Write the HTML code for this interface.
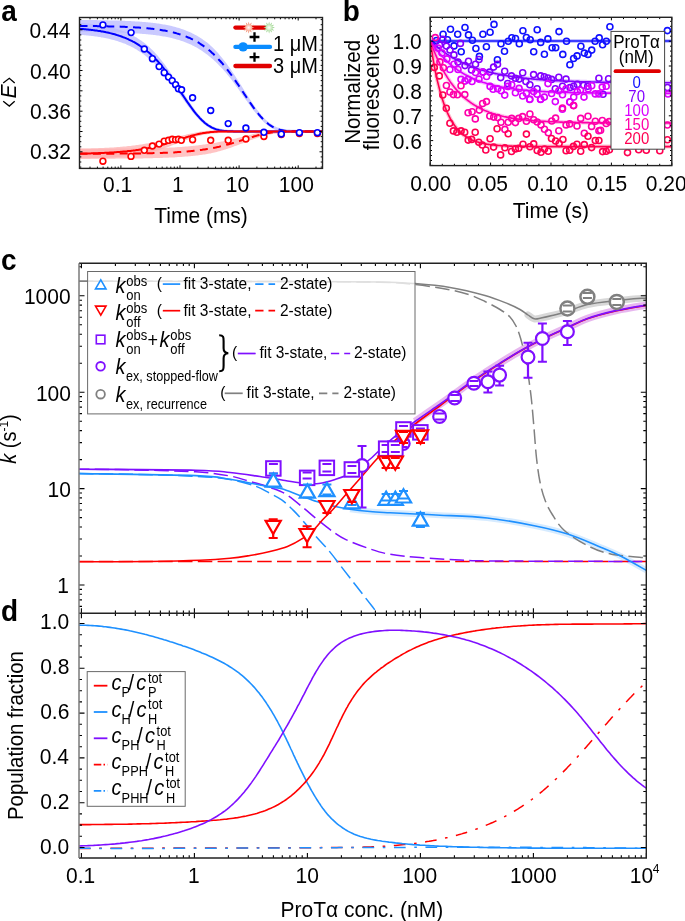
<!DOCTYPE html>
<html><head><meta charset="utf-8"><style>
html,body{margin:0;padding:0;background:#fff;}
svg{display:block;will-change:transform;}
</style></head><body>
<svg width="685" height="921" viewBox="0 0 685 921">
<defs><clipPath id="ca"><rect x="79.5" y="17.5" width="243.0" height="150.9"/></clipPath></defs>
<g clip-path="url(#ca)">
<path d="M79.5,20.0 L80.7,20.0 L81.9,20.0 L83.1,20.0 L84.4,20.0 L85.6,20.0 L86.8,20.0 L88.0,20.0 L89.2,20.1 L90.4,20.1 L91.7,20.1 L92.9,20.1 L94.1,20.1 L95.3,20.1 L96.5,20.1 L97.7,20.2 L98.9,20.2 L100.2,20.2 L101.4,20.2 L102.6,20.2 L103.8,20.3 L105.0,20.3 L106.2,20.3 L107.4,20.3 L108.7,20.4 L109.9,20.4 L111.1,20.4 L112.3,20.4 L113.5,20.5 L114.7,20.5 L116.0,20.5 L117.2,20.6 L118.4,20.6 L119.6,20.6 L120.8,20.7 L122.0,20.7 L123.2,20.8 L124.5,20.8 L125.7,20.9 L126.9,20.9 L128.1,21.0 L129.3,21.0 L130.5,21.1 L131.7,21.2 L133.0,21.2 L134.2,21.3 L135.4,21.4 L136.6,21.4 L137.8,21.5 L139.0,21.6 L140.2,21.7 L141.5,21.8 L142.7,21.9 L143.9,22.0 L145.1,22.1 L146.3,22.2 L147.5,22.3 L148.8,22.4 L150.0,22.5 L151.2,22.7 L152.4,22.8 L153.6,23.0 L154.8,23.1 L156.0,23.3 L157.3,23.4 L158.5,23.6 L159.7,23.8 L160.9,24.0 L162.1,24.2 L163.3,24.4 L164.5,24.6 L165.8,24.8 L167.0,25.1 L168.2,25.3 L169.4,25.6 L170.6,25.8 L171.8,26.1 L173.1,26.4 L174.3,26.7 L175.5,27.0 L176.7,27.4 L177.9,27.7 L179.1,28.1 L180.3,28.5 L181.6,28.9 L182.8,29.3 L184.0,29.8 L185.2,30.2 L186.4,30.7 L187.6,31.2 L188.9,31.7 L190.1,32.2 L191.3,32.8 L192.5,33.4 L193.7,34.0 L194.9,34.7 L196.1,35.3 L197.4,36.0 L198.6,36.7 L199.8,37.5 L201.0,38.3 L202.2,39.1 L203.4,39.9 L204.6,40.8 L205.9,41.7 L207.1,42.6 L208.3,43.6 L209.5,44.6 L210.7,45.7 L211.9,46.8 L213.2,48.0 L214.4,49.2 L215.6,50.5 L216.8,51.8 L218.0,53.1 L219.2,54.5 L220.4,55.9 L221.7,57.4 L222.9,58.9 L224.1,60.4 L225.3,62.0 L226.5,63.6 L227.7,65.2 L228.9,66.9 L230.2,68.6 L231.4,70.4 L232.6,72.2 L233.8,74.0 L235.0,75.8 L236.2,77.7 L237.4,79.6 L238.7,81.5 L239.9,83.4 L241.1,85.3 L242.3,87.2 L243.5,89.2 L244.7,91.1 L246.0,93.1 L247.2,95.0 L248.4,96.9 L249.6,98.8 L250.8,100.6 L252.0,102.5 L253.2,104.3 L254.5,106.0 L255.7,107.8 L256.9,109.4 L258.1,111.0 L259.3,112.6 L260.5,114.1 L261.8,115.5 L263.0,116.9 L264.2,118.2 L265.4,119.4 L266.6,120.5 L267.8,121.6 L269.0,122.6 L270.3,123.5 L271.5,124.3 L272.7,125.1 L273.9,125.7 L275.1,126.4 L276.3,126.9 L277.5,127.4 L278.8,127.8 L280.0,128.2 L281.2,128.5 L282.4,128.8 L283.6,129.0 L284.8,129.2 L286.1,129.3 L287.3,129.5 L288.5,129.6 L289.7,129.6 L290.9,129.7 L292.1,129.8 L293.3,129.8 L294.6,129.8 L295.8,129.8 L297.0,129.9 L298.2,129.9 L299.4,129.9 L300.6,129.9 L301.8,129.9 L303.1,129.9 L304.3,129.9 L305.5,129.9 L306.7,129.9 L307.9,129.9 L309.1,129.9 L310.4,129.9 L311.6,129.9 L312.8,129.9 L314.0,129.9 L315.2,129.9 L316.4,129.9 L317.6,129.9 L318.9,129.9 L320.1,129.9 L321.3,129.9 L322.5,129.9 L322.5,132.9 L321.3,132.9 L320.1,132.9 L318.9,132.9 L317.6,132.9 L316.4,132.9 L315.2,132.9 L314.0,132.9 L312.8,132.9 L311.6,132.9 L310.4,132.9 L309.1,132.9 L307.9,132.9 L306.7,132.9 L305.5,132.9 L304.3,132.9 L303.1,132.9 L301.8,132.9 L300.6,132.9 L299.4,132.9 L298.2,132.9 L297.0,132.9 L295.8,132.9 L294.6,132.8 L293.3,132.8 L292.1,132.8 L290.9,132.7 L289.7,132.7 L288.5,132.6 L287.3,132.5 L286.1,132.4 L284.8,132.3 L283.6,132.1 L282.4,131.9 L281.2,131.6 L280.0,131.4 L278.8,131.0 L277.5,130.6 L276.3,130.2 L275.1,129.7 L273.9,129.2 L272.7,128.6 L271.5,127.9 L270.3,127.1 L269.0,126.3 L267.8,125.5 L266.6,124.5 L265.4,123.5 L264.2,122.4 L263.0,121.3 L261.8,120.0 L260.5,118.8 L259.3,117.4 L258.1,116.0 L256.9,114.6 L255.7,113.1 L254.5,111.6 L253.2,110.0 L252.0,108.4 L250.8,106.7 L249.6,105.0 L248.4,103.4 L247.2,101.6 L246.0,99.9 L244.7,98.2 L243.5,96.5 L242.3,94.7 L241.1,93.0 L239.9,91.3 L238.7,89.5 L237.4,87.8 L236.2,86.2 L235.0,84.5 L233.8,82.8 L232.6,81.2 L231.4,79.6 L230.2,78.1 L228.9,76.5 L227.7,75.0 L226.5,73.5 L225.3,72.1 L224.1,70.7 L222.9,69.3 L221.7,68.0 L220.4,66.7 L219.2,65.4 L218.0,64.2 L216.8,63.0 L215.6,61.8 L214.4,60.7 L213.2,59.6 L211.9,58.6 L210.7,57.5 L209.5,56.6 L208.3,55.6 L207.1,54.6 L205.9,53.7 L204.6,52.8 L203.4,51.9 L202.2,51.1 L201.0,50.3 L199.8,49.5 L198.6,48.7 L197.4,48.0 L196.1,47.3 L194.9,46.7 L193.7,46.0 L192.5,45.4 L191.3,44.8 L190.1,44.2 L188.9,43.7 L187.6,43.2 L186.4,42.7 L185.2,42.2 L184.0,41.8 L182.8,41.3 L181.6,40.9 L180.3,40.5 L179.1,40.1 L177.9,39.7 L176.7,39.4 L175.5,39.0 L174.3,38.7 L173.1,38.4 L171.8,38.1 L170.6,37.8 L169.4,37.6 L168.2,37.3 L167.0,37.1 L165.8,36.8 L164.5,36.6 L163.3,36.4 L162.1,36.2 L160.9,36.0 L159.7,35.8 L158.5,35.6 L157.3,35.4 L156.0,35.3 L154.8,35.1 L153.6,35.0 L152.4,34.8 L151.2,34.7 L150.0,34.5 L148.8,34.4 L147.5,34.3 L146.3,34.2 L145.1,34.1 L143.9,34.0 L142.7,33.9 L141.5,33.8 L140.2,33.7 L139.0,33.6 L137.8,33.5 L136.6,33.4 L135.4,33.4 L134.2,33.3 L133.0,33.2 L131.7,33.2 L130.5,33.1 L129.3,33.0 L128.1,33.0 L126.9,32.9 L125.7,32.9 L124.5,32.8 L123.2,32.8 L122.0,32.7 L120.8,32.7 L119.6,32.6 L118.4,32.6 L117.2,32.6 L116.0,32.5 L114.7,32.5 L113.5,32.5 L112.3,32.4 L111.1,32.4 L109.9,32.4 L108.7,32.4 L107.4,32.3 L106.2,32.3 L105.0,32.3 L103.8,32.3 L102.6,32.2 L101.4,32.2 L100.2,32.2 L98.9,32.2 L97.7,32.2 L96.5,32.1 L95.3,32.1 L94.1,32.1 L92.9,32.1 L91.7,32.1 L90.4,32.1 L89.2,32.1 L88.0,32.0 L86.8,32.0 L85.6,32.0 L84.4,32.0 L83.1,32.0 L81.9,32.0 L80.7,32.0 L79.5,32.0Z" fill="#b8b8ff" fill-opacity="0.75"/>
<path d="M79.5,22.8 L80.7,22.9 L81.9,23.0 L83.1,23.1 L84.4,23.2 L85.6,23.3 L86.8,23.4 L88.0,23.5 L89.2,23.7 L90.4,23.8 L91.7,23.9 L92.9,24.1 L94.1,24.2 L95.3,24.4 L96.5,24.6 L97.7,24.8 L98.9,24.9 L100.2,25.1 L101.4,25.4 L102.6,25.6 L103.8,25.8 L105.0,26.0 L106.2,26.3 L107.4,26.5 L108.7,26.8 L109.9,27.1 L111.1,27.4 L112.3,27.7 L113.5,28.0 L114.7,28.3 L116.0,28.7 L117.2,29.1 L118.4,29.5 L119.6,29.9 L120.8,30.3 L122.0,30.7 L123.2,31.2 L124.5,31.6 L125.7,32.1 L126.9,32.7 L128.1,33.2 L129.3,33.8 L130.5,34.3 L131.7,34.9 L133.0,35.6 L134.2,36.2 L135.4,36.9 L136.6,37.6 L137.8,38.4 L139.0,39.2 L140.2,40.0 L141.5,40.8 L142.7,41.7 L143.9,42.6 L145.1,43.5 L146.3,44.5 L147.5,45.5 L148.8,46.6 L150.0,47.7 L151.2,48.9 L152.4,50.1 L153.6,51.3 L154.8,52.6 L156.0,54.0 L157.3,55.3 L158.5,56.7 L159.7,58.2 L160.9,59.7 L162.1,61.2 L163.3,62.7 L164.5,64.3 L165.8,66.0 L167.0,67.7 L168.2,69.4 L169.4,71.1 L170.6,72.9 L171.8,74.7 L173.1,76.5 L174.3,78.3 L175.5,80.2 L176.7,82.1 L177.9,84.0 L179.1,85.9 L180.3,87.8 L181.6,89.8 L182.8,91.7 L184.0,93.6 L185.2,95.5 L186.4,97.4 L187.6,99.3 L188.9,101.1 L190.1,102.9 L191.3,104.7 L192.5,106.4 L193.7,108.1 L194.9,109.8 L196.1,111.4 L197.4,112.9 L198.6,114.4 L199.8,115.8 L201.0,117.1 L202.2,118.4 L203.4,119.6 L204.6,120.7 L205.9,121.8 L207.1,122.7 L208.3,123.6 L209.5,124.4 L210.7,125.2 L211.9,125.8 L213.2,126.4 L214.4,127.0 L215.6,127.5 L216.8,127.9 L218.0,128.2 L219.2,128.5 L220.4,128.8 L221.7,129.0 L222.9,129.2 L224.1,129.4 L225.3,129.5 L226.5,129.6 L227.7,129.7 L228.9,129.7 L230.2,129.8 L231.4,129.8 L232.6,129.8 L233.8,129.9 L235.0,129.9 L236.2,129.9 L237.4,129.9 L238.7,129.9 L239.9,129.9 L241.1,129.9 L242.3,129.9 L243.5,129.9 L244.7,129.9 L246.0,129.9 L247.2,129.9 L248.4,129.9 L249.6,129.9 L250.8,129.9 L252.0,129.9 L253.2,129.9 L254.5,129.9 L255.7,129.9 L256.9,129.9 L258.1,129.9 L259.3,129.9 L260.5,129.9 L261.8,129.9 L263.0,129.9 L264.2,129.9 L265.4,129.9 L266.6,129.9 L267.8,129.9 L269.0,129.9 L270.3,129.9 L271.5,129.9 L272.7,129.9 L273.9,129.9 L275.1,129.9 L276.3,129.9 L277.5,129.9 L278.8,129.9 L280.0,129.9 L281.2,129.9 L282.4,129.9 L283.6,129.9 L284.8,129.9 L286.1,129.9 L287.3,129.9 L288.5,129.9 L289.7,129.9 L290.9,129.9 L292.1,129.9 L293.3,129.9 L294.6,129.9 L295.8,129.9 L297.0,129.9 L298.2,129.9 L299.4,129.9 L300.6,129.9 L301.8,129.9 L303.1,129.9 L304.3,129.9 L305.5,129.9 L306.7,129.9 L307.9,129.9 L309.1,129.9 L310.4,129.9 L311.6,129.9 L312.8,129.9 L314.0,129.9 L315.2,129.9 L316.4,129.9 L317.6,129.9 L318.9,129.9 L320.1,129.9 L321.3,129.9 L322.5,129.9 L322.5,132.9 L321.3,132.9 L320.1,132.9 L318.9,132.9 L317.6,132.9 L316.4,132.9 L315.2,132.9 L314.0,132.9 L312.8,132.9 L311.6,132.9 L310.4,132.9 L309.1,132.9 L307.9,132.9 L306.7,132.9 L305.5,132.9 L304.3,132.9 L303.1,132.9 L301.8,132.9 L300.6,132.9 L299.4,132.9 L298.2,132.9 L297.0,132.9 L295.8,132.9 L294.6,132.9 L293.3,132.9 L292.1,132.9 L290.9,132.9 L289.7,132.9 L288.5,132.9 L287.3,132.9 L286.1,132.9 L284.8,132.9 L283.6,132.9 L282.4,132.9 L281.2,132.9 L280.0,132.9 L278.8,132.9 L277.5,132.9 L276.3,132.9 L275.1,132.9 L273.9,132.9 L272.7,132.9 L271.5,132.9 L270.3,132.9 L269.0,132.9 L267.8,132.9 L266.6,132.9 L265.4,132.9 L264.2,132.9 L263.0,132.9 L261.8,132.9 L260.5,132.9 L259.3,132.9 L258.1,132.9 L256.9,132.9 L255.7,132.9 L254.5,132.9 L253.2,132.9 L252.0,132.9 L250.8,132.9 L249.6,132.9 L248.4,132.9 L247.2,132.9 L246.0,132.9 L244.7,132.9 L243.5,132.9 L242.3,132.9 L241.1,132.9 L239.9,132.9 L238.7,132.9 L237.4,132.9 L236.2,132.9 L235.0,132.9 L233.8,132.9 L232.6,132.8 L231.4,132.8 L230.2,132.8 L228.9,132.7 L227.7,132.7 L226.5,132.6 L225.3,132.5 L224.1,132.4 L222.9,132.3 L221.7,132.1 L220.4,131.9 L219.2,131.7 L218.0,131.4 L216.8,131.1 L215.6,130.7 L214.4,130.3 L213.2,129.8 L211.9,129.3 L210.7,128.7 L209.5,128.0 L208.3,127.3 L207.1,126.5 L205.9,125.6 L204.6,124.7 L203.4,123.7 L202.2,122.6 L201.0,121.5 L199.8,120.3 L198.6,119.0 L197.4,117.7 L196.1,116.3 L194.9,114.9 L193.7,113.5 L192.5,111.9 L191.3,110.4 L190.1,108.8 L188.9,107.2 L187.6,105.5 L186.4,103.8 L185.2,102.1 L184.0,100.4 L182.8,98.7 L181.6,97.0 L180.3,95.3 L179.1,93.6 L177.9,91.9 L176.7,90.2 L175.5,88.5 L174.3,86.8 L173.1,85.1 L171.8,83.5 L170.6,81.9 L169.4,80.3 L168.2,78.8 L167.0,77.2 L165.8,75.8 L164.5,74.3 L163.3,72.9 L162.1,71.5 L160.9,70.1 L159.7,68.8 L158.5,67.5 L157.3,66.2 L156.0,65.0 L154.8,63.8 L153.6,62.7 L152.4,61.5 L151.2,60.5 L150.0,59.4 L148.8,58.4 L147.5,57.4 L146.3,56.5 L145.1,55.5 L143.9,54.6 L142.7,53.7 L141.5,52.8 L140.2,52.0 L139.0,51.2 L137.8,50.4 L136.6,49.6 L135.4,48.9 L134.2,48.2 L133.0,47.6 L131.7,46.9 L130.5,46.3 L129.3,45.8 L128.1,45.2 L126.9,44.7 L125.7,44.1 L124.5,43.6 L123.2,43.2 L122.0,42.7 L120.8,42.3 L119.6,41.9 L118.4,41.5 L117.2,41.1 L116.0,40.7 L114.7,40.3 L113.5,40.0 L112.3,39.7 L111.1,39.4 L109.9,39.1 L108.7,38.8 L107.4,38.5 L106.2,38.3 L105.0,38.0 L103.8,37.8 L102.6,37.6 L101.4,37.4 L100.2,37.1 L98.9,36.9 L97.7,36.8 L96.5,36.6 L95.3,36.4 L94.1,36.2 L92.9,36.1 L91.7,35.9 L90.4,35.8 L89.2,35.7 L88.0,35.5 L86.8,35.4 L85.6,35.3 L84.4,35.2 L83.1,35.1 L81.9,35.0 L80.7,34.9 L79.5,34.8Z" fill="#b8b8ff" fill-opacity="0.75"/>
<path d="M79.5,148.8 L80.7,148.8 L81.9,148.8 L83.1,148.8 L84.4,148.8 L85.6,148.8 L86.8,148.8 L88.0,148.7 L89.2,148.7 L90.4,148.7 L91.7,148.7 L92.9,148.7 L94.1,148.7 L95.3,148.7 L96.5,148.7 L97.7,148.7 L98.9,148.7 L100.2,148.7 L101.4,148.7 L102.6,148.7 L103.8,148.7 L105.0,148.7 L106.2,148.7 L107.4,148.7 L108.7,148.7 L109.9,148.7 L111.1,148.7 L112.3,148.7 L113.5,148.7 L114.7,148.7 L116.0,148.6 L117.2,148.6 L118.4,148.6 L119.6,148.6 L120.8,148.6 L122.0,148.6 L123.2,148.6 L124.5,148.6 L125.7,148.6 L126.9,148.6 L128.1,148.6 L129.3,148.5 L130.5,148.5 L131.7,148.5 L133.0,148.5 L134.2,148.5 L135.4,148.5 L136.6,148.5 L137.8,148.4 L139.0,148.4 L140.2,148.4 L141.5,148.4 L142.7,148.4 L143.9,148.3 L145.1,148.3 L146.3,148.3 L147.5,148.3 L148.8,148.3 L150.0,148.2 L151.2,148.2 L152.4,148.2 L153.6,148.1 L154.8,148.1 L156.0,148.1 L157.3,148.0 L158.5,148.0 L159.7,148.0 L160.9,147.9 L162.1,147.9 L163.3,147.8 L164.5,147.8 L165.8,147.8 L167.0,147.7 L168.2,147.7 L169.4,147.6 L170.6,147.5 L171.8,147.5 L173.1,147.4 L174.3,147.4 L175.5,147.3 L176.7,147.2 L177.9,147.1 L179.1,147.1 L180.3,147.0 L181.6,146.9 L182.8,146.8 L184.0,146.7 L185.2,146.6 L186.4,146.5 L187.6,146.4 L188.9,146.3 L190.1,146.2 L191.3,146.1 L192.5,146.0 L193.7,145.8 L194.9,145.7 L196.1,145.6 L197.4,145.4 L198.6,145.3 L199.8,145.1 L201.0,144.9 L202.2,144.8 L203.4,144.6 L204.6,144.4 L205.9,144.2 L207.1,144.0 L208.3,143.8 L209.5,143.6 L210.7,143.4 L211.9,143.3 L213.2,143.1 L214.4,142.9 L215.6,142.7 L216.8,142.5 L218.0,142.3 L219.2,142.1 L220.4,141.8 L221.7,141.6 L222.9,141.4 L224.1,141.1 L225.3,140.9 L226.5,140.6 L227.7,140.4 L228.9,140.1 L230.2,139.8 L231.4,139.5 L232.6,139.2 L233.8,139.0 L235.0,138.7 L236.2,138.4 L237.4,138.1 L238.7,137.8 L239.9,137.5 L241.1,137.2 L242.3,136.8 L243.5,136.5 L244.7,136.2 L246.0,135.9 L247.2,135.6 L248.4,135.3 L249.6,135.0 L250.8,134.7 L252.0,134.4 L253.2,134.1 L254.5,133.8 L255.7,133.5 L256.9,133.3 L258.1,133.0 L259.3,132.8 L260.5,132.5 L261.8,132.3 L263.0,132.1 L264.2,131.9 L265.4,131.7 L266.6,131.5 L267.8,131.3 L269.0,131.1 L270.3,131.0 L271.5,130.8 L272.7,130.7 L273.9,130.6 L275.1,130.5 L276.3,130.4 L277.5,130.3 L278.8,130.3 L280.0,130.2 L281.2,130.1 L282.4,130.1 L283.6,130.1 L284.8,130.0 L286.1,130.0 L287.3,130.0 L288.5,130.0 L289.7,129.9 L290.9,129.9 L292.1,129.9 L293.3,129.9 L294.6,129.9 L295.8,129.9 L297.0,129.9 L298.2,129.9 L299.4,129.9 L300.6,129.9 L301.8,129.9 L303.1,129.9 L304.3,129.9 L305.5,129.9 L306.7,129.9 L307.9,129.9 L309.1,129.9 L310.4,129.9 L311.6,129.9 L312.8,129.9 L314.0,129.9 L315.2,129.9 L316.4,129.9 L317.6,129.9 L318.9,129.9 L320.1,129.9 L321.3,129.9 L322.5,129.9 L322.5,132.9 L321.3,132.9 L320.1,132.9 L318.9,132.9 L317.6,132.9 L316.4,132.9 L315.2,132.9 L314.0,132.9 L312.8,132.9 L311.6,132.9 L310.4,132.9 L309.1,132.9 L307.9,132.9 L306.7,132.9 L305.5,132.9 L304.3,132.9 L303.1,132.9 L301.8,132.9 L300.6,132.9 L299.4,132.9 L298.2,132.9 L297.0,132.9 L295.8,132.9 L294.6,132.9 L293.3,132.9 L292.1,132.9 L290.9,133.0 L289.7,133.0 L288.5,133.0 L287.3,133.0 L286.1,133.1 L284.8,133.1 L283.6,133.1 L282.4,133.2 L281.2,133.3 L280.0,133.3 L278.8,133.4 L277.5,133.5 L276.3,133.7 L275.1,133.8 L273.9,134.0 L272.7,134.1 L271.5,134.3 L270.3,134.5 L269.0,134.8 L267.8,135.0 L266.6,135.3 L265.4,135.5 L264.2,135.8 L263.0,136.2 L261.8,136.5 L260.5,136.8 L259.3,137.2 L258.1,137.6 L256.9,138.0 L255.7,138.4 L254.5,138.8 L253.2,139.2 L252.0,139.7 L250.8,140.1 L249.6,140.6 L248.4,141.0 L247.2,141.5 L246.0,142.0 L244.7,142.4 L243.5,142.9 L242.3,143.4 L241.1,143.8 L239.9,144.3 L238.7,144.8 L237.4,145.2 L236.2,145.7 L235.0,146.1 L233.8,146.6 L232.6,147.0 L231.4,147.4 L230.2,147.9 L228.9,148.3 L227.7,148.7 L226.5,149.1 L225.3,149.5 L224.1,149.8 L222.9,150.2 L221.7,150.6 L220.4,150.9 L219.2,151.3 L218.0,151.6 L216.8,151.9 L215.6,152.2 L214.4,152.5 L213.2,152.8 L211.9,153.1 L210.7,153.4 L209.5,153.6 L208.3,153.8 L207.1,154.0 L205.9,154.2 L204.6,154.4 L203.4,154.6 L202.2,154.8 L201.0,154.9 L199.8,155.1 L198.6,155.3 L197.4,155.4 L196.1,155.6 L194.9,155.7 L193.7,155.8 L192.5,156.0 L191.3,156.1 L190.1,156.2 L188.9,156.3 L187.6,156.4 L186.4,156.5 L185.2,156.6 L184.0,156.7 L182.8,156.8 L181.6,156.9 L180.3,157.0 L179.1,157.1 L177.9,157.1 L176.7,157.2 L175.5,157.3 L174.3,157.4 L173.1,157.4 L171.8,157.5 L170.6,157.5 L169.4,157.6 L168.2,157.7 L167.0,157.7 L165.8,157.8 L164.5,157.8 L163.3,157.8 L162.1,157.9 L160.9,157.9 L159.7,158.0 L158.5,158.0 L157.3,158.0 L156.0,158.1 L154.8,158.1 L153.6,158.1 L152.4,158.2 L151.2,158.2 L150.0,158.2 L148.8,158.3 L147.5,158.3 L146.3,158.3 L145.1,158.3 L143.9,158.3 L142.7,158.4 L141.5,158.4 L140.2,158.4 L139.0,158.4 L137.8,158.4 L136.6,158.5 L135.4,158.5 L134.2,158.5 L133.0,158.5 L131.7,158.5 L130.5,158.5 L129.3,158.5 L128.1,158.6 L126.9,158.6 L125.7,158.6 L124.5,158.6 L123.2,158.6 L122.0,158.6 L120.8,158.6 L119.6,158.6 L118.4,158.6 L117.2,158.6 L116.0,158.6 L114.7,158.7 L113.5,158.7 L112.3,158.7 L111.1,158.7 L109.9,158.7 L108.7,158.7 L107.4,158.7 L106.2,158.7 L105.0,158.7 L103.8,158.7 L102.6,158.7 L101.4,158.7 L100.2,158.7 L98.9,158.7 L97.7,158.7 L96.5,158.7 L95.3,158.7 L94.1,158.7 L92.9,158.7 L91.7,158.7 L90.4,158.7 L89.2,158.7 L88.0,158.7 L86.8,158.8 L85.6,158.8 L84.4,158.8 L83.1,158.8 L81.9,158.8 L80.7,158.8 L79.5,158.8Z" fill="#ffb0b0" fill-opacity="0.75"/>
<path d="M79.5,148.6 L80.7,148.6 L81.9,148.6 L83.1,148.6 L84.4,148.5 L85.6,148.5 L86.8,148.5 L88.0,148.4 L89.2,148.4 L90.4,148.4 L91.7,148.3 L92.9,148.3 L94.1,148.3 L95.3,148.2 L96.5,148.2 L97.7,148.2 L98.9,148.1 L100.2,148.1 L101.4,148.0 L102.6,148.0 L103.8,147.9 L105.0,147.8 L106.2,147.8 L107.4,147.7 L108.7,147.7 L109.9,147.6 L111.1,147.5 L112.3,147.5 L113.5,147.4 L114.7,147.3 L116.0,147.2 L117.2,147.1 L118.4,147.0 L119.6,146.9 L120.8,146.8 L122.0,146.7 L123.2,146.6 L124.5,146.5 L125.7,146.4 L126.9,146.3 L128.1,146.1 L129.3,146.0 L130.5,145.9 L131.7,145.7 L133.0,145.6 L134.2,145.4 L135.4,145.3 L136.6,145.1 L137.8,144.9 L139.0,144.7 L140.2,144.5 L141.5,144.4 L142.7,144.2 L143.9,143.9 L145.1,143.8 L146.3,143.6 L147.5,143.4 L148.8,143.2 L150.0,143.0 L151.2,142.8 L152.4,142.6 L153.6,142.4 L154.8,142.1 L156.0,141.9 L157.3,141.7 L158.5,141.4 L159.7,141.2 L160.9,140.9 L162.1,140.6 L163.3,140.4 L164.5,140.1 L165.8,139.8 L167.0,139.5 L168.2,139.2 L169.4,138.9 L170.6,138.6 L171.8,138.3 L173.1,138.0 L174.3,137.7 L175.5,137.4 L176.7,137.1 L177.9,136.8 L179.1,136.5 L180.3,136.1 L181.6,135.8 L182.8,135.5 L184.0,135.2 L185.2,134.9 L186.4,134.6 L187.6,134.3 L188.9,134.0 L190.1,133.7 L191.3,133.4 L192.5,133.2 L193.7,132.9 L194.9,132.7 L196.1,132.4 L197.4,132.2 L198.6,132.0 L199.8,131.8 L201.0,131.6 L202.2,131.4 L203.4,131.2 L204.6,131.1 L205.9,130.9 L207.1,130.8 L208.3,130.7 L209.5,130.6 L210.7,130.5 L211.9,130.4 L213.2,130.3 L214.4,130.2 L215.6,130.2 L216.8,130.1 L218.0,130.1 L219.2,130.0 L220.4,130.0 L221.7,130.0 L222.9,130.0 L224.1,130.0 L225.3,129.9 L226.5,129.9 L227.7,129.9 L228.9,129.9 L230.2,129.9 L231.4,129.9 L232.6,129.9 L233.8,129.9 L235.0,129.9 L236.2,129.9 L237.4,129.9 L238.7,129.9 L239.9,129.9 L241.1,129.9 L242.3,129.9 L243.5,129.9 L244.7,129.9 L246.0,129.9 L247.2,129.9 L248.4,129.9 L249.6,129.9 L250.8,129.9 L252.0,129.9 L253.2,129.9 L254.5,129.9 L255.7,129.9 L256.9,129.9 L258.1,129.9 L259.3,129.9 L260.5,129.9 L261.8,129.9 L263.0,129.9 L264.2,129.9 L265.4,129.9 L266.6,129.9 L267.8,129.9 L269.0,129.9 L270.3,129.9 L271.5,129.9 L272.7,129.9 L273.9,129.9 L275.1,129.9 L276.3,129.9 L277.5,129.9 L278.8,129.9 L280.0,129.9 L281.2,129.9 L282.4,129.9 L283.6,129.9 L284.8,129.9 L286.1,129.9 L287.3,129.9 L288.5,129.9 L289.7,129.9 L290.9,129.9 L292.1,129.9 L293.3,129.9 L294.6,129.9 L295.8,129.9 L297.0,129.9 L298.2,129.9 L299.4,129.9 L300.6,129.9 L301.8,129.9 L303.1,129.9 L304.3,129.9 L305.5,129.9 L306.7,129.9 L307.9,129.9 L309.1,129.9 L310.4,129.9 L311.6,129.9 L312.8,129.9 L314.0,129.9 L315.2,129.9 L316.4,129.9 L317.6,129.9 L318.9,129.9 L320.1,129.9 L321.3,129.9 L322.5,129.9 L322.5,132.9 L321.3,132.9 L320.1,132.9 L318.9,132.9 L317.6,132.9 L316.4,132.9 L315.2,132.9 L314.0,132.9 L312.8,132.9 L311.6,132.9 L310.4,132.9 L309.1,132.9 L307.9,132.9 L306.7,132.9 L305.5,132.9 L304.3,132.9 L303.1,132.9 L301.8,132.9 L300.6,132.9 L299.4,132.9 L298.2,132.9 L297.0,132.9 L295.8,132.9 L294.6,132.9 L293.3,132.9 L292.1,132.9 L290.9,132.9 L289.7,132.9 L288.5,132.9 L287.3,132.9 L286.1,132.9 L284.8,132.9 L283.6,132.9 L282.4,132.9 L281.2,132.9 L280.0,132.9 L278.8,132.9 L277.5,132.9 L276.3,132.9 L275.1,132.9 L273.9,132.9 L272.7,132.9 L271.5,132.9 L270.3,132.9 L269.0,132.9 L267.8,132.9 L266.6,132.9 L265.4,132.9 L264.2,132.9 L263.0,132.9 L261.8,132.9 L260.5,132.9 L259.3,132.9 L258.1,132.9 L256.9,132.9 L255.7,132.9 L254.5,132.9 L253.2,132.9 L252.0,132.9 L250.8,132.9 L249.6,132.9 L248.4,132.9 L247.2,132.9 L246.0,132.9 L244.7,132.9 L243.5,132.9 L242.3,132.9 L241.1,132.9 L239.9,132.9 L238.7,132.9 L237.4,132.9 L236.2,132.9 L235.0,132.9 L233.8,132.9 L232.6,132.9 L231.4,132.9 L230.2,132.9 L228.9,132.9 L227.7,132.9 L226.5,132.9 L225.3,133.0 L224.1,133.0 L222.9,133.0 L221.7,133.0 L220.4,133.1 L219.2,133.1 L218.0,133.2 L216.8,133.2 L215.6,133.3 L214.4,133.4 L213.2,133.5 L211.9,133.6 L210.7,133.7 L209.5,133.9 L208.3,134.0 L207.1,134.2 L205.9,134.4 L204.6,134.6 L203.4,134.9 L202.2,135.1 L201.0,135.4 L199.8,135.7 L198.6,136.0 L197.4,136.3 L196.1,136.7 L194.9,137.0 L193.7,137.4 L192.5,137.8 L191.3,138.2 L190.1,138.6 L188.9,139.1 L187.6,139.5 L186.4,140.0 L185.2,140.4 L184.0,140.9 L182.8,141.3 L181.6,141.8 L180.3,142.3 L179.1,142.8 L177.9,143.2 L176.7,143.7 L175.5,144.2 L174.3,144.6 L173.1,145.1 L171.8,145.6 L170.6,146.0 L169.4,146.5 L168.2,146.9 L167.0,147.4 L165.8,147.8 L164.5,148.2 L163.3,148.6 L162.1,149.0 L160.9,149.4 L159.7,149.8 L158.5,150.2 L157.3,150.6 L156.0,150.9 L154.8,151.3 L153.6,151.6 L152.4,151.9 L151.2,152.2 L150.0,152.6 L148.8,152.9 L147.5,153.1 L146.3,153.4 L145.1,153.7 L143.9,153.9 L142.7,154.2 L141.5,154.4 L140.2,154.5 L139.0,154.7 L137.8,154.9 L136.6,155.1 L135.4,155.3 L134.2,155.4 L133.0,155.6 L131.7,155.7 L130.5,155.9 L129.3,156.0 L128.1,156.1 L126.9,156.3 L125.7,156.4 L124.5,156.5 L123.2,156.6 L122.0,156.7 L120.8,156.8 L119.6,156.9 L118.4,157.0 L117.2,157.1 L116.0,157.2 L114.7,157.3 L113.5,157.4 L112.3,157.5 L111.1,157.5 L109.9,157.6 L108.7,157.7 L107.4,157.7 L106.2,157.8 L105.0,157.8 L103.8,157.9 L102.6,158.0 L101.4,158.0 L100.2,158.1 L98.9,158.1 L97.7,158.2 L96.5,158.2 L95.3,158.2 L94.1,158.3 L92.9,158.3 L91.7,158.3 L90.4,158.4 L89.2,158.4 L88.0,158.4 L86.8,158.5 L85.6,158.5 L84.4,158.5 L83.1,158.6 L81.9,158.6 L80.7,158.6 L79.5,158.6Z" fill="#ffb0b0" fill-opacity="0.75"/>
<path d="M79.5,26.0 L80.7,26.0 L81.9,26.0 L83.1,26.0 L84.4,26.0 L85.6,26.0 L86.8,26.0 L88.0,26.0 L89.2,26.1 L90.4,26.1 L91.7,26.1 L92.9,26.1 L94.1,26.1 L95.3,26.1 L96.5,26.1 L97.7,26.2 L98.9,26.2 L100.2,26.2 L101.4,26.2 L102.6,26.2 L103.8,26.3 L105.0,26.3 L106.2,26.3 L107.4,26.3 L108.7,26.4 L109.9,26.4 L111.1,26.4 L112.3,26.4 L113.5,26.5 L114.7,26.5 L116.0,26.5 L117.2,26.6 L118.4,26.6 L119.6,26.6 L120.8,26.7 L122.0,26.7 L123.2,26.8 L124.5,26.8 L125.7,26.9 L126.9,26.9 L128.1,27.0 L129.3,27.0 L130.5,27.1 L131.7,27.2 L133.0,27.2 L134.2,27.3 L135.4,27.4 L136.6,27.4 L137.8,27.5 L139.0,27.6 L140.2,27.7 L141.5,27.8 L142.7,27.9 L143.9,28.0 L145.1,28.1 L146.3,28.2 L147.5,28.3 L148.8,28.4 L150.0,28.5 L151.2,28.7 L152.4,28.8 L153.6,29.0 L154.8,29.1 L156.0,29.3 L157.3,29.4 L158.5,29.6 L159.7,29.8 L160.9,30.0 L162.1,30.2 L163.3,30.4 L164.5,30.6 L165.8,30.8 L167.0,31.1 L168.2,31.3 L169.4,31.6 L170.6,31.8 L171.8,32.1 L173.1,32.4 L174.3,32.7 L175.5,33.0 L176.7,33.4 L177.9,33.7 L179.1,34.1 L180.3,34.5 L181.6,34.9 L182.8,35.3 L184.0,35.8 L185.2,36.2 L186.4,36.7 L187.6,37.2 L188.9,37.7 L190.1,38.2 L191.3,38.8 L192.5,39.4 L193.7,40.0 L194.9,40.7 L196.1,41.3 L197.4,42.0 L198.6,42.7 L199.8,43.5 L201.0,44.3 L202.2,45.1 L203.4,45.9 L204.6,46.8 L205.9,47.7 L207.1,48.6 L208.3,49.6 L209.5,50.6 L210.7,51.6 L211.9,52.7 L213.2,53.8 L214.4,55.0 L215.6,56.2 L216.8,57.4 L218.0,58.6 L219.2,60.0 L220.4,61.3 L221.7,62.7 L222.9,64.1 L224.1,65.5 L225.3,67.0 L226.5,68.6 L227.7,70.1 L228.9,71.7 L230.2,73.3 L231.4,75.0 L232.6,76.7 L233.8,78.4 L235.0,80.1 L236.2,81.9 L237.4,83.7 L238.7,85.5 L239.9,87.3 L241.1,89.1 L242.3,91.0 L243.5,92.8 L244.7,94.7 L246.0,96.5 L247.2,98.3 L248.4,100.1 L249.6,101.9 L250.8,103.7 L252.0,105.4 L253.2,107.1 L254.5,108.8 L255.7,110.4 L256.9,112.0 L258.1,113.5 L259.3,115.0 L260.5,116.4 L261.8,117.8 L263.0,119.1 L264.2,120.3 L265.4,121.4 L266.6,122.5 L267.8,123.5 L269.0,124.5 L270.3,125.3 L271.5,126.1 L272.7,126.8 L273.9,127.5 L275.1,128.0 L276.3,128.6 L277.5,129.0 L278.8,129.4 L280.0,129.8 L281.2,130.1 L282.4,130.3 L283.6,130.5 L284.8,130.7 L286.1,130.9 L287.3,131.0 L288.5,131.1 L289.7,131.2 L290.9,131.2 L292.1,131.3 L293.3,131.3 L294.6,131.3 L295.8,131.4 L297.0,131.4 L298.2,131.4 L299.4,131.4 L300.6,131.4 L301.8,131.4 L303.1,131.4 L304.3,131.4 L305.5,131.4 L306.7,131.4 L307.9,131.4 L309.1,131.4 L310.4,131.4 L311.6,131.4 L312.8,131.4 L314.0,131.4 L315.2,131.4 L316.4,131.4 L317.6,131.4 L318.9,131.4 L320.1,131.4 L321.3,131.4 L322.5,131.4" fill="none" stroke="#0000ff" stroke-width="2" stroke-dasharray="8,5.4"/>
<path d="M79.5,28.8 L80.7,28.9 L81.9,29.0 L83.1,29.1 L84.4,29.2 L85.6,29.3 L86.8,29.4 L88.0,29.5 L89.2,29.7 L90.4,29.8 L91.7,29.9 L92.9,30.1 L94.1,30.2 L95.3,30.4 L96.5,30.6 L97.7,30.8 L98.9,30.9 L100.2,31.1 L101.4,31.4 L102.6,31.6 L103.8,31.8 L105.0,32.0 L106.2,32.3 L107.4,32.5 L108.7,32.8 L109.9,33.1 L111.1,33.4 L112.3,33.7 L113.5,34.0 L114.7,34.3 L116.0,34.7 L117.2,35.1 L118.4,35.5 L119.6,35.9 L120.8,36.3 L122.0,36.7 L123.2,37.2 L124.5,37.6 L125.7,38.1 L126.9,38.7 L128.1,39.2 L129.3,39.8 L130.5,40.3 L131.7,40.9 L133.0,41.6 L134.2,42.2 L135.4,42.9 L136.6,43.6 L137.8,44.4 L139.0,45.2 L140.2,46.0 L141.5,46.8 L142.7,47.7 L143.9,48.6 L145.1,49.5 L146.3,50.5 L147.5,51.5 L148.8,52.5 L150.0,53.6 L151.2,54.7 L152.4,55.8 L153.6,57.0 L154.8,58.2 L156.0,59.5 L157.3,60.8 L158.5,62.1 L159.7,63.5 L160.9,64.9 L162.1,66.3 L163.3,67.8 L164.5,69.3 L165.8,70.9 L167.0,72.5 L168.2,74.1 L169.4,75.7 L170.6,77.4 L171.8,79.1 L173.1,80.8 L174.3,82.6 L175.5,84.3 L176.7,86.1 L177.9,87.9 L179.1,89.7 L180.3,91.6 L181.6,93.4 L182.8,95.2 L184.0,97.0 L185.2,98.8 L186.4,100.6 L187.6,102.4 L188.9,104.1 L190.1,105.9 L191.3,107.5 L192.5,109.2 L193.7,110.8 L194.9,112.4 L196.1,113.9 L197.4,115.3 L198.6,116.7 L199.8,118.1 L201.0,119.3 L202.2,120.5 L203.4,121.6 L204.6,122.7 L205.9,123.7 L207.1,124.6 L208.3,125.5 L209.5,126.2 L210.7,126.9 L211.9,127.6 L213.2,128.1 L214.4,128.6 L215.6,129.1 L216.8,129.5 L218.0,129.8 L219.2,130.1 L220.4,130.4 L221.7,130.6 L222.9,130.7 L224.1,130.9 L225.3,131.0 L226.5,131.1 L227.7,131.2 L228.9,131.2 L230.2,131.3 L231.4,131.3 L232.6,131.3 L233.8,131.4 L235.0,131.4 L236.2,131.4 L237.4,131.4 L238.7,131.4 L239.9,131.4 L241.1,131.4 L242.3,131.4 L243.5,131.4 L244.7,131.4 L246.0,131.4 L247.2,131.4 L248.4,131.4 L249.6,131.4 L250.8,131.4 L252.0,131.4 L253.2,131.4 L254.5,131.4 L255.7,131.4 L256.9,131.4 L258.1,131.4 L259.3,131.4 L260.5,131.4 L261.8,131.4 L263.0,131.4 L264.2,131.4 L265.4,131.4 L266.6,131.4 L267.8,131.4 L269.0,131.4 L270.3,131.4 L271.5,131.4 L272.7,131.4 L273.9,131.4 L275.1,131.4 L276.3,131.4 L277.5,131.4 L278.8,131.4 L280.0,131.4 L281.2,131.4 L282.4,131.4 L283.6,131.4 L284.8,131.4 L286.1,131.4 L287.3,131.4 L288.5,131.4 L289.7,131.4 L290.9,131.4 L292.1,131.4 L293.3,131.4 L294.6,131.4 L295.8,131.4 L297.0,131.4 L298.2,131.4 L299.4,131.4 L300.6,131.4 L301.8,131.4 L303.1,131.4 L304.3,131.4 L305.5,131.4 L306.7,131.4 L307.9,131.4 L309.1,131.4 L310.4,131.4 L311.6,131.4 L312.8,131.4 L314.0,131.4 L315.2,131.4 L316.4,131.4 L317.6,131.4 L318.9,131.4 L320.1,131.4 L321.3,131.4 L322.5,131.4" fill="none" stroke="#0000ff" stroke-width="2"/>
<path d="M79.5,153.8 L80.7,153.8 L81.9,153.8 L83.1,153.8 L84.4,153.8 L85.6,153.8 L86.8,153.8 L88.0,153.7 L89.2,153.7 L90.4,153.7 L91.7,153.7 L92.9,153.7 L94.1,153.7 L95.3,153.7 L96.5,153.7 L97.7,153.7 L98.9,153.7 L100.2,153.7 L101.4,153.7 L102.6,153.7 L103.8,153.7 L105.0,153.7 L106.2,153.7 L107.4,153.7 L108.7,153.7 L109.9,153.7 L111.1,153.7 L112.3,153.7 L113.5,153.7 L114.7,153.7 L116.0,153.6 L117.2,153.6 L118.4,153.6 L119.6,153.6 L120.8,153.6 L122.0,153.6 L123.2,153.6 L124.5,153.6 L125.7,153.6 L126.9,153.6 L128.1,153.6 L129.3,153.5 L130.5,153.5 L131.7,153.5 L133.0,153.5 L134.2,153.5 L135.4,153.5 L136.6,153.5 L137.8,153.4 L139.0,153.4 L140.2,153.4 L141.5,153.4 L142.7,153.4 L143.9,153.3 L145.1,153.3 L146.3,153.3 L147.5,153.3 L148.8,153.3 L150.0,153.2 L151.2,153.2 L152.4,153.2 L153.6,153.1 L154.8,153.1 L156.0,153.1 L157.3,153.0 L158.5,153.0 L159.7,153.0 L160.9,152.9 L162.1,152.9 L163.3,152.8 L164.5,152.8 L165.8,152.8 L167.0,152.7 L168.2,152.7 L169.4,152.6 L170.6,152.5 L171.8,152.5 L173.1,152.4 L174.3,152.4 L175.5,152.3 L176.7,152.2 L177.9,152.1 L179.1,152.1 L180.3,152.0 L181.6,151.9 L182.8,151.8 L184.0,151.7 L185.2,151.6 L186.4,151.5 L187.6,151.4 L188.9,151.3 L190.1,151.2 L191.3,151.1 L192.5,151.0 L193.7,150.8 L194.9,150.7 L196.1,150.6 L197.4,150.4 L198.6,150.3 L199.8,150.1 L201.0,149.9 L202.2,149.8 L203.4,149.6 L204.6,149.4 L205.9,149.2 L207.1,149.0 L208.3,148.8 L209.5,148.6 L210.7,148.4 L211.9,148.2 L213.2,147.9 L214.4,147.7 L215.6,147.5 L216.8,147.2 L218.0,146.9 L219.2,146.7 L220.4,146.4 L221.7,146.1 L222.9,145.8 L224.1,145.5 L225.3,145.2 L226.5,144.8 L227.7,144.5 L228.9,144.2 L230.2,143.8 L231.4,143.5 L232.6,143.1 L233.8,142.8 L235.0,142.4 L236.2,142.0 L237.4,141.7 L238.7,141.3 L239.9,140.9 L241.1,140.5 L242.3,140.1 L243.5,139.7 L244.7,139.3 L246.0,138.9 L247.2,138.6 L248.4,138.2 L249.6,137.8 L250.8,137.4 L252.0,137.0 L253.2,136.7 L254.5,136.3 L255.7,136.0 L256.9,135.6 L258.1,135.3 L259.3,135.0 L260.5,134.7 L261.8,134.4 L263.0,134.1 L264.2,133.8 L265.4,133.6 L266.6,133.4 L267.8,133.1 L269.0,132.9 L270.3,132.8 L271.5,132.6 L272.7,132.4 L273.9,132.3 L275.1,132.2 L276.3,132.0 L277.5,131.9 L278.8,131.9 L280.0,131.8 L281.2,131.7 L282.4,131.6 L283.6,131.6 L284.8,131.6 L286.1,131.5 L287.3,131.5 L288.5,131.5 L289.7,131.5 L290.9,131.4 L292.1,131.4 L293.3,131.4 L294.6,131.4 L295.8,131.4 L297.0,131.4 L298.2,131.4 L299.4,131.4 L300.6,131.4 L301.8,131.4 L303.1,131.4 L304.3,131.4 L305.5,131.4 L306.7,131.4 L307.9,131.4 L309.1,131.4 L310.4,131.4 L311.6,131.4 L312.8,131.4 L314.0,131.4 L315.2,131.4 L316.4,131.4 L317.6,131.4 L318.9,131.4 L320.1,131.4 L321.3,131.4 L322.5,131.4" fill="none" stroke="#ff0000" stroke-width="2" stroke-dasharray="8,5.4"/>
<path d="M79.5,153.6 L80.7,153.6 L81.9,153.6 L83.1,153.6 L84.4,153.5 L85.6,153.5 L86.8,153.5 L88.0,153.4 L89.2,153.4 L90.4,153.4 L91.7,153.3 L92.9,153.3 L94.1,153.3 L95.3,153.2 L96.5,153.2 L97.7,153.2 L98.9,153.1 L100.2,153.1 L101.4,153.0 L102.6,153.0 L103.8,152.9 L105.0,152.8 L106.2,152.8 L107.4,152.7 L108.7,152.7 L109.9,152.6 L111.1,152.5 L112.3,152.5 L113.5,152.4 L114.7,152.3 L116.0,152.2 L117.2,152.1 L118.4,152.0 L119.6,151.9 L120.8,151.8 L122.0,151.7 L123.2,151.6 L124.5,151.5 L125.7,151.4 L126.9,151.3 L128.1,151.1 L129.3,151.0 L130.5,150.9 L131.7,150.7 L133.0,150.6 L134.2,150.4 L135.4,150.3 L136.6,150.1 L137.8,149.9 L139.0,149.7 L140.2,149.5 L141.5,149.4 L142.7,149.2 L143.9,148.9 L145.1,148.7 L146.3,148.5 L147.5,148.3 L148.8,148.0 L150.0,147.8 L151.2,147.5 L152.4,147.3 L153.6,147.0 L154.8,146.7 L156.0,146.4 L157.3,146.1 L158.5,145.8 L159.7,145.5 L160.9,145.2 L162.1,144.8 L163.3,144.5 L164.5,144.2 L165.8,143.8 L167.0,143.4 L168.2,143.1 L169.4,142.7 L170.6,142.3 L171.8,142.0 L173.1,141.6 L174.3,141.2 L175.5,140.8 L176.7,140.4 L177.9,140.0 L179.1,139.6 L180.3,139.2 L181.6,138.8 L182.8,138.4 L184.0,138.0 L185.2,137.7 L186.4,137.3 L187.6,136.9 L188.9,136.5 L190.1,136.2 L191.3,135.8 L192.5,135.5 L193.7,135.2 L194.9,134.9 L196.1,134.6 L197.4,134.3 L198.6,134.0 L199.8,133.7 L201.0,133.5 L202.2,133.3 L203.4,133.0 L204.6,132.9 L205.9,132.7 L207.1,132.5 L208.3,132.4 L209.5,132.2 L210.7,132.1 L211.9,132.0 L213.2,131.9 L214.4,131.8 L215.6,131.7 L216.8,131.7 L218.0,131.6 L219.2,131.6 L220.4,131.5 L221.7,131.5 L222.9,131.5 L224.1,131.5 L225.3,131.4 L226.5,131.4 L227.7,131.4 L228.9,131.4 L230.2,131.4 L231.4,131.4 L232.6,131.4 L233.8,131.4 L235.0,131.4 L236.2,131.4 L237.4,131.4 L238.7,131.4 L239.9,131.4 L241.1,131.4 L242.3,131.4 L243.5,131.4 L244.7,131.4 L246.0,131.4 L247.2,131.4 L248.4,131.4 L249.6,131.4 L250.8,131.4 L252.0,131.4 L253.2,131.4 L254.5,131.4 L255.7,131.4 L256.9,131.4 L258.1,131.4 L259.3,131.4 L260.5,131.4 L261.8,131.4 L263.0,131.4 L264.2,131.4 L265.4,131.4 L266.6,131.4 L267.8,131.4 L269.0,131.4 L270.3,131.4 L271.5,131.4 L272.7,131.4 L273.9,131.4 L275.1,131.4 L276.3,131.4 L277.5,131.4 L278.8,131.4 L280.0,131.4 L281.2,131.4 L282.4,131.4 L283.6,131.4 L284.8,131.4 L286.1,131.4 L287.3,131.4 L288.5,131.4 L289.7,131.4 L290.9,131.4 L292.1,131.4 L293.3,131.4 L294.6,131.4 L295.8,131.4 L297.0,131.4 L298.2,131.4 L299.4,131.4 L300.6,131.4 L301.8,131.4 L303.1,131.4 L304.3,131.4 L305.5,131.4 L306.7,131.4 L307.9,131.4 L309.1,131.4 L310.4,131.4 L311.6,131.4 L312.8,131.4 L314.0,131.4 L315.2,131.4 L316.4,131.4 L317.6,131.4 L318.9,131.4 L320.1,131.4 L321.3,131.4 L322.5,131.4" fill="none" stroke="#ff0000" stroke-width="2"/>
</g>
<circle cx="102.9" cy="161.2" r="2.9" fill="#fff" stroke="#ff0000" stroke-width="1.6"/>
<circle cx="131" cy="156.4" r="2.9" fill="#fff" stroke="#ff0000" stroke-width="1.6"/>
<circle cx="144.3" cy="150.3" r="2.9" fill="#fff" stroke="#ff0000" stroke-width="1.6"/>
<circle cx="152.4" cy="146" r="2.9" fill="#fff" stroke="#ff0000" stroke-width="1.6"/>
<circle cx="159.1" cy="144.1" r="2.9" fill="#fff" stroke="#ff0000" stroke-width="1.6"/>
<circle cx="164.2" cy="141.2" r="2.9" fill="#fff" stroke="#ff0000" stroke-width="1.6"/>
<circle cx="168.5" cy="140.3" r="2.9" fill="#fff" stroke="#ff0000" stroke-width="1.6"/>
<circle cx="172.2" cy="139.3" r="2.9" fill="#fff" stroke="#ff0000" stroke-width="1.6"/>
<circle cx="175.6" cy="139.7" r="2.9" fill="#fff" stroke="#ff0000" stroke-width="1.6"/>
<circle cx="178.4" cy="139.3" r="2.9" fill="#fff" stroke="#ff0000" stroke-width="1.6"/>
<circle cx="181.3" cy="140.3" r="2.9" fill="#fff" stroke="#ff0000" stroke-width="1.6"/>
<circle cx="192.6" cy="139.7" r="2.9" fill="#fff" stroke="#ff0000" stroke-width="1.6"/>
<circle cx="210.7" cy="140.3" r="2.9" fill="#fff" stroke="#ff0000" stroke-width="1.6"/>
<circle cx="228.2" cy="140.3" r="2.9" fill="#fff" stroke="#ff0000" stroke-width="1.6"/>
<circle cx="245.9" cy="139" r="2.9" fill="#fff" stroke="#ff0000" stroke-width="1.6"/>
<circle cx="263.9" cy="136.5" r="2.9" fill="#fff" stroke="#ff0000" stroke-width="1.6"/>
<circle cx="281.3" cy="134.5" r="2.9" fill="#fff" stroke="#ff0000" stroke-width="1.6"/>
<circle cx="299.4" cy="133.5" r="2.9" fill="#fff" stroke="#ff0000" stroke-width="1.6"/>
<circle cx="317.4" cy="133.5" r="2.9" fill="#fff" stroke="#ff0000" stroke-width="1.6"/>
<circle cx="102.9" cy="24.9" r="2.9" fill="#fff" stroke="#0000ff" stroke-width="1.6"/>
<circle cx="131.1" cy="32.6" r="2.9" fill="#fff" stroke="#0000ff" stroke-width="1.6"/>
<circle cx="144.3" cy="49" r="2.9" fill="#fff" stroke="#0000ff" stroke-width="1.6"/>
<circle cx="152.4" cy="58.7" r="2.9" fill="#fff" stroke="#0000ff" stroke-width="1.6"/>
<circle cx="159.1" cy="66.6" r="2.9" fill="#fff" stroke="#0000ff" stroke-width="1.6"/>
<circle cx="164.2" cy="72.7" r="2.9" fill="#fff" stroke="#0000ff" stroke-width="1.6"/>
<circle cx="168.5" cy="77.1" r="2.9" fill="#fff" stroke="#0000ff" stroke-width="1.6"/>
<circle cx="172.2" cy="80.7" r="2.9" fill="#fff" stroke="#0000ff" stroke-width="1.6"/>
<circle cx="175.6" cy="84.7" r="2.9" fill="#fff" stroke="#0000ff" stroke-width="1.6"/>
<circle cx="178.4" cy="88.8" r="2.9" fill="#fff" stroke="#0000ff" stroke-width="1.6"/>
<circle cx="181.6" cy="89.8" r="2.9" fill="#fff" stroke="#0000ff" stroke-width="1.6"/>
<circle cx="192.6" cy="97.8" r="2.9" fill="#fff" stroke="#0000ff" stroke-width="1.6"/>
<circle cx="210.7" cy="110.5" r="2.9" fill="#fff" stroke="#0000ff" stroke-width="1.6"/>
<circle cx="228.2" cy="123.6" r="2.9" fill="#fff" stroke="#0000ff" stroke-width="1.6"/>
<circle cx="245.9" cy="128" r="2.9" fill="#fff" stroke="#0000ff" stroke-width="1.6"/>
<circle cx="263.9" cy="132.3" r="2.9" fill="#fff" stroke="#0000ff" stroke-width="1.6"/>
<circle cx="281.3" cy="134" r="2.9" fill="#fff" stroke="#0000ff" stroke-width="1.6"/>
<circle cx="299.4" cy="132.7" r="2.9" fill="#fff" stroke="#0000ff" stroke-width="1.6"/>
<circle cx="317.4" cy="132.7" r="2.9" fill="#fff" stroke="#0000ff" stroke-width="1.6"/>
<path d="M79.6,168.4v-1.8M79.6,17.5v1.8M90.0,168.4v-1.8M90.0,17.5v1.8M97.4,168.4v-1.8M97.4,17.5v1.8M103.1,168.4v-1.8M103.1,17.5v1.8M107.8,168.4v-1.8M107.8,17.5v1.8M111.7,168.4v-1.8M111.7,17.5v1.8M115.2,168.4v-1.8M115.2,17.5v1.8M118.2,168.4v-1.8M118.2,17.5v1.8M120.9,168.4v-3M120.9,17.5v3M138.7,168.4v-1.8M138.7,17.5v1.8M149.1,168.4v-1.8M149.1,17.5v1.8M156.5,168.4v-1.8M156.5,17.5v1.8M162.2,168.4v-1.8M162.2,17.5v1.8M166.9,168.4v-1.8M166.9,17.5v1.8M170.8,168.4v-1.8M170.8,17.5v1.8M174.3,168.4v-1.8M174.3,17.5v1.8M177.3,168.4v-1.8M177.3,17.5v1.8M180.0,168.4v-3M180.0,17.5v3M197.8,168.4v-1.8M197.8,17.5v1.8M208.2,168.4v-1.8M208.2,17.5v1.8M215.6,168.4v-1.8M215.6,17.5v1.8M221.3,168.4v-1.8M221.3,17.5v1.8M226.0,168.4v-1.8M226.0,17.5v1.8M229.9,168.4v-1.8M229.9,17.5v1.8M233.4,168.4v-1.8M233.4,17.5v1.8M236.4,168.4v-1.8M236.4,17.5v1.8M239.1,168.4v-3M239.1,17.5v3M256.9,168.4v-1.8M256.9,17.5v1.8M267.3,168.4v-1.8M267.3,17.5v1.8M274.7,168.4v-1.8M274.7,17.5v1.8M280.4,168.4v-1.8M280.4,17.5v1.8M285.1,168.4v-1.8M285.1,17.5v1.8M289.0,168.4v-1.8M289.0,17.5v1.8M292.5,168.4v-1.8M292.5,17.5v1.8M295.5,168.4v-1.8M295.5,17.5v1.8M298.2,168.4v-3M298.2,17.5v3M316.0,168.4v-1.8M316.0,17.5v1.8M79.5,167.1h1.8M322.5,167.1h-1.8M79.5,162.0h1.8M322.5,162.0h-1.8M79.5,156.9h1.8M322.5,156.9h-1.8M79.5,151.8h3M322.5,151.8h-3M79.5,146.8h1.8M322.5,146.8h-1.8M79.5,141.7h1.8M322.5,141.7h-1.8M79.5,136.6h1.8M322.5,136.6h-1.8M79.5,131.5h3M322.5,131.5h-3M79.5,126.4h1.8M322.5,126.4h-1.8M79.5,121.3h1.8M322.5,121.3h-1.8M79.5,116.2h1.8M322.5,116.2h-1.8M79.5,111.2h3M322.5,111.2h-3M79.5,106.1h1.8M322.5,106.1h-1.8M79.5,101.0h1.8M322.5,101.0h-1.8M79.5,95.9h1.8M322.5,95.9h-1.8M79.5,90.8h3M322.5,90.8h-3M79.5,85.7h1.8M322.5,85.7h-1.8M79.5,80.6h1.8M322.5,80.6h-1.8M79.5,75.6h1.8M322.5,75.6h-1.8M79.5,70.5h3M322.5,70.5h-3M79.5,65.4h1.8M322.5,65.4h-1.8M79.5,60.3h1.8M322.5,60.3h-1.8M79.5,55.2h1.8M322.5,55.2h-1.8M79.5,50.1h3M322.5,50.1h-3M79.5,45.1h1.8M322.5,45.1h-1.8M79.5,40.0h1.8M322.5,40.0h-1.8M79.5,34.9h1.8M322.5,34.9h-1.8M79.5,29.8h3M322.5,29.8h-3M79.5,24.7h1.8M322.5,24.7h-1.8M79.5,19.6h1.8M322.5,19.6h-1.8" stroke="#000" stroke-width="1" fill="none"/>
<rect x="79.5" y="17.5" width="243.0" height="150.9" fill="none" stroke="#222" stroke-width="1.4"/>
<defs><radialGradient id="gs1"><stop offset="0" stop-color="#fff"/><stop offset="0.35" stop-color="#fbd0c0"/><stop offset="1" stop-color="#f07050"/></radialGradient><radialGradient id="gs2"><stop offset="0" stop-color="#fff"/><stop offset="0.35" stop-color="#d8f0d0"/><stop offset="1" stop-color="#80c870"/></radialGradient></defs>
<path d="M235.4,27.6H266" stroke="#e00000" stroke-width="4.3" stroke-linecap="round"/>
<path d="M248.7,21.8 L249.5,24.5 L251.6,22.6 L251.0,25.3 L253.7,24.7 L251.8,26.8 L254.5,27.6 L251.8,28.4 L253.7,30.5 L251.0,29.9 L251.6,32.6 L249.5,30.7 L248.7,33.4 L247.9,30.7 L245.8,32.6 L246.4,29.9 L243.7,30.5 L245.6,28.4 L242.9,27.6 L245.6,26.8 L243.7,24.7 L246.4,25.3 L245.8,22.6 L247.9,24.5Z" fill="url(#gs1)"/>
<path d="M269.1,21.8 L269.9,24.5 L272.0,22.6 L271.4,25.3 L274.1,24.7 L272.2,26.8 L274.9,27.6 L272.2,28.4 L274.1,30.5 L271.4,29.9 L272.0,32.6 L269.9,30.7 L269.1,33.4 L268.3,30.7 L266.2,32.6 L266.8,29.9 L264.1,30.5 L266.0,28.4 L263.3,27.6 L266.0,26.8 L264.1,24.7 L266.8,25.3 L266.2,22.6 L268.3,24.5Z" fill="url(#gs2)"/>
<path d="M235.4,46.9H270" stroke="#0a8cff" stroke-width="4.3" stroke-linecap="round"/><circle cx="243.1" cy="46.9" r="4.7" fill="#0a8cff"/>
<path d="M235.4,66H270" stroke="#e00000" stroke-width="4.3" stroke-linecap="round"/>
<path d="M249.6,37H259.4M254.5,32.3V41.7M249.6,57.1H259.4M254.5,52.4V61.8" stroke="#000" stroke-width="2.3"/>
<g font-family='"Liberation Sans", sans-serif' font-size="20" fill="#000">
<text transform="matrix(1,0,0,1.08,273.00,50.70)">1 μM</text>
<text transform="matrix(1,0,0,1.08,273.00,72.70)">3 μM</text>
<text font-size="21" transform="matrix(1,0,0,1.08,29.62,38.40)">0.44</text>
<text font-size="21" transform="matrix(1,0,0,1.08,29.88,78.70)">0.40</text>
<text font-size="21" transform="matrix(1,0,0,1.08,30.00,119.00)">0.36</text>
<text font-size="21" transform="matrix(1,0,0,1.08,30.12,159.30)">0.32</text>
<text font-size="21" transform="matrix(1,0,0,1.08,103.11,192.20)">0.1</text>
<text font-size="21" transform="matrix(1,0,0,1.08,171.93,192.20)">1</text>
<text font-size="21" transform="matrix(1,0,0,1.08,225.79,192.20)">10</text>
<text font-size="21" transform="matrix(1,0,0,1.08,278.86,192.20)">100</text>
<text font-size="21" transform="matrix(1,0,0,1.08,154.20,222.90)">Time (ms)</text>
<text font-size="28" font-weight="bold" transform="matrix(1,0,0,1.08,1.25,21.10)">a</text>
<text transform="translate(16,91.6) rotate(-90) scale(1,1.08)" text-anchor="middle" font-style="italic" font-size="21">E</text>
</g>
<path d="M3.2,82.9L9.3,78.3L14.7,82.9M3.2,101.3L9.3,106.1L14.7,101.3" fill="none" stroke="#000" stroke-width="1.3"/>
<defs><clipPath id="cb"><rect x="430.2" y="17.3" width="241.59999999999997" height="148.29999999999998"/></clipPath></defs>
<g clip-path="url(#cb)">
<path d="M430.2,41.0 L431.2,41.0 L432.2,41.0 L433.2,41.0 L434.2,41.0 L435.2,41.0 L436.2,41.0 L437.2,41.0 L438.3,41.0 L439.3,41.0 L440.3,41.0 L441.3,41.0 L442.3,41.0 L443.3,41.0 L444.3,41.0 L445.3,41.0 L446.3,41.0 L447.3,41.0 L448.3,41.0 L449.3,41.0 L450.3,41.0 L451.3,41.0 L452.3,41.0 L453.4,41.0 L454.4,41.0 L455.4,41.0 L456.4,41.0 L457.4,41.0 L458.4,41.0 L459.4,41.0 L460.4,41.0 L461.4,41.0 L462.4,41.0 L463.4,41.0 L464.4,41.0 L465.4,41.0 L466.4,41.0 L467.4,41.0 L468.5,41.0 L469.5,41.0 L470.5,41.0 L471.5,41.0 L472.5,41.0 L473.5,41.0 L474.5,41.0 L475.5,41.0 L476.5,41.0 L477.5,41.0 L478.5,41.0 L479.5,41.0 L480.5,41.0 L481.5,41.0 L482.5,41.0 L483.6,41.0 L484.6,41.0 L485.6,41.0 L486.6,41.0 L487.6,41.0 L488.6,41.0 L489.6,41.0 L490.6,41.0 L491.6,41.0 L492.6,41.0 L493.6,41.0 L494.6,41.0 L495.6,41.0 L496.6,41.0 L497.6,41.0 L498.7,41.0 L499.7,41.0 L500.7,41.0 L501.7,41.0 L502.7,41.0 L503.7,41.0 L504.7,41.0 L505.7,41.0 L506.7,41.0 L507.7,41.0 L508.7,41.0 L509.7,41.0 L510.7,41.0 L511.7,41.0 L512.7,41.0 L513.8,41.0 L514.8,41.0 L515.8,41.0 L516.8,41.0 L517.8,41.0 L518.8,41.0 L519.8,41.0 L520.8,41.0 L521.8,41.0 L522.8,41.0 L523.8,41.0 L524.8,41.0 L525.8,41.0 L526.8,41.0 L527.8,41.0 L528.9,41.0 L529.9,41.0 L530.9,41.0 L531.9,41.0 L532.9,41.0 L533.9,41.0 L534.9,41.0 L535.9,41.0 L536.9,41.0 L537.9,41.0 L538.9,41.0 L539.9,41.0 L540.9,41.0 L541.9,41.0 L542.9,41.0 L544.0,41.0 L545.0,41.0 L546.0,41.0 L547.0,41.0 L548.0,41.0 L549.0,41.0 L550.0,41.0 L551.0,41.0 L552.0,41.0 L553.0,41.0 L554.0,41.0 L555.0,41.0 L556.0,41.0 L557.0,41.0 L558.0,41.0 L559.1,41.0 L560.1,41.0 L561.1,41.0 L562.1,41.0 L563.1,41.0 L564.1,41.0 L565.1,41.0 L566.1,41.0 L567.1,41.0 L568.1,41.0 L569.1,41.0 L570.1,41.0 L571.1,41.0 L572.1,41.0 L573.1,41.0 L574.2,41.0 L575.2,41.0 L576.2,41.0 L577.2,41.0 L578.2,41.0 L579.2,41.0 L580.2,41.0 L581.2,41.0 L582.2,41.0 L583.2,41.0 L584.2,41.0 L585.2,41.0 L586.2,41.0 L587.2,41.0 L588.2,41.0 L589.3,41.0 L590.3,41.0 L591.3,41.0 L592.3,41.0 L593.3,41.0 L594.3,41.0 L595.3,41.0 L596.3,41.0 L597.3,41.0 L598.3,41.0 L599.3,41.0 L600.3,41.0 L601.3,41.0 L602.3,41.0 L603.3,41.0 L604.4,41.0 L605.4,41.0 L606.4,41.0 L607.4,41.0 L608.4,41.0 L609.4,41.0 L610.4,41.0 L611.4,41.0 L612.4,41.0 L613.4,41.0 L614.4,41.0 L615.4,41.0 L616.4,41.0 L617.4,41.0 L618.4,41.0 L619.5,41.0 L620.5,41.0 L621.5,41.0 L622.5,41.0 L623.5,41.0 L624.5,41.0 L625.5,41.0 L626.5,41.0 L627.5,41.0 L628.5,41.0 L629.5,41.0 L630.5,41.0 L631.5,41.0 L632.5,41.0 L633.5,41.0 L634.6,41.0 L635.6,41.0 L636.6,41.0 L637.6,41.0 L638.6,41.0 L639.6,41.0 L640.6,41.0 L641.6,41.0 L642.6,41.0 L643.6,41.0 L644.6,41.0 L645.6,41.0 L646.6,41.0 L647.6,41.0 L648.6,41.0 L649.7,41.0 L650.7,41.0 L651.7,41.0 L652.7,41.0 L653.7,41.0 L654.7,41.0 L655.7,41.0 L656.7,41.0 L657.7,41.0 L658.7,41.0 L659.7,41.0 L660.7,41.0 L661.7,41.0 L662.7,41.0 L663.7,41.0 L664.8,41.0 L665.8,41.0 L666.8,41.0 L667.8,41.0 L668.8,41.0 L669.8,41.0 L670.8,41.0 L671.8,41.0" fill="none" stroke="#1010ff" stroke-width="4" stroke-opacity="0.25"/>
<path d="M430.2,40.6 L431.2,41.6 L432.2,42.5 L433.2,43.4 L434.2,44.3 L435.2,45.2 L436.2,46.1 L437.2,46.9 L438.3,47.8 L439.3,48.6 L440.3,49.4 L441.3,50.1 L442.3,50.9 L443.3,51.6 L444.3,52.3 L445.3,53.0 L446.3,53.7 L447.3,54.4 L448.3,55.0 L449.3,55.7 L450.3,56.3 L451.3,56.9 L452.3,57.5 L453.4,58.1 L454.4,58.7 L455.4,59.2 L456.4,59.8 L457.4,60.3 L458.4,60.8 L459.4,61.3 L460.4,61.8 L461.4,62.3 L462.4,62.8 L463.4,63.2 L464.4,63.7 L465.4,64.1 L466.4,64.6 L467.4,65.0 L468.5,65.4 L469.5,65.8 L470.5,66.2 L471.5,66.6 L472.5,67.0 L473.5,67.3 L474.5,67.7 L475.5,68.0 L476.5,68.4 L477.5,68.7 L478.5,69.0 L479.5,69.4 L480.5,69.7 L481.5,70.0 L482.5,70.3 L483.6,70.6 L484.6,70.9 L485.6,71.1 L486.6,71.4 L487.6,71.7 L488.6,71.9 L489.6,72.2 L490.6,72.4 L491.6,72.7 L492.6,72.9 L493.6,73.1 L494.6,73.4 L495.6,73.6 L496.6,73.8 L497.6,74.0 L498.7,74.2 L499.7,74.4 L500.7,74.6 L501.7,74.8 L502.7,75.0 L503.7,75.2 L504.7,75.4 L505.7,75.5 L506.7,75.7 L507.7,75.9 L508.7,76.0 L509.7,76.2 L510.7,76.3 L511.7,76.5 L512.7,76.6 L513.8,76.8 L514.8,76.9 L515.8,77.1 L516.8,77.2 L517.8,77.3 L518.8,77.5 L519.8,77.6 L520.8,77.7 L521.8,77.8 L522.8,78.0 L523.8,78.1 L524.8,78.2 L525.8,78.3 L526.8,78.4 L527.8,78.5 L528.9,78.6 L529.9,78.7 L530.9,78.8 L531.9,78.9 L532.9,79.0 L533.9,79.1 L534.9,79.2 L535.9,79.3 L536.9,79.4 L537.9,79.4 L538.9,79.5 L539.9,79.6 L540.9,79.7 L541.9,79.8 L542.9,79.8 L544.0,79.9 L545.0,80.0 L546.0,80.0 L547.0,80.1 L548.0,80.2 L549.0,80.2 L550.0,80.3 L551.0,80.4 L552.0,80.4 L553.0,80.5 L554.0,80.5 L555.0,80.6 L556.0,80.7 L557.0,80.7 L558.0,80.8 L559.1,80.8 L560.1,80.9 L561.1,80.9 L562.1,81.0 L563.1,81.0 L564.1,81.0 L565.1,81.1 L566.1,81.1 L567.1,81.2 L568.1,81.2 L569.1,81.3 L570.1,81.3 L571.1,81.3 L572.1,81.4 L573.1,81.4 L574.2,81.5 L575.2,81.5 L576.2,81.5 L577.2,81.6 L578.2,81.6 L579.2,81.6 L580.2,81.7 L581.2,81.7 L582.2,81.7 L583.2,81.7 L584.2,81.8 L585.2,81.8 L586.2,81.8 L587.2,81.9 L588.2,81.9 L589.3,81.9 L590.3,81.9 L591.3,82.0 L592.3,82.0 L593.3,82.0 L594.3,82.0 L595.3,82.0 L596.3,82.1 L597.3,82.1 L598.3,82.1 L599.3,82.1 L600.3,82.2 L601.3,82.2 L602.3,82.2 L603.3,82.2 L604.4,82.2 L605.4,82.2 L606.4,82.3 L607.4,82.3 L608.4,82.3 L609.4,82.3 L610.4,82.3 L611.4,82.3 L612.4,82.4 L613.4,82.4 L614.4,82.4 L615.4,82.4 L616.4,82.4 L617.4,82.4 L618.4,82.4 L619.5,82.5 L620.5,82.5 L621.5,82.5 L622.5,82.5 L623.5,82.5 L624.5,82.5 L625.5,82.5 L626.5,82.5 L627.5,82.5 L628.5,82.6 L629.5,82.6 L630.5,82.6 L631.5,82.6 L632.5,82.6 L633.5,82.6 L634.6,82.6 L635.6,82.6 L636.6,82.6 L637.6,82.6 L638.6,82.6 L639.6,82.7 L640.6,82.7 L641.6,82.7 L642.6,82.7 L643.6,82.7 L644.6,82.7 L645.6,82.7 L646.6,82.7 L647.6,82.7 L648.6,82.7 L649.7,82.7 L650.7,82.7 L651.7,82.7 L652.7,82.7 L653.7,82.8 L654.7,82.8 L655.7,82.8 L656.7,82.8 L657.7,82.8 L658.7,82.8 L659.7,82.8 L660.7,82.8 L661.7,82.8 L662.7,82.8 L663.7,82.8 L664.8,82.8 L665.8,82.8 L666.8,82.8 L667.8,82.8 L668.8,82.8 L669.8,82.8 L670.8,82.8 L671.8,82.8" fill="none" stroke="#8200ff" stroke-width="4" stroke-opacity="0.25"/>
<path d="M430.2,40.6 L431.2,42.1 L432.2,43.7 L433.2,45.1 L434.2,46.5 L435.2,47.9 L436.2,49.2 L437.2,50.5 L438.3,51.8 L439.3,53.0 L440.3,54.2 L441.3,55.3 L442.3,56.5 L443.3,57.5 L444.3,58.6 L445.3,59.6 L446.3,60.6 L447.3,61.6 L448.3,62.5 L449.3,63.4 L450.3,64.3 L451.3,65.1 L452.3,66.0 L453.4,66.8 L454.4,67.6 L455.4,68.3 L456.4,69.0 L457.4,69.8 L458.4,70.5 L459.4,71.1 L460.4,71.8 L461.4,72.4 L462.4,73.0 L463.4,73.6 L464.4,74.2 L465.4,74.8 L466.4,75.3 L467.4,75.8 L468.5,76.4 L469.5,76.9 L470.5,77.3 L471.5,77.8 L472.5,78.3 L473.5,78.7 L474.5,79.1 L475.5,79.6 L476.5,80.0 L477.5,80.4 L478.5,80.7 L479.5,81.1 L480.5,81.5 L481.5,81.8 L482.5,82.2 L483.6,82.5 L484.6,82.8 L485.6,83.1 L486.6,83.4 L487.6,83.7 L488.6,84.0 L489.6,84.3 L490.6,84.5 L491.6,84.8 L492.6,85.1 L493.6,85.3 L494.6,85.5 L495.6,85.8 L496.6,86.0 L497.6,86.2 L498.7,86.4 L499.7,86.6 L500.7,86.8 L501.7,87.0 L502.7,87.2 L503.7,87.4 L504.7,87.6 L505.7,87.7 L506.7,87.9 L507.7,88.1 L508.7,88.2 L509.7,88.4 L510.7,88.5 L511.7,88.7 L512.7,88.8 L513.8,88.9 L514.8,89.1 L515.8,89.2 L516.8,89.3 L517.8,89.4 L518.8,89.6 L519.8,89.7 L520.8,89.8 L521.8,89.9 L522.8,90.0 L523.8,90.1 L524.8,90.2 L525.8,90.3 L526.8,90.4 L527.8,90.5 L528.9,90.5 L529.9,90.6 L530.9,90.7 L531.9,90.8 L532.9,90.9 L533.9,90.9 L534.9,91.0 L535.9,91.1 L536.9,91.1 L537.9,91.2 L538.9,91.3 L539.9,91.3 L540.9,91.4 L541.9,91.5 L542.9,91.5 L544.0,91.6 L545.0,91.6 L546.0,91.7 L547.0,91.7 L548.0,91.8 L549.0,91.8 L550.0,91.9 L551.0,91.9 L552.0,92.0 L553.0,92.0 L554.0,92.0 L555.0,92.1 L556.0,92.1 L557.0,92.2 L558.0,92.2 L559.1,92.2 L560.1,92.3 L561.1,92.3 L562.1,92.3 L563.1,92.4 L564.1,92.4 L565.1,92.4 L566.1,92.5 L567.1,92.5 L568.1,92.5 L569.1,92.5 L570.1,92.6 L571.1,92.6 L572.1,92.6 L573.1,92.6 L574.2,92.7 L575.2,92.7 L576.2,92.7 L577.2,92.7 L578.2,92.7 L579.2,92.8 L580.2,92.8 L581.2,92.8 L582.2,92.8 L583.2,92.8 L584.2,92.8 L585.2,92.9 L586.2,92.9 L587.2,92.9 L588.2,92.9 L589.3,92.9 L590.3,92.9 L591.3,92.9 L592.3,93.0 L593.3,93.0 L594.3,93.0 L595.3,93.0 L596.3,93.0 L597.3,93.0 L598.3,93.0 L599.3,93.0 L600.3,93.1 L601.3,93.1 L602.3,93.1 L603.3,93.1 L604.4,93.1 L605.4,93.1 L606.4,93.1 L607.4,93.1 L608.4,93.1 L609.4,93.1 L610.4,93.1 L611.4,93.2 L612.4,93.2 L613.4,93.2 L614.4,93.2 L615.4,93.2 L616.4,93.2 L617.4,93.2 L618.4,93.2 L619.5,93.2 L620.5,93.2 L621.5,93.2 L622.5,93.2 L623.5,93.2 L624.5,93.2 L625.5,93.2 L626.5,93.2 L627.5,93.2 L628.5,93.2 L629.5,93.3 L630.5,93.3 L631.5,93.3 L632.5,93.3 L633.5,93.3 L634.6,93.3 L635.6,93.3 L636.6,93.3 L637.6,93.3 L638.6,93.3 L639.6,93.3 L640.6,93.3 L641.6,93.3 L642.6,93.3 L643.6,93.3 L644.6,93.3 L645.6,93.3 L646.6,93.3 L647.6,93.3 L648.6,93.3 L649.7,93.3 L650.7,93.3 L651.7,93.3 L652.7,93.3 L653.7,93.3 L654.7,93.3 L655.7,93.3 L656.7,93.3 L657.7,93.3 L658.7,93.3 L659.7,93.3 L660.7,93.3 L661.7,93.3 L662.7,93.3 L663.7,93.3 L664.8,93.3 L665.8,93.4 L666.8,93.4 L667.8,93.4 L668.8,93.4 L669.8,93.4 L670.8,93.4 L671.8,93.4" fill="none" stroke="#dc00ff" stroke-width="4" stroke-opacity="0.25"/>
<path d="M430.2,40.6 L431.2,43.4 L432.2,46.1 L433.2,48.8 L434.2,51.3 L435.2,53.7 L436.2,56.1 L437.2,58.4 L438.3,60.6 L439.3,62.7 L440.3,64.8 L441.3,66.8 L442.3,68.7 L443.3,70.5 L444.3,72.3 L445.3,74.1 L446.3,75.7 L447.3,77.3 L448.3,78.9 L449.3,80.4 L450.3,81.9 L451.3,83.3 L452.3,84.6 L453.4,85.9 L454.4,87.2 L455.4,88.4 L456.4,89.6 L457.4,90.7 L458.4,91.8 L459.4,92.9 L460.4,93.9 L461.4,94.9 L462.4,95.9 L463.4,96.8 L464.4,97.7 L465.4,98.6 L466.4,99.4 L467.4,100.2 L468.5,101.0 L469.5,101.7 L470.5,102.5 L471.5,103.2 L472.5,103.8 L473.5,104.5 L474.5,105.1 L475.5,105.7 L476.5,106.3 L477.5,106.9 L478.5,107.4 L479.5,108.0 L480.5,108.5 L481.5,109.0 L482.5,109.5 L483.6,109.9 L484.6,110.4 L485.6,110.8 L486.6,111.2 L487.6,111.6 L488.6,112.0 L489.6,112.4 L490.6,112.7 L491.6,113.1 L492.6,113.4 L493.6,113.8 L494.6,114.1 L495.6,114.4 L496.6,114.7 L497.6,115.0 L498.7,115.2 L499.7,115.5 L500.7,115.7 L501.7,116.0 L502.7,116.2 L503.7,116.5 L504.7,116.7 L505.7,116.9 L506.7,117.1 L507.7,117.3 L508.7,117.5 L509.7,117.7 L510.7,117.9 L511.7,118.1 L512.7,118.2 L513.8,118.4 L514.8,118.5 L515.8,118.7 L516.8,118.8 L517.8,119.0 L518.8,119.1 L519.8,119.3 L520.8,119.4 L521.8,119.5 L522.8,119.6 L523.8,119.7 L524.8,119.8 L525.8,120.0 L526.8,120.1 L527.8,120.2 L528.9,120.3 L529.9,120.4 L530.9,120.4 L531.9,120.5 L532.9,120.6 L533.9,120.7 L534.9,120.8 L535.9,120.8 L536.9,120.9 L537.9,121.0 L538.9,121.1 L539.9,121.1 L540.9,121.2 L541.9,121.3 L542.9,121.3 L544.0,121.4 L545.0,121.4 L546.0,121.5 L547.0,121.5 L548.0,121.6 L549.0,121.6 L550.0,121.7 L551.0,121.7 L552.0,121.8 L553.0,121.8 L554.0,121.8 L555.0,121.9 L556.0,121.9 L557.0,122.0 L558.0,122.0 L559.1,122.0 L560.1,122.1 L561.1,122.1 L562.1,122.1 L563.1,122.2 L564.1,122.2 L565.1,122.2 L566.1,122.2 L567.1,122.3 L568.1,122.3 L569.1,122.3 L570.1,122.3 L571.1,122.4 L572.1,122.4 L573.1,122.4 L574.2,122.4 L575.2,122.4 L576.2,122.5 L577.2,122.5 L578.2,122.5 L579.2,122.5 L580.2,122.5 L581.2,122.5 L582.2,122.6 L583.2,122.6 L584.2,122.6 L585.2,122.6 L586.2,122.6 L587.2,122.6 L588.2,122.6 L589.3,122.7 L590.3,122.7 L591.3,122.7 L592.3,122.7 L593.3,122.7 L594.3,122.7 L595.3,122.7 L596.3,122.7 L597.3,122.7 L598.3,122.8 L599.3,122.8 L600.3,122.8 L601.3,122.8 L602.3,122.8 L603.3,122.8 L604.4,122.8 L605.4,122.8 L606.4,122.8 L607.4,122.8 L608.4,122.8 L609.4,122.8 L610.4,122.8 L611.4,122.8 L612.4,122.8 L613.4,122.9 L614.4,122.9 L615.4,122.9 L616.4,122.9 L617.4,122.9 L618.4,122.9 L619.5,122.9 L620.5,122.9 L621.5,122.9 L622.5,122.9 L623.5,122.9 L624.5,122.9 L625.5,122.9 L626.5,122.9 L627.5,122.9 L628.5,122.9 L629.5,122.9 L630.5,122.9 L631.5,122.9 L632.5,122.9 L633.5,122.9 L634.6,122.9 L635.6,122.9 L636.6,122.9 L637.6,122.9 L638.6,122.9 L639.6,122.9 L640.6,122.9 L641.6,122.9 L642.6,122.9 L643.6,122.9 L644.6,122.9 L645.6,123.0 L646.6,123.0 L647.6,123.0 L648.6,123.0 L649.7,123.0 L650.7,123.0 L651.7,123.0 L652.7,123.0 L653.7,123.0 L654.7,123.0 L655.7,123.0 L656.7,123.0 L657.7,123.0 L658.7,123.0 L659.7,123.0 L660.7,123.0 L661.7,123.0 L662.7,123.0 L663.7,123.0 L664.8,123.0 L665.8,123.0 L666.8,123.0 L667.8,123.0 L668.8,123.0 L669.8,123.0 L670.8,123.0 L671.8,123.0" fill="none" stroke="#ff00aa" stroke-width="4" stroke-opacity="0.25"/>
<path d="M430.2,40.6 L431.2,47.4 L432.2,53.8 L433.2,59.8 L434.2,65.4 L435.2,70.6 L436.2,75.5 L437.2,80.1 L438.3,84.4 L439.3,88.4 L440.3,92.2 L441.3,95.7 L442.3,99.0 L443.3,102.0 L444.3,104.9 L445.3,107.6 L446.3,110.1 L447.3,112.5 L448.3,114.7 L449.3,116.7 L450.3,118.7 L451.3,120.5 L452.3,122.1 L453.4,123.7 L454.4,125.2 L455.4,126.6 L456.4,127.9 L457.4,129.1 L458.4,130.2 L459.4,131.3 L460.4,132.3 L461.4,133.2 L462.4,134.0 L463.4,134.9 L464.4,135.6 L465.4,136.3 L466.4,137.0 L467.4,137.6 L468.5,138.2 L469.5,138.7 L470.5,139.2 L471.5,139.7 L472.5,140.2 L473.5,140.6 L474.5,141.0 L475.5,141.3 L476.5,141.7 L477.5,142.0 L478.5,142.3 L479.5,142.6 L480.5,142.8 L481.5,143.1 L482.5,143.3 L483.6,143.5 L484.6,143.7 L485.6,143.9 L486.6,144.1 L487.6,144.2 L488.6,144.4 L489.6,144.5 L490.6,144.7 L491.6,144.8 L492.6,144.9 L493.6,145.0 L494.6,145.1 L495.6,145.2 L496.6,145.3 L497.6,145.4 L498.7,145.5 L499.7,145.5 L500.7,145.6 L501.7,145.7 L502.7,145.7 L503.7,145.8 L504.7,145.8 L505.7,145.9 L506.7,145.9 L507.7,146.0 L508.7,146.0 L509.7,146.1 L510.7,146.1 L511.7,146.1 L512.7,146.2 L513.8,146.2 L514.8,146.2 L515.8,146.2 L516.8,146.3 L517.8,146.3 L518.8,146.3 L519.8,146.3 L520.8,146.3 L521.8,146.4 L522.8,146.4 L523.8,146.4 L524.8,146.4 L525.8,146.4 L526.8,146.4 L527.8,146.4 L528.9,146.4 L529.9,146.5 L530.9,146.5 L531.9,146.5 L532.9,146.5 L533.9,146.5 L534.9,146.5 L535.9,146.5 L536.9,146.5 L537.9,146.5 L538.9,146.5 L539.9,146.5 L540.9,146.5 L541.9,146.5 L542.9,146.5 L544.0,146.5 L545.0,146.5 L546.0,146.6 L547.0,146.6 L548.0,146.6 L549.0,146.6 L550.0,146.6 L551.0,146.6 L552.0,146.6 L553.0,146.6 L554.0,146.6 L555.0,146.6 L556.0,146.6 L557.0,146.6 L558.0,146.6 L559.1,146.6 L560.1,146.6 L561.1,146.6 L562.1,146.6 L563.1,146.6 L564.1,146.6 L565.1,146.6 L566.1,146.6 L567.1,146.6 L568.1,146.6 L569.1,146.6 L570.1,146.6 L571.1,146.6 L572.1,146.6 L573.1,146.6 L574.2,146.6 L575.2,146.6 L576.2,146.6 L577.2,146.6 L578.2,146.6 L579.2,146.6 L580.2,146.6 L581.2,146.6 L582.2,146.6 L583.2,146.6 L584.2,146.6 L585.2,146.6 L586.2,146.6 L587.2,146.6 L588.2,146.6 L589.3,146.6 L590.3,146.6 L591.3,146.6 L592.3,146.6 L593.3,146.6 L594.3,146.6 L595.3,146.6 L596.3,146.6 L597.3,146.6 L598.3,146.6 L599.3,146.6 L600.3,146.6 L601.3,146.6 L602.3,146.6 L603.3,146.6 L604.4,146.6 L605.4,146.6 L606.4,146.6 L607.4,146.6 L608.4,146.6 L609.4,146.6 L610.4,146.6 L611.4,146.6 L612.4,146.6 L613.4,146.6 L614.4,146.6 L615.4,146.6 L616.4,146.6 L617.4,146.6 L618.4,146.6 L619.5,146.6 L620.5,146.6 L621.5,146.6 L622.5,146.6 L623.5,146.6 L624.5,146.6 L625.5,146.6 L626.5,146.6 L627.5,146.6 L628.5,146.6 L629.5,146.6 L630.5,146.6 L631.5,146.6 L632.5,146.6 L633.5,146.6 L634.6,146.6 L635.6,146.6 L636.6,146.6 L637.6,146.6 L638.6,146.6 L639.6,146.6 L640.6,146.6 L641.6,146.6 L642.6,146.6 L643.6,146.6 L644.6,146.6 L645.6,146.6 L646.6,146.6 L647.6,146.6 L648.6,146.6 L649.7,146.6 L650.7,146.6 L651.7,146.6 L652.7,146.6 L653.7,146.6 L654.7,146.6 L655.7,146.6 L656.7,146.6 L657.7,146.6 L658.7,146.6 L659.7,146.6 L660.7,146.6 L661.7,146.6 L662.7,146.6 L663.7,146.6 L664.8,146.6 L665.8,146.6 L666.8,146.6 L667.8,146.6 L668.8,146.6 L669.8,146.6 L670.8,146.6 L671.8,146.6" fill="none" stroke="#ff0050" stroke-width="4" stroke-opacity="0.25"/>
<path d="M430.2,41.0 L431.2,41.0 L432.2,41.0 L433.2,41.0 L434.2,41.0 L435.2,41.0 L436.2,41.0 L437.2,41.0 L438.3,41.0 L439.3,41.0 L440.3,41.0 L441.3,41.0 L442.3,41.0 L443.3,41.0 L444.3,41.0 L445.3,41.0 L446.3,41.0 L447.3,41.0 L448.3,41.0 L449.3,41.0 L450.3,41.0 L451.3,41.0 L452.3,41.0 L453.4,41.0 L454.4,41.0 L455.4,41.0 L456.4,41.0 L457.4,41.0 L458.4,41.0 L459.4,41.0 L460.4,41.0 L461.4,41.0 L462.4,41.0 L463.4,41.0 L464.4,41.0 L465.4,41.0 L466.4,41.0 L467.4,41.0 L468.5,41.0 L469.5,41.0 L470.5,41.0 L471.5,41.0 L472.5,41.0 L473.5,41.0 L474.5,41.0 L475.5,41.0 L476.5,41.0 L477.5,41.0 L478.5,41.0 L479.5,41.0 L480.5,41.0 L481.5,41.0 L482.5,41.0 L483.6,41.0 L484.6,41.0 L485.6,41.0 L486.6,41.0 L487.6,41.0 L488.6,41.0 L489.6,41.0 L490.6,41.0 L491.6,41.0 L492.6,41.0 L493.6,41.0 L494.6,41.0 L495.6,41.0 L496.6,41.0 L497.6,41.0 L498.7,41.0 L499.7,41.0 L500.7,41.0 L501.7,41.0 L502.7,41.0 L503.7,41.0 L504.7,41.0 L505.7,41.0 L506.7,41.0 L507.7,41.0 L508.7,41.0 L509.7,41.0 L510.7,41.0 L511.7,41.0 L512.7,41.0 L513.8,41.0 L514.8,41.0 L515.8,41.0 L516.8,41.0 L517.8,41.0 L518.8,41.0 L519.8,41.0 L520.8,41.0 L521.8,41.0 L522.8,41.0 L523.8,41.0 L524.8,41.0 L525.8,41.0 L526.8,41.0 L527.8,41.0 L528.9,41.0 L529.9,41.0 L530.9,41.0 L531.9,41.0 L532.9,41.0 L533.9,41.0 L534.9,41.0 L535.9,41.0 L536.9,41.0 L537.9,41.0 L538.9,41.0 L539.9,41.0 L540.9,41.0 L541.9,41.0 L542.9,41.0 L544.0,41.0 L545.0,41.0 L546.0,41.0 L547.0,41.0 L548.0,41.0 L549.0,41.0 L550.0,41.0 L551.0,41.0 L552.0,41.0 L553.0,41.0 L554.0,41.0 L555.0,41.0 L556.0,41.0 L557.0,41.0 L558.0,41.0 L559.1,41.0 L560.1,41.0 L561.1,41.0 L562.1,41.0 L563.1,41.0 L564.1,41.0 L565.1,41.0 L566.1,41.0 L567.1,41.0 L568.1,41.0 L569.1,41.0 L570.1,41.0 L571.1,41.0 L572.1,41.0 L573.1,41.0 L574.2,41.0 L575.2,41.0 L576.2,41.0 L577.2,41.0 L578.2,41.0 L579.2,41.0 L580.2,41.0 L581.2,41.0 L582.2,41.0 L583.2,41.0 L584.2,41.0 L585.2,41.0 L586.2,41.0 L587.2,41.0 L588.2,41.0 L589.3,41.0 L590.3,41.0 L591.3,41.0 L592.3,41.0 L593.3,41.0 L594.3,41.0 L595.3,41.0 L596.3,41.0 L597.3,41.0 L598.3,41.0 L599.3,41.0 L600.3,41.0 L601.3,41.0 L602.3,41.0 L603.3,41.0 L604.4,41.0 L605.4,41.0 L606.4,41.0 L607.4,41.0 L608.4,41.0 L609.4,41.0 L610.4,41.0 L611.4,41.0 L612.4,41.0 L613.4,41.0 L614.4,41.0 L615.4,41.0 L616.4,41.0 L617.4,41.0 L618.4,41.0 L619.5,41.0 L620.5,41.0 L621.5,41.0 L622.5,41.0 L623.5,41.0 L624.5,41.0 L625.5,41.0 L626.5,41.0 L627.5,41.0 L628.5,41.0 L629.5,41.0 L630.5,41.0 L631.5,41.0 L632.5,41.0 L633.5,41.0 L634.6,41.0 L635.6,41.0 L636.6,41.0 L637.6,41.0 L638.6,41.0 L639.6,41.0 L640.6,41.0 L641.6,41.0 L642.6,41.0 L643.6,41.0 L644.6,41.0 L645.6,41.0 L646.6,41.0 L647.6,41.0 L648.6,41.0 L649.7,41.0 L650.7,41.0 L651.7,41.0 L652.7,41.0 L653.7,41.0 L654.7,41.0 L655.7,41.0 L656.7,41.0 L657.7,41.0 L658.7,41.0 L659.7,41.0 L660.7,41.0 L661.7,41.0 L662.7,41.0 L663.7,41.0 L664.8,41.0 L665.8,41.0 L666.8,41.0 L667.8,41.0 L668.8,41.0 L669.8,41.0 L670.8,41.0 L671.8,41.0" fill="none" stroke="#1010ff" stroke-width="1.6"/>
<path d="M430.2,40.6 L431.2,41.6 L432.2,42.5 L433.2,43.4 L434.2,44.3 L435.2,45.2 L436.2,46.1 L437.2,46.9 L438.3,47.8 L439.3,48.6 L440.3,49.4 L441.3,50.1 L442.3,50.9 L443.3,51.6 L444.3,52.3 L445.3,53.0 L446.3,53.7 L447.3,54.4 L448.3,55.0 L449.3,55.7 L450.3,56.3 L451.3,56.9 L452.3,57.5 L453.4,58.1 L454.4,58.7 L455.4,59.2 L456.4,59.8 L457.4,60.3 L458.4,60.8 L459.4,61.3 L460.4,61.8 L461.4,62.3 L462.4,62.8 L463.4,63.2 L464.4,63.7 L465.4,64.1 L466.4,64.6 L467.4,65.0 L468.5,65.4 L469.5,65.8 L470.5,66.2 L471.5,66.6 L472.5,67.0 L473.5,67.3 L474.5,67.7 L475.5,68.0 L476.5,68.4 L477.5,68.7 L478.5,69.0 L479.5,69.4 L480.5,69.7 L481.5,70.0 L482.5,70.3 L483.6,70.6 L484.6,70.9 L485.6,71.1 L486.6,71.4 L487.6,71.7 L488.6,71.9 L489.6,72.2 L490.6,72.4 L491.6,72.7 L492.6,72.9 L493.6,73.1 L494.6,73.4 L495.6,73.6 L496.6,73.8 L497.6,74.0 L498.7,74.2 L499.7,74.4 L500.7,74.6 L501.7,74.8 L502.7,75.0 L503.7,75.2 L504.7,75.4 L505.7,75.5 L506.7,75.7 L507.7,75.9 L508.7,76.0 L509.7,76.2 L510.7,76.3 L511.7,76.5 L512.7,76.6 L513.8,76.8 L514.8,76.9 L515.8,77.1 L516.8,77.2 L517.8,77.3 L518.8,77.5 L519.8,77.6 L520.8,77.7 L521.8,77.8 L522.8,78.0 L523.8,78.1 L524.8,78.2 L525.8,78.3 L526.8,78.4 L527.8,78.5 L528.9,78.6 L529.9,78.7 L530.9,78.8 L531.9,78.9 L532.9,79.0 L533.9,79.1 L534.9,79.2 L535.9,79.3 L536.9,79.4 L537.9,79.4 L538.9,79.5 L539.9,79.6 L540.9,79.7 L541.9,79.8 L542.9,79.8 L544.0,79.9 L545.0,80.0 L546.0,80.0 L547.0,80.1 L548.0,80.2 L549.0,80.2 L550.0,80.3 L551.0,80.4 L552.0,80.4 L553.0,80.5 L554.0,80.5 L555.0,80.6 L556.0,80.7 L557.0,80.7 L558.0,80.8 L559.1,80.8 L560.1,80.9 L561.1,80.9 L562.1,81.0 L563.1,81.0 L564.1,81.0 L565.1,81.1 L566.1,81.1 L567.1,81.2 L568.1,81.2 L569.1,81.3 L570.1,81.3 L571.1,81.3 L572.1,81.4 L573.1,81.4 L574.2,81.5 L575.2,81.5 L576.2,81.5 L577.2,81.6 L578.2,81.6 L579.2,81.6 L580.2,81.7 L581.2,81.7 L582.2,81.7 L583.2,81.7 L584.2,81.8 L585.2,81.8 L586.2,81.8 L587.2,81.9 L588.2,81.9 L589.3,81.9 L590.3,81.9 L591.3,82.0 L592.3,82.0 L593.3,82.0 L594.3,82.0 L595.3,82.0 L596.3,82.1 L597.3,82.1 L598.3,82.1 L599.3,82.1 L600.3,82.2 L601.3,82.2 L602.3,82.2 L603.3,82.2 L604.4,82.2 L605.4,82.2 L606.4,82.3 L607.4,82.3 L608.4,82.3 L609.4,82.3 L610.4,82.3 L611.4,82.3 L612.4,82.4 L613.4,82.4 L614.4,82.4 L615.4,82.4 L616.4,82.4 L617.4,82.4 L618.4,82.4 L619.5,82.5 L620.5,82.5 L621.5,82.5 L622.5,82.5 L623.5,82.5 L624.5,82.5 L625.5,82.5 L626.5,82.5 L627.5,82.5 L628.5,82.6 L629.5,82.6 L630.5,82.6 L631.5,82.6 L632.5,82.6 L633.5,82.6 L634.6,82.6 L635.6,82.6 L636.6,82.6 L637.6,82.6 L638.6,82.6 L639.6,82.7 L640.6,82.7 L641.6,82.7 L642.6,82.7 L643.6,82.7 L644.6,82.7 L645.6,82.7 L646.6,82.7 L647.6,82.7 L648.6,82.7 L649.7,82.7 L650.7,82.7 L651.7,82.7 L652.7,82.7 L653.7,82.8 L654.7,82.8 L655.7,82.8 L656.7,82.8 L657.7,82.8 L658.7,82.8 L659.7,82.8 L660.7,82.8 L661.7,82.8 L662.7,82.8 L663.7,82.8 L664.8,82.8 L665.8,82.8 L666.8,82.8 L667.8,82.8 L668.8,82.8 L669.8,82.8 L670.8,82.8 L671.8,82.8" fill="none" stroke="#8200ff" stroke-width="1.6"/>
<path d="M430.2,40.6 L431.2,42.1 L432.2,43.7 L433.2,45.1 L434.2,46.5 L435.2,47.9 L436.2,49.2 L437.2,50.5 L438.3,51.8 L439.3,53.0 L440.3,54.2 L441.3,55.3 L442.3,56.5 L443.3,57.5 L444.3,58.6 L445.3,59.6 L446.3,60.6 L447.3,61.6 L448.3,62.5 L449.3,63.4 L450.3,64.3 L451.3,65.1 L452.3,66.0 L453.4,66.8 L454.4,67.6 L455.4,68.3 L456.4,69.0 L457.4,69.8 L458.4,70.5 L459.4,71.1 L460.4,71.8 L461.4,72.4 L462.4,73.0 L463.4,73.6 L464.4,74.2 L465.4,74.8 L466.4,75.3 L467.4,75.8 L468.5,76.4 L469.5,76.9 L470.5,77.3 L471.5,77.8 L472.5,78.3 L473.5,78.7 L474.5,79.1 L475.5,79.6 L476.5,80.0 L477.5,80.4 L478.5,80.7 L479.5,81.1 L480.5,81.5 L481.5,81.8 L482.5,82.2 L483.6,82.5 L484.6,82.8 L485.6,83.1 L486.6,83.4 L487.6,83.7 L488.6,84.0 L489.6,84.3 L490.6,84.5 L491.6,84.8 L492.6,85.1 L493.6,85.3 L494.6,85.5 L495.6,85.8 L496.6,86.0 L497.6,86.2 L498.7,86.4 L499.7,86.6 L500.7,86.8 L501.7,87.0 L502.7,87.2 L503.7,87.4 L504.7,87.6 L505.7,87.7 L506.7,87.9 L507.7,88.1 L508.7,88.2 L509.7,88.4 L510.7,88.5 L511.7,88.7 L512.7,88.8 L513.8,88.9 L514.8,89.1 L515.8,89.2 L516.8,89.3 L517.8,89.4 L518.8,89.6 L519.8,89.7 L520.8,89.8 L521.8,89.9 L522.8,90.0 L523.8,90.1 L524.8,90.2 L525.8,90.3 L526.8,90.4 L527.8,90.5 L528.9,90.5 L529.9,90.6 L530.9,90.7 L531.9,90.8 L532.9,90.9 L533.9,90.9 L534.9,91.0 L535.9,91.1 L536.9,91.1 L537.9,91.2 L538.9,91.3 L539.9,91.3 L540.9,91.4 L541.9,91.5 L542.9,91.5 L544.0,91.6 L545.0,91.6 L546.0,91.7 L547.0,91.7 L548.0,91.8 L549.0,91.8 L550.0,91.9 L551.0,91.9 L552.0,92.0 L553.0,92.0 L554.0,92.0 L555.0,92.1 L556.0,92.1 L557.0,92.2 L558.0,92.2 L559.1,92.2 L560.1,92.3 L561.1,92.3 L562.1,92.3 L563.1,92.4 L564.1,92.4 L565.1,92.4 L566.1,92.5 L567.1,92.5 L568.1,92.5 L569.1,92.5 L570.1,92.6 L571.1,92.6 L572.1,92.6 L573.1,92.6 L574.2,92.7 L575.2,92.7 L576.2,92.7 L577.2,92.7 L578.2,92.7 L579.2,92.8 L580.2,92.8 L581.2,92.8 L582.2,92.8 L583.2,92.8 L584.2,92.8 L585.2,92.9 L586.2,92.9 L587.2,92.9 L588.2,92.9 L589.3,92.9 L590.3,92.9 L591.3,92.9 L592.3,93.0 L593.3,93.0 L594.3,93.0 L595.3,93.0 L596.3,93.0 L597.3,93.0 L598.3,93.0 L599.3,93.0 L600.3,93.1 L601.3,93.1 L602.3,93.1 L603.3,93.1 L604.4,93.1 L605.4,93.1 L606.4,93.1 L607.4,93.1 L608.4,93.1 L609.4,93.1 L610.4,93.1 L611.4,93.2 L612.4,93.2 L613.4,93.2 L614.4,93.2 L615.4,93.2 L616.4,93.2 L617.4,93.2 L618.4,93.2 L619.5,93.2 L620.5,93.2 L621.5,93.2 L622.5,93.2 L623.5,93.2 L624.5,93.2 L625.5,93.2 L626.5,93.2 L627.5,93.2 L628.5,93.2 L629.5,93.3 L630.5,93.3 L631.5,93.3 L632.5,93.3 L633.5,93.3 L634.6,93.3 L635.6,93.3 L636.6,93.3 L637.6,93.3 L638.6,93.3 L639.6,93.3 L640.6,93.3 L641.6,93.3 L642.6,93.3 L643.6,93.3 L644.6,93.3 L645.6,93.3 L646.6,93.3 L647.6,93.3 L648.6,93.3 L649.7,93.3 L650.7,93.3 L651.7,93.3 L652.7,93.3 L653.7,93.3 L654.7,93.3 L655.7,93.3 L656.7,93.3 L657.7,93.3 L658.7,93.3 L659.7,93.3 L660.7,93.3 L661.7,93.3 L662.7,93.3 L663.7,93.3 L664.8,93.3 L665.8,93.4 L666.8,93.4 L667.8,93.4 L668.8,93.4 L669.8,93.4 L670.8,93.4 L671.8,93.4" fill="none" stroke="#dc00ff" stroke-width="1.6"/>
<path d="M430.2,40.6 L431.2,43.4 L432.2,46.1 L433.2,48.8 L434.2,51.3 L435.2,53.7 L436.2,56.1 L437.2,58.4 L438.3,60.6 L439.3,62.7 L440.3,64.8 L441.3,66.8 L442.3,68.7 L443.3,70.5 L444.3,72.3 L445.3,74.1 L446.3,75.7 L447.3,77.3 L448.3,78.9 L449.3,80.4 L450.3,81.9 L451.3,83.3 L452.3,84.6 L453.4,85.9 L454.4,87.2 L455.4,88.4 L456.4,89.6 L457.4,90.7 L458.4,91.8 L459.4,92.9 L460.4,93.9 L461.4,94.9 L462.4,95.9 L463.4,96.8 L464.4,97.7 L465.4,98.6 L466.4,99.4 L467.4,100.2 L468.5,101.0 L469.5,101.7 L470.5,102.5 L471.5,103.2 L472.5,103.8 L473.5,104.5 L474.5,105.1 L475.5,105.7 L476.5,106.3 L477.5,106.9 L478.5,107.4 L479.5,108.0 L480.5,108.5 L481.5,109.0 L482.5,109.5 L483.6,109.9 L484.6,110.4 L485.6,110.8 L486.6,111.2 L487.6,111.6 L488.6,112.0 L489.6,112.4 L490.6,112.7 L491.6,113.1 L492.6,113.4 L493.6,113.8 L494.6,114.1 L495.6,114.4 L496.6,114.7 L497.6,115.0 L498.7,115.2 L499.7,115.5 L500.7,115.7 L501.7,116.0 L502.7,116.2 L503.7,116.5 L504.7,116.7 L505.7,116.9 L506.7,117.1 L507.7,117.3 L508.7,117.5 L509.7,117.7 L510.7,117.9 L511.7,118.1 L512.7,118.2 L513.8,118.4 L514.8,118.5 L515.8,118.7 L516.8,118.8 L517.8,119.0 L518.8,119.1 L519.8,119.3 L520.8,119.4 L521.8,119.5 L522.8,119.6 L523.8,119.7 L524.8,119.8 L525.8,120.0 L526.8,120.1 L527.8,120.2 L528.9,120.3 L529.9,120.4 L530.9,120.4 L531.9,120.5 L532.9,120.6 L533.9,120.7 L534.9,120.8 L535.9,120.8 L536.9,120.9 L537.9,121.0 L538.9,121.1 L539.9,121.1 L540.9,121.2 L541.9,121.3 L542.9,121.3 L544.0,121.4 L545.0,121.4 L546.0,121.5 L547.0,121.5 L548.0,121.6 L549.0,121.6 L550.0,121.7 L551.0,121.7 L552.0,121.8 L553.0,121.8 L554.0,121.8 L555.0,121.9 L556.0,121.9 L557.0,122.0 L558.0,122.0 L559.1,122.0 L560.1,122.1 L561.1,122.1 L562.1,122.1 L563.1,122.2 L564.1,122.2 L565.1,122.2 L566.1,122.2 L567.1,122.3 L568.1,122.3 L569.1,122.3 L570.1,122.3 L571.1,122.4 L572.1,122.4 L573.1,122.4 L574.2,122.4 L575.2,122.4 L576.2,122.5 L577.2,122.5 L578.2,122.5 L579.2,122.5 L580.2,122.5 L581.2,122.5 L582.2,122.6 L583.2,122.6 L584.2,122.6 L585.2,122.6 L586.2,122.6 L587.2,122.6 L588.2,122.6 L589.3,122.7 L590.3,122.7 L591.3,122.7 L592.3,122.7 L593.3,122.7 L594.3,122.7 L595.3,122.7 L596.3,122.7 L597.3,122.7 L598.3,122.8 L599.3,122.8 L600.3,122.8 L601.3,122.8 L602.3,122.8 L603.3,122.8 L604.4,122.8 L605.4,122.8 L606.4,122.8 L607.4,122.8 L608.4,122.8 L609.4,122.8 L610.4,122.8 L611.4,122.8 L612.4,122.8 L613.4,122.9 L614.4,122.9 L615.4,122.9 L616.4,122.9 L617.4,122.9 L618.4,122.9 L619.5,122.9 L620.5,122.9 L621.5,122.9 L622.5,122.9 L623.5,122.9 L624.5,122.9 L625.5,122.9 L626.5,122.9 L627.5,122.9 L628.5,122.9 L629.5,122.9 L630.5,122.9 L631.5,122.9 L632.5,122.9 L633.5,122.9 L634.6,122.9 L635.6,122.9 L636.6,122.9 L637.6,122.9 L638.6,122.9 L639.6,122.9 L640.6,122.9 L641.6,122.9 L642.6,122.9 L643.6,122.9 L644.6,122.9 L645.6,123.0 L646.6,123.0 L647.6,123.0 L648.6,123.0 L649.7,123.0 L650.7,123.0 L651.7,123.0 L652.7,123.0 L653.7,123.0 L654.7,123.0 L655.7,123.0 L656.7,123.0 L657.7,123.0 L658.7,123.0 L659.7,123.0 L660.7,123.0 L661.7,123.0 L662.7,123.0 L663.7,123.0 L664.8,123.0 L665.8,123.0 L666.8,123.0 L667.8,123.0 L668.8,123.0 L669.8,123.0 L670.8,123.0 L671.8,123.0" fill="none" stroke="#ff00aa" stroke-width="1.6"/>
<path d="M430.2,40.6 L431.2,47.4 L432.2,53.8 L433.2,59.8 L434.2,65.4 L435.2,70.6 L436.2,75.5 L437.2,80.1 L438.3,84.4 L439.3,88.4 L440.3,92.2 L441.3,95.7 L442.3,99.0 L443.3,102.0 L444.3,104.9 L445.3,107.6 L446.3,110.1 L447.3,112.5 L448.3,114.7 L449.3,116.7 L450.3,118.7 L451.3,120.5 L452.3,122.1 L453.4,123.7 L454.4,125.2 L455.4,126.6 L456.4,127.9 L457.4,129.1 L458.4,130.2 L459.4,131.3 L460.4,132.3 L461.4,133.2 L462.4,134.0 L463.4,134.9 L464.4,135.6 L465.4,136.3 L466.4,137.0 L467.4,137.6 L468.5,138.2 L469.5,138.7 L470.5,139.2 L471.5,139.7 L472.5,140.2 L473.5,140.6 L474.5,141.0 L475.5,141.3 L476.5,141.7 L477.5,142.0 L478.5,142.3 L479.5,142.6 L480.5,142.8 L481.5,143.1 L482.5,143.3 L483.6,143.5 L484.6,143.7 L485.6,143.9 L486.6,144.1 L487.6,144.2 L488.6,144.4 L489.6,144.5 L490.6,144.7 L491.6,144.8 L492.6,144.9 L493.6,145.0 L494.6,145.1 L495.6,145.2 L496.6,145.3 L497.6,145.4 L498.7,145.5 L499.7,145.5 L500.7,145.6 L501.7,145.7 L502.7,145.7 L503.7,145.8 L504.7,145.8 L505.7,145.9 L506.7,145.9 L507.7,146.0 L508.7,146.0 L509.7,146.1 L510.7,146.1 L511.7,146.1 L512.7,146.2 L513.8,146.2 L514.8,146.2 L515.8,146.2 L516.8,146.3 L517.8,146.3 L518.8,146.3 L519.8,146.3 L520.8,146.3 L521.8,146.4 L522.8,146.4 L523.8,146.4 L524.8,146.4 L525.8,146.4 L526.8,146.4 L527.8,146.4 L528.9,146.4 L529.9,146.5 L530.9,146.5 L531.9,146.5 L532.9,146.5 L533.9,146.5 L534.9,146.5 L535.9,146.5 L536.9,146.5 L537.9,146.5 L538.9,146.5 L539.9,146.5 L540.9,146.5 L541.9,146.5 L542.9,146.5 L544.0,146.5 L545.0,146.5 L546.0,146.6 L547.0,146.6 L548.0,146.6 L549.0,146.6 L550.0,146.6 L551.0,146.6 L552.0,146.6 L553.0,146.6 L554.0,146.6 L555.0,146.6 L556.0,146.6 L557.0,146.6 L558.0,146.6 L559.1,146.6 L560.1,146.6 L561.1,146.6 L562.1,146.6 L563.1,146.6 L564.1,146.6 L565.1,146.6 L566.1,146.6 L567.1,146.6 L568.1,146.6 L569.1,146.6 L570.1,146.6 L571.1,146.6 L572.1,146.6 L573.1,146.6 L574.2,146.6 L575.2,146.6 L576.2,146.6 L577.2,146.6 L578.2,146.6 L579.2,146.6 L580.2,146.6 L581.2,146.6 L582.2,146.6 L583.2,146.6 L584.2,146.6 L585.2,146.6 L586.2,146.6 L587.2,146.6 L588.2,146.6 L589.3,146.6 L590.3,146.6 L591.3,146.6 L592.3,146.6 L593.3,146.6 L594.3,146.6 L595.3,146.6 L596.3,146.6 L597.3,146.6 L598.3,146.6 L599.3,146.6 L600.3,146.6 L601.3,146.6 L602.3,146.6 L603.3,146.6 L604.4,146.6 L605.4,146.6 L606.4,146.6 L607.4,146.6 L608.4,146.6 L609.4,146.6 L610.4,146.6 L611.4,146.6 L612.4,146.6 L613.4,146.6 L614.4,146.6 L615.4,146.6 L616.4,146.6 L617.4,146.6 L618.4,146.6 L619.5,146.6 L620.5,146.6 L621.5,146.6 L622.5,146.6 L623.5,146.6 L624.5,146.6 L625.5,146.6 L626.5,146.6 L627.5,146.6 L628.5,146.6 L629.5,146.6 L630.5,146.6 L631.5,146.6 L632.5,146.6 L633.5,146.6 L634.6,146.6 L635.6,146.6 L636.6,146.6 L637.6,146.6 L638.6,146.6 L639.6,146.6 L640.6,146.6 L641.6,146.6 L642.6,146.6 L643.6,146.6 L644.6,146.6 L645.6,146.6 L646.6,146.6 L647.6,146.6 L648.6,146.6 L649.7,146.6 L650.7,146.6 L651.7,146.6 L652.7,146.6 L653.7,146.6 L654.7,146.6 L655.7,146.6 L656.7,146.6 L657.7,146.6 L658.7,146.6 L659.7,146.6 L660.7,146.6 L661.7,146.6 L662.7,146.6 L663.7,146.6 L664.8,146.6 L665.8,146.6 L666.8,146.6 L667.8,146.6 L668.8,146.6 L669.8,146.6 L670.8,146.6 L671.8,146.6" fill="none" stroke="#ff0050" stroke-width="1.6"/>
<circle cx="443.1" cy="34.2" r="3.0" fill="none" stroke="#1010ff" stroke-width="1.6"/>
<circle cx="450.5" cy="29.3" r="3.0" fill="none" stroke="#1010ff" stroke-width="1.6"/>
<circle cx="447.5" cy="39.8" r="3.0" fill="none" stroke="#1010ff" stroke-width="1.6"/>
<circle cx="454.0" cy="45.9" r="3.0" fill="none" stroke="#1010ff" stroke-width="1.6"/>
<circle cx="457.7" cy="34.2" r="3.0" fill="none" stroke="#1010ff" stroke-width="1.6"/>
<circle cx="461.2" cy="51.7" r="3.0" fill="none" stroke="#1010ff" stroke-width="1.6"/>
<circle cx="465.0" cy="27.5" r="3.0" fill="none" stroke="#1010ff" stroke-width="1.6"/>
<circle cx="468.5" cy="34.9" r="3.0" fill="none" stroke="#1010ff" stroke-width="1.6"/>
<circle cx="472.4" cy="40.3" r="3.0" fill="none" stroke="#1010ff" stroke-width="1.6"/>
<circle cx="475.9" cy="48.5" r="3.0" fill="none" stroke="#1010ff" stroke-width="1.6"/>
<circle cx="479.4" cy="56.4" r="3.0" fill="none" stroke="#1010ff" stroke-width="1.6"/>
<circle cx="482.9" cy="34.2" r="3.0" fill="none" stroke="#1010ff" stroke-width="1.6"/>
<circle cx="486.4" cy="46.8" r="3.0" fill="none" stroke="#1010ff" stroke-width="1.6"/>
<circle cx="490.1" cy="32.2" r="3.0" fill="none" stroke="#1010ff" stroke-width="1.6"/>
<circle cx="494.0" cy="24.4" r="3.0" fill="none" stroke="#1010ff" stroke-width="1.6"/>
<circle cx="497.4" cy="59.7" r="3.0" fill="none" stroke="#1010ff" stroke-width="1.6"/>
<circle cx="501.0" cy="43.8" r="3.0" fill="none" stroke="#1010ff" stroke-width="1.6"/>
<circle cx="504.5" cy="51.2" r="3.0" fill="none" stroke="#1010ff" stroke-width="1.6"/>
<circle cx="508.3" cy="41.2" r="3.0" fill="none" stroke="#1010ff" stroke-width="1.6"/>
<circle cx="511.8" cy="37.7" r="3.0" fill="none" stroke="#1010ff" stroke-width="1.6"/>
<circle cx="515.5" cy="38.5" r="3.0" fill="none" stroke="#1010ff" stroke-width="1.6"/>
<circle cx="519.3" cy="43.8" r="3.0" fill="none" stroke="#1010ff" stroke-width="1.6"/>
<circle cx="522.9" cy="30.7" r="3.0" fill="none" stroke="#1010ff" stroke-width="1.6"/>
<circle cx="526.4" cy="37.5" r="3.0" fill="none" stroke="#1010ff" stroke-width="1.6"/>
<circle cx="530.2" cy="39.8" r="3.0" fill="none" stroke="#1010ff" stroke-width="1.6"/>
<circle cx="533.7" cy="51.7" r="3.0" fill="none" stroke="#1010ff" stroke-width="1.6"/>
<circle cx="537.2" cy="29.8" r="3.0" fill="none" stroke="#1010ff" stroke-width="1.6"/>
<circle cx="540.7" cy="42.4" r="3.0" fill="none" stroke="#1010ff" stroke-width="1.6"/>
<circle cx="544.4" cy="54.3" r="3.0" fill="none" stroke="#1010ff" stroke-width="1.6"/>
<circle cx="547.9" cy="38.9" r="3.0" fill="none" stroke="#1010ff" stroke-width="1.6"/>
<circle cx="552.1" cy="47.8" r="3.0" fill="none" stroke="#1010ff" stroke-width="1.6"/>
<circle cx="555.7" cy="47.8" r="3.0" fill="none" stroke="#1010ff" stroke-width="1.6"/>
<circle cx="559.0" cy="31.6" r="3.0" fill="none" stroke="#1010ff" stroke-width="1.6"/>
<circle cx="562.8" cy="54.4" r="3.0" fill="none" stroke="#1010ff" stroke-width="1.6"/>
<circle cx="566.5" cy="41.3" r="3.0" fill="none" stroke="#1010ff" stroke-width="1.6"/>
<circle cx="569.9" cy="64.7" r="3.0" fill="none" stroke="#1010ff" stroke-width="1.6"/>
<circle cx="573.6" cy="58.5" r="3.0" fill="none" stroke="#1010ff" stroke-width="1.6"/>
<circle cx="577.1" cy="55.9" r="3.0" fill="none" stroke="#1010ff" stroke-width="1.6"/>
<circle cx="580.9" cy="46.3" r="3.0" fill="none" stroke="#1010ff" stroke-width="1.6"/>
<circle cx="584.3" cy="53.1" r="3.0" fill="none" stroke="#1010ff" stroke-width="1.6"/>
<circle cx="588.0" cy="54.4" r="3.0" fill="none" stroke="#1010ff" stroke-width="1.6"/>
<circle cx="591.7" cy="50.1" r="3.0" fill="none" stroke="#1010ff" stroke-width="1.6"/>
<circle cx="595.1" cy="41.3" r="3.0" fill="none" stroke="#1010ff" stroke-width="1.6"/>
<circle cx="599.2" cy="37.9" r="3.0" fill="none" stroke="#1010ff" stroke-width="1.6"/>
<circle cx="602.6" cy="44.7" r="3.0" fill="none" stroke="#1010ff" stroke-width="1.6"/>
<circle cx="606.3" cy="41.3" r="3.0" fill="none" stroke="#1010ff" stroke-width="1.6"/>
<circle cx="609.9" cy="26.7" r="3.0" fill="none" stroke="#1010ff" stroke-width="1.6"/>
<circle cx="667.4" cy="30.6" r="3.0" fill="none" stroke="#1010ff" stroke-width="1.6"/>
<circle cx="436.5" cy="40.5" r="3.0" fill="none" stroke="#1010ff" stroke-width="1.6"/>
<circle cx="442.8" cy="39.4" r="3.0" fill="none" stroke="#8200ff" stroke-width="1.6"/>
<circle cx="446.4" cy="46.1" r="3.0" fill="none" stroke="#8200ff" stroke-width="1.6"/>
<circle cx="453.9" cy="54.9" r="3.0" fill="none" stroke="#8200ff" stroke-width="1.6"/>
<circle cx="460.4" cy="43.4" r="3.0" fill="none" stroke="#8200ff" stroke-width="1.6"/>
<circle cx="458.0" cy="62.1" r="3.0" fill="none" stroke="#8200ff" stroke-width="1.6"/>
<circle cx="465.0" cy="65.6" r="3.0" fill="none" stroke="#8200ff" stroke-width="1.6"/>
<circle cx="468.5" cy="61.3" r="3.0" fill="none" stroke="#8200ff" stroke-width="1.6"/>
<circle cx="471.5" cy="70.0" r="3.0" fill="none" stroke="#8200ff" stroke-width="1.6"/>
<circle cx="475.5" cy="64.2" r="3.0" fill="none" stroke="#8200ff" stroke-width="1.6"/>
<circle cx="479.0" cy="59.5" r="3.0" fill="none" stroke="#8200ff" stroke-width="1.6"/>
<circle cx="483.1" cy="72.1" r="3.0" fill="none" stroke="#8200ff" stroke-width="1.6"/>
<circle cx="489.6" cy="72.1" r="3.0" fill="none" stroke="#8200ff" stroke-width="1.6"/>
<circle cx="493.6" cy="67.1" r="3.0" fill="none" stroke="#8200ff" stroke-width="1.6"/>
<circle cx="497.5" cy="64.2" r="3.0" fill="none" stroke="#8200ff" stroke-width="1.6"/>
<circle cx="500.7" cy="77.6" r="3.0" fill="none" stroke="#8200ff" stroke-width="1.6"/>
<circle cx="504.7" cy="71.2" r="3.0" fill="none" stroke="#8200ff" stroke-width="1.6"/>
<circle cx="507.7" cy="83.5" r="3.0" fill="none" stroke="#8200ff" stroke-width="1.6"/>
<circle cx="511.4" cy="75.9" r="3.0" fill="none" stroke="#8200ff" stroke-width="1.6"/>
<circle cx="515.4" cy="78.3" r="3.0" fill="none" stroke="#8200ff" stroke-width="1.6"/>
<circle cx="519.1" cy="79.1" r="3.0" fill="none" stroke="#8200ff" stroke-width="1.6"/>
<circle cx="522.7" cy="72.7" r="3.0" fill="none" stroke="#8200ff" stroke-width="1.6"/>
<circle cx="525.9" cy="81.5" r="3.0" fill="none" stroke="#8200ff" stroke-width="1.6"/>
<circle cx="529.9" cy="84.7" r="3.0" fill="none" stroke="#8200ff" stroke-width="1.6"/>
<circle cx="533.6" cy="74.6" r="3.0" fill="none" stroke="#8200ff" stroke-width="1.6"/>
<circle cx="537.1" cy="88.7" r="3.0" fill="none" stroke="#8200ff" stroke-width="1.6"/>
<circle cx="540.7" cy="75.9" r="3.0" fill="none" stroke="#8200ff" stroke-width="1.6"/>
<circle cx="544.3" cy="76.7" r="3.0" fill="none" stroke="#8200ff" stroke-width="1.6"/>
<circle cx="548.0" cy="78.0" r="3.0" fill="none" stroke="#8200ff" stroke-width="1.6"/>
<circle cx="551.6" cy="79.4" r="3.0" fill="none" stroke="#8200ff" stroke-width="1.6"/>
<circle cx="555.3" cy="88.7" r="3.0" fill="none" stroke="#8200ff" stroke-width="1.6"/>
<circle cx="558.8" cy="77.2" r="3.0" fill="none" stroke="#8200ff" stroke-width="1.6"/>
<circle cx="562.5" cy="86.3" r="3.0" fill="none" stroke="#8200ff" stroke-width="1.6"/>
<circle cx="566.0" cy="79.1" r="3.0" fill="none" stroke="#8200ff" stroke-width="1.6"/>
<circle cx="570.0" cy="87.6" r="3.0" fill="none" stroke="#8200ff" stroke-width="1.6"/>
<circle cx="573.7" cy="86.3" r="3.0" fill="none" stroke="#8200ff" stroke-width="1.6"/>
<circle cx="577.3" cy="84.4" r="3.0" fill="none" stroke="#8200ff" stroke-width="1.6"/>
<circle cx="583.7" cy="85.2" r="3.0" fill="none" stroke="#8200ff" stroke-width="1.6"/>
<circle cx="587.7" cy="86.3" r="3.0" fill="none" stroke="#8200ff" stroke-width="1.6"/>
<circle cx="598.9" cy="78.3" r="3.0" fill="none" stroke="#8200ff" stroke-width="1.6"/>
<circle cx="603.0" cy="94.3" r="3.0" fill="none" stroke="#8200ff" stroke-width="1.6"/>
<circle cx="608.6" cy="78.8" r="3.0" fill="none" stroke="#8200ff" stroke-width="1.6"/>
<circle cx="667.4" cy="87.5" r="3.0" fill="none" stroke="#8200ff" stroke-width="1.6"/>
<circle cx="439.5" cy="45.0" r="3.0" fill="none" stroke="#8200ff" stroke-width="1.6"/>
<circle cx="450.0" cy="50.0" r="3.0" fill="none" stroke="#8200ff" stroke-width="1.6"/>
<circle cx="446.9" cy="58.9" r="3.0" fill="none" stroke="#dc00ff" stroke-width="1.6"/>
<circle cx="449.9" cy="69.5" r="3.0" fill="none" stroke="#dc00ff" stroke-width="1.6"/>
<circle cx="453.9" cy="64.2" r="3.0" fill="none" stroke="#dc00ff" stroke-width="1.6"/>
<circle cx="458.0" cy="69.5" r="3.0" fill="none" stroke="#dc00ff" stroke-width="1.6"/>
<circle cx="461.0" cy="79.4" r="3.0" fill="none" stroke="#dc00ff" stroke-width="1.6"/>
<circle cx="465.0" cy="81.1" r="3.0" fill="none" stroke="#dc00ff" stroke-width="1.6"/>
<circle cx="468.0" cy="79.4" r="3.0" fill="none" stroke="#dc00ff" stroke-width="1.6"/>
<circle cx="472.0" cy="81.5" r="3.0" fill="none" stroke="#dc00ff" stroke-width="1.6"/>
<circle cx="475.5" cy="72.6" r="3.0" fill="none" stroke="#dc00ff" stroke-width="1.6"/>
<circle cx="479.0" cy="79.1" r="3.0" fill="none" stroke="#dc00ff" stroke-width="1.6"/>
<circle cx="482.6" cy="72.1" r="3.0" fill="none" stroke="#dc00ff" stroke-width="1.6"/>
<circle cx="486.6" cy="76.5" r="3.0" fill="none" stroke="#dc00ff" stroke-width="1.6"/>
<circle cx="490.1" cy="86.4" r="3.0" fill="none" stroke="#dc00ff" stroke-width="1.6"/>
<circle cx="493.1" cy="89.3" r="3.0" fill="none" stroke="#dc00ff" stroke-width="1.6"/>
<circle cx="497.7" cy="88.7" r="3.0" fill="none" stroke="#dc00ff" stroke-width="1.6"/>
<circle cx="501.2" cy="90.8" r="3.0" fill="none" stroke="#dc00ff" stroke-width="1.6"/>
<circle cx="504.7" cy="95.1" r="3.0" fill="none" stroke="#dc00ff" stroke-width="1.6"/>
<circle cx="507.7" cy="86.4" r="3.0" fill="none" stroke="#dc00ff" stroke-width="1.6"/>
<circle cx="511.7" cy="84.7" r="3.0" fill="none" stroke="#dc00ff" stroke-width="1.6"/>
<circle cx="515.4" cy="92.7" r="3.0" fill="none" stroke="#dc00ff" stroke-width="1.6"/>
<circle cx="519.1" cy="88.4" r="3.0" fill="none" stroke="#dc00ff" stroke-width="1.6"/>
<circle cx="522.7" cy="96.0" r="3.0" fill="none" stroke="#dc00ff" stroke-width="1.6"/>
<circle cx="526.4" cy="93.2" r="3.0" fill="none" stroke="#dc00ff" stroke-width="1.6"/>
<circle cx="529.9" cy="99.2" r="3.0" fill="none" stroke="#dc00ff" stroke-width="1.6"/>
<circle cx="533.6" cy="91.6" r="3.0" fill="none" stroke="#dc00ff" stroke-width="1.6"/>
<circle cx="537.1" cy="94.3" r="3.0" fill="none" stroke="#dc00ff" stroke-width="1.6"/>
<circle cx="540.7" cy="99.2" r="3.0" fill="none" stroke="#dc00ff" stroke-width="1.6"/>
<circle cx="544.3" cy="97.1" r="3.0" fill="none" stroke="#dc00ff" stroke-width="1.6"/>
<circle cx="548.0" cy="83.6" r="3.0" fill="none" stroke="#dc00ff" stroke-width="1.6"/>
<circle cx="551.6" cy="93.5" r="3.0" fill="none" stroke="#dc00ff" stroke-width="1.6"/>
<circle cx="555.3" cy="101.6" r="3.0" fill="none" stroke="#dc00ff" stroke-width="1.6"/>
<circle cx="558.8" cy="90.7" r="3.0" fill="none" stroke="#dc00ff" stroke-width="1.6"/>
<circle cx="562.5" cy="94.8" r="3.0" fill="none" stroke="#dc00ff" stroke-width="1.6"/>
<circle cx="566.0" cy="88.7" r="3.0" fill="none" stroke="#dc00ff" stroke-width="1.6"/>
<circle cx="570.0" cy="101.9" r="3.0" fill="none" stroke="#dc00ff" stroke-width="1.6"/>
<circle cx="573.7" cy="97.1" r="3.0" fill="none" stroke="#dc00ff" stroke-width="1.6"/>
<circle cx="577.3" cy="91.6" r="3.0" fill="none" stroke="#dc00ff" stroke-width="1.6"/>
<circle cx="580.5" cy="90.0" r="3.0" fill="none" stroke="#dc00ff" stroke-width="1.6"/>
<circle cx="584.0" cy="97.1" r="3.0" fill="none" stroke="#dc00ff" stroke-width="1.6"/>
<circle cx="588.2" cy="88.7" r="3.0" fill="none" stroke="#dc00ff" stroke-width="1.6"/>
<circle cx="591.7" cy="85.8" r="3.0" fill="none" stroke="#dc00ff" stroke-width="1.6"/>
<circle cx="595.3" cy="93.9" r="3.0" fill="none" stroke="#dc00ff" stroke-width="1.6"/>
<circle cx="598.9" cy="93.9" r="3.0" fill="none" stroke="#dc00ff" stroke-width="1.6"/>
<circle cx="602.2" cy="87.1" r="3.0" fill="none" stroke="#dc00ff" stroke-width="1.6"/>
<circle cx="606.2" cy="86.3" r="3.0" fill="none" stroke="#dc00ff" stroke-width="1.6"/>
<circle cx="529.6" cy="99.4" r="3.0" fill="none" stroke="#dc00ff" stroke-width="1.6"/>
<circle cx="540.5" cy="99.4" r="3.0" fill="none" stroke="#dc00ff" stroke-width="1.6"/>
<circle cx="562.4" cy="109.3" r="3.0" fill="none" stroke="#dc00ff" stroke-width="1.6"/>
<circle cx="569.7" cy="102.0" r="3.0" fill="none" stroke="#dc00ff" stroke-width="1.6"/>
<circle cx="573.4" cy="105.5" r="3.0" fill="none" stroke="#dc00ff" stroke-width="1.6"/>
<circle cx="668.0" cy="94.0" r="3.0" fill="none" stroke="#dc00ff" stroke-width="1.6"/>
<circle cx="438.0" cy="48.0" r="3.0" fill="none" stroke="#dc00ff" stroke-width="1.6"/>
<circle cx="442.0" cy="53.0" r="3.0" fill="none" stroke="#dc00ff" stroke-width="1.6"/>
<circle cx="435.3" cy="37.6" r="3.0" fill="none" stroke="#ff00aa" stroke-width="1.6"/>
<circle cx="439.9" cy="61.9" r="3.0" fill="none" stroke="#ff00aa" stroke-width="1.6"/>
<circle cx="443.4" cy="67.7" r="3.0" fill="none" stroke="#ff00aa" stroke-width="1.6"/>
<circle cx="446.4" cy="85.5" r="3.0" fill="none" stroke="#ff00aa" stroke-width="1.6"/>
<circle cx="449.9" cy="92.0" r="3.0" fill="none" stroke="#ff00aa" stroke-width="1.6"/>
<circle cx="453.4" cy="94.6" r="3.0" fill="none" stroke="#ff00aa" stroke-width="1.6"/>
<circle cx="457.4" cy="94.8" r="3.0" fill="none" stroke="#ff00aa" stroke-width="1.6"/>
<circle cx="461.0" cy="85.8" r="3.0" fill="none" stroke="#ff00aa" stroke-width="1.6"/>
<circle cx="464.8" cy="94.6" r="3.0" fill="none" stroke="#ff00aa" stroke-width="1.6"/>
<circle cx="468.1" cy="112.7" r="3.0" fill="none" stroke="#ff00aa" stroke-width="1.6"/>
<circle cx="472.1" cy="111.8" r="3.0" fill="none" stroke="#ff00aa" stroke-width="1.6"/>
<circle cx="475.3" cy="118.9" r="3.0" fill="none" stroke="#ff00aa" stroke-width="1.6"/>
<circle cx="479.3" cy="110.1" r="3.0" fill="none" stroke="#ff00aa" stroke-width="1.6"/>
<circle cx="482.6" cy="103.5" r="3.0" fill="none" stroke="#ff00aa" stroke-width="1.6"/>
<circle cx="486.5" cy="101.6" r="3.0" fill="none" stroke="#ff00aa" stroke-width="1.6"/>
<circle cx="489.8" cy="116.0" r="3.0" fill="none" stroke="#ff00aa" stroke-width="1.6"/>
<circle cx="493.7" cy="117.1" r="3.0" fill="none" stroke="#ff00aa" stroke-width="1.6"/>
<circle cx="497.7" cy="117.6" r="3.0" fill="none" stroke="#ff00aa" stroke-width="1.6"/>
<circle cx="501.0" cy="122.3" r="3.0" fill="none" stroke="#ff00aa" stroke-width="1.6"/>
<circle cx="504.9" cy="129.4" r="3.0" fill="none" stroke="#ff00aa" stroke-width="1.6"/>
<circle cx="508.2" cy="122.3" r="3.0" fill="none" stroke="#ff00aa" stroke-width="1.6"/>
<circle cx="511.7" cy="118.4" r="3.0" fill="none" stroke="#ff00aa" stroke-width="1.6"/>
<circle cx="515.4" cy="122.6" r="3.0" fill="none" stroke="#ff00aa" stroke-width="1.6"/>
<circle cx="518.7" cy="118.4" r="3.0" fill="none" stroke="#ff00aa" stroke-width="1.6"/>
<circle cx="522.6" cy="116.6" r="3.0" fill="none" stroke="#ff00aa" stroke-width="1.6"/>
<circle cx="526.4" cy="121.3" r="3.0" fill="none" stroke="#ff00aa" stroke-width="1.6"/>
<circle cx="529.9" cy="114.0" r="3.0" fill="none" stroke="#ff00aa" stroke-width="1.6"/>
<circle cx="533.7" cy="119.8" r="3.0" fill="none" stroke="#ff00aa" stroke-width="1.6"/>
<circle cx="537.2" cy="122.0" r="3.0" fill="none" stroke="#ff00aa" stroke-width="1.6"/>
<circle cx="541.0" cy="124.9" r="3.0" fill="none" stroke="#ff00aa" stroke-width="1.6"/>
<circle cx="544.5" cy="129.3" r="3.0" fill="none" stroke="#ff00aa" stroke-width="1.6"/>
<circle cx="548.3" cy="132.7" r="3.0" fill="none" stroke="#ff00aa" stroke-width="1.6"/>
<circle cx="551.8" cy="121.0" r="3.0" fill="none" stroke="#ff00aa" stroke-width="1.6"/>
<circle cx="555.6" cy="118.1" r="3.0" fill="none" stroke="#ff00aa" stroke-width="1.6"/>
<circle cx="558.8" cy="130.8" r="3.0" fill="none" stroke="#ff00aa" stroke-width="1.6"/>
<circle cx="566.1" cy="124.9" r="3.0" fill="none" stroke="#ff00aa" stroke-width="1.6"/>
<circle cx="569.7" cy="123.9" r="3.0" fill="none" stroke="#ff00aa" stroke-width="1.6"/>
<circle cx="577.0" cy="126.0" r="3.0" fill="none" stroke="#ff00aa" stroke-width="1.6"/>
<circle cx="580.7" cy="118.4" r="3.0" fill="none" stroke="#ff00aa" stroke-width="1.6"/>
<circle cx="584.3" cy="133.2" r="3.0" fill="none" stroke="#ff00aa" stroke-width="1.6"/>
<circle cx="588.0" cy="116.2" r="3.0" fill="none" stroke="#ff00aa" stroke-width="1.6"/>
<circle cx="591.6" cy="126.4" r="3.0" fill="none" stroke="#ff00aa" stroke-width="1.6"/>
<circle cx="595.3" cy="121.3" r="3.0" fill="none" stroke="#ff00aa" stroke-width="1.6"/>
<circle cx="598.9" cy="130.8" r="3.0" fill="none" stroke="#ff00aa" stroke-width="1.6"/>
<circle cx="602.3" cy="120.5" r="3.0" fill="none" stroke="#ff00aa" stroke-width="1.6"/>
<circle cx="606.2" cy="123.5" r="3.0" fill="none" stroke="#ff00aa" stroke-width="1.6"/>
<circle cx="609.2" cy="121.6" r="3.0" fill="none" stroke="#ff00aa" stroke-width="1.6"/>
<circle cx="667.4" cy="125.0" r="3.0" fill="none" stroke="#ff00aa" stroke-width="1.6"/>
<circle cx="600.6" cy="130.3" r="3.0" fill="none" stroke="#ff00aa" stroke-width="1.6"/>
<circle cx="562.5" cy="108.0" r="3.0" fill="none" stroke="#ff00aa" stroke-width="1.6"/>
<circle cx="573.7" cy="105.6" r="3.0" fill="none" stroke="#ff00aa" stroke-width="1.6"/>
<circle cx="434.3" cy="67.4" r="3.0" fill="none" stroke="#ff0050" stroke-width="1.6"/>
<circle cx="439.3" cy="75.9" r="3.0" fill="none" stroke="#ff0050" stroke-width="1.6"/>
<circle cx="442.8" cy="95.0" r="3.0" fill="none" stroke="#ff0050" stroke-width="1.6"/>
<circle cx="446.3" cy="108.3" r="3.0" fill="none" stroke="#ff0050" stroke-width="1.6"/>
<circle cx="449.9" cy="123.2" r="3.0" fill="none" stroke="#ff0050" stroke-width="1.6"/>
<circle cx="453.4" cy="130.9" r="3.0" fill="none" stroke="#ff0050" stroke-width="1.6"/>
<circle cx="456.9" cy="132.3" r="3.0" fill="none" stroke="#ff0050" stroke-width="1.6"/>
<circle cx="461.1" cy="130.9" r="3.0" fill="none" stroke="#ff0050" stroke-width="1.6"/>
<circle cx="464.7" cy="132.3" r="3.0" fill="none" stroke="#ff0050" stroke-width="1.6"/>
<circle cx="468.2" cy="140.1" r="3.0" fill="none" stroke="#ff0050" stroke-width="1.6"/>
<circle cx="471.7" cy="139.4" r="3.0" fill="none" stroke="#ff0050" stroke-width="1.6"/>
<circle cx="475.2" cy="132.3" r="3.0" fill="none" stroke="#ff0050" stroke-width="1.6"/>
<circle cx="478.8" cy="142.2" r="3.0" fill="none" stroke="#ff0050" stroke-width="1.6"/>
<circle cx="482.3" cy="145.0" r="3.0" fill="none" stroke="#ff0050" stroke-width="1.6"/>
<circle cx="485.8" cy="150.0" r="3.0" fill="none" stroke="#ff0050" stroke-width="1.6"/>
<circle cx="490.1" cy="138.7" r="3.0" fill="none" stroke="#ff0050" stroke-width="1.6"/>
<circle cx="493.6" cy="147.1" r="3.0" fill="none" stroke="#ff0050" stroke-width="1.6"/>
<circle cx="497.1" cy="128.8" r="3.0" fill="none" stroke="#ff0050" stroke-width="1.6"/>
<circle cx="500.6" cy="154.9" r="3.0" fill="none" stroke="#ff0050" stroke-width="1.6"/>
<circle cx="504.9" cy="147.8" r="3.0" fill="none" stroke="#ff0050" stroke-width="1.6"/>
<circle cx="508.2" cy="133.8" r="3.0" fill="none" stroke="#ff0050" stroke-width="1.6"/>
<circle cx="511.5" cy="151.5" r="3.0" fill="none" stroke="#ff0050" stroke-width="1.6"/>
<circle cx="515.4" cy="148.9" r="3.0" fill="none" stroke="#ff0050" stroke-width="1.6"/>
<circle cx="518.7" cy="148.2" r="3.0" fill="none" stroke="#ff0050" stroke-width="1.6"/>
<circle cx="523.0" cy="144.3" r="3.0" fill="none" stroke="#ff0050" stroke-width="1.6"/>
<circle cx="526.4" cy="134.1" r="3.0" fill="none" stroke="#ff0050" stroke-width="1.6"/>
<circle cx="529.9" cy="146.8" r="3.0" fill="none" stroke="#ff0050" stroke-width="1.6"/>
<circle cx="533.7" cy="143.9" r="3.0" fill="none" stroke="#ff0050" stroke-width="1.6"/>
<circle cx="537.2" cy="150.5" r="3.0" fill="none" stroke="#ff0050" stroke-width="1.6"/>
<circle cx="541.0" cy="152.2" r="3.0" fill="none" stroke="#ff0050" stroke-width="1.6"/>
<circle cx="544.5" cy="149.0" r="3.0" fill="none" stroke="#ff0050" stroke-width="1.6"/>
<circle cx="548.3" cy="151.2" r="3.0" fill="none" stroke="#ff0050" stroke-width="1.6"/>
<circle cx="551.5" cy="138.5" r="3.0" fill="none" stroke="#ff0050" stroke-width="1.6"/>
<circle cx="555.6" cy="141.0" r="3.0" fill="none" stroke="#ff0050" stroke-width="1.6"/>
<circle cx="559.1" cy="143.5" r="3.0" fill="none" stroke="#ff0050" stroke-width="1.6"/>
<circle cx="562.9" cy="139.5" r="3.0" fill="none" stroke="#ff0050" stroke-width="1.6"/>
<circle cx="566.1" cy="150.8" r="3.0" fill="none" stroke="#ff0050" stroke-width="1.6"/>
<circle cx="569.7" cy="150.2" r="3.0" fill="none" stroke="#ff0050" stroke-width="1.6"/>
<circle cx="573.4" cy="146.4" r="3.0" fill="none" stroke="#ff0050" stroke-width="1.6"/>
<circle cx="577.0" cy="144.3" r="3.0" fill="none" stroke="#ff0050" stroke-width="1.6"/>
<circle cx="580.7" cy="151.2" r="3.0" fill="none" stroke="#ff0050" stroke-width="1.6"/>
<circle cx="584.3" cy="144.6" r="3.0" fill="none" stroke="#ff0050" stroke-width="1.6"/>
<circle cx="588.0" cy="136.2" r="3.0" fill="none" stroke="#ff0050" stroke-width="1.6"/>
<circle cx="591.6" cy="147.6" r="3.0" fill="none" stroke="#ff0050" stroke-width="1.6"/>
<circle cx="595.3" cy="140.5" r="3.0" fill="none" stroke="#ff0050" stroke-width="1.6"/>
<circle cx="598.9" cy="140.5" r="3.0" fill="none" stroke="#ff0050" stroke-width="1.6"/>
<circle cx="602.6" cy="151.6" r="3.0" fill="none" stroke="#ff0050" stroke-width="1.6"/>
<circle cx="606.2" cy="151.2" r="3.0" fill="none" stroke="#ff0050" stroke-width="1.6"/>
<circle cx="609.4" cy="149.7" r="3.0" fill="none" stroke="#ff0050" stroke-width="1.6"/>
<circle cx="627.5" cy="152.6" r="3.0" fill="none" stroke="#ff0050" stroke-width="1.6"/>
<circle cx="638.7" cy="149.7" r="3.0" fill="none" stroke="#ff0050" stroke-width="1.6"/>
<circle cx="646.3" cy="150.2" r="3.0" fill="none" stroke="#ff0050" stroke-width="1.6"/>
<circle cx="659.8" cy="150.8" r="3.0" fill="none" stroke="#ff0050" stroke-width="1.6"/>
<circle cx="667.4" cy="139.7" r="3.0" fill="none" stroke="#ff0050" stroke-width="1.6"/>
</g>
<path d="M430.2,165.6v-3M430.2,17.3v3M442.3,165.6v-1.8M442.3,17.3v1.8M454.4,165.6v-1.8M454.4,17.3v1.8M466.4,165.6v-1.8M466.4,17.3v1.8M478.5,165.6v-1.8M478.5,17.3v1.8M490.6,165.6v-3M490.6,17.3v3M502.7,165.6v-1.8M502.7,17.3v1.8M514.8,165.6v-1.8M514.8,17.3v1.8M526.8,165.6v-1.8M526.8,17.3v1.8M538.9,165.6v-1.8M538.9,17.3v1.8M551.0,165.6v-3M551.0,17.3v3M563.1,165.6v-1.8M563.1,17.3v1.8M575.2,165.6v-1.8M575.2,17.3v1.8M587.2,165.6v-1.8M587.2,17.3v1.8M599.3,165.6v-1.8M599.3,17.3v1.8M611.4,165.6v-3M611.4,17.3v3M623.5,165.6v-1.8M623.5,17.3v1.8M635.6,165.6v-1.8M635.6,17.3v1.8M647.6,165.6v-1.8M647.6,17.3v1.8M659.7,165.6v-1.8M659.7,17.3v1.8M671.8,165.6v-3M671.8,17.3v3M430.2,165.4h3M671.8,165.4h-3M430.2,160.5h1.8M671.8,160.5h-1.8M430.2,155.5h1.8M671.8,155.5h-1.8M430.2,150.5h1.8M671.8,150.5h-1.8M430.2,145.6h1.8M671.8,145.6h-1.8M430.2,140.6h3M671.8,140.6h-3M430.2,135.6h1.8M671.8,135.6h-1.8M430.2,130.7h1.8M671.8,130.7h-1.8M430.2,125.7h1.8M671.8,125.7h-1.8M430.2,120.7h1.8M671.8,120.7h-1.8M430.2,115.8h3M671.8,115.8h-3M430.2,110.8h1.8M671.8,110.8h-1.8M430.2,105.8h1.8M671.8,105.8h-1.8M430.2,100.8h1.8M671.8,100.8h-1.8M430.2,95.9h1.8M671.8,95.9h-1.8M430.2,90.9h3M671.8,90.9h-3M430.2,85.9h1.8M671.8,85.9h-1.8M430.2,81.0h1.8M671.8,81.0h-1.8M430.2,76.0h1.8M671.8,76.0h-1.8M430.2,71.0h1.8M671.8,71.0h-1.8M430.2,66.0h3M671.8,66.0h-3M430.2,61.1h1.8M671.8,61.1h-1.8M430.2,56.1h1.8M671.8,56.1h-1.8M430.2,51.1h1.8M671.8,51.1h-1.8M430.2,46.2h1.8M671.8,46.2h-1.8M430.2,41.2h3M671.8,41.2h-3M430.2,36.2h1.8M671.8,36.2h-1.8M430.2,31.3h1.8M671.8,31.3h-1.8M430.2,26.3h1.8M671.8,26.3h-1.8M430.2,21.3h1.8M671.8,21.3h-1.8" stroke="#000" stroke-width="1" fill="none"/>
<rect x="430.2" y="17.3" width="241.59999999999997" height="148.29999999999998" fill="none" stroke="#222" stroke-width="1.4"/>
<rect x="611" y="31.4" width="53.6" height="117.8" fill="#fff" stroke="#444" stroke-width="1"/>
<path d="M615.5,71.2H659" stroke="#e00000" stroke-width="3.8" stroke-linecap="round"/>
<g font-family='"Liberation Sans", sans-serif' fill="#000" text-anchor="middle">
<text font-size="17" transform="matrix(1,0,0,1.08,636.60,47.60)">ProTα</text>
<text font-size="17" transform="matrix(1,0,0,1.08,636.20,62.80)">(nM)</text>
<text font-size="15" fill="#1010ff" transform="matrix(1,0,0,1.08,636.70,88.00)">0</text>
<text font-size="15" fill="#8200ff" transform="matrix(1,0,0,1.08,636.70,102.10)">70</text>
<text font-size="15" fill="#dc00ff" transform="matrix(1,0,0,1.08,636.70,116.20)">100</text>
<text font-size="15" fill="#ff00aa" transform="matrix(1,0,0,1.08,636.70,130.30)">150</text>
<text font-size="15" fill="#ff0050" transform="matrix(1,0,0,1.08,636.70,144.40)">200</text>
</g>
<g font-family='"Liberation Sans", sans-serif' font-size="20" fill="#000">
<text font-size="21" transform="matrix(1,0,0,1.08,392.52,48.70)">1.0</text>
<text font-size="21" transform="matrix(1,0,0,1.08,392.65,73.75)">0.9</text>
<text font-size="21" transform="matrix(1,0,0,1.08,392.65,98.80)">0.8</text>
<text font-size="21" transform="matrix(1,0,0,1.08,392.77,123.85)">0.7</text>
<text font-size="21" transform="matrix(1,0,0,1.08,392.65,148.90)">0.6</text>
<text font-size="21" transform="matrix(1,0,0,1.08,410.21,190.90)">0.00</text>
<text font-size="21" transform="matrix(1,0,0,1.08,467.18,190.90)">0.05</text>
<text font-size="21" transform="matrix(1,0,0,1.08,527.26,190.90)">0.10</text>
<text font-size="21" transform="matrix(1,0,0,1.08,586.38,190.90)">0.15</text>
<text font-size="21" transform="matrix(1,0,0,1.08,645.75,190.90)">0.20</text>
<text font-size="21" transform="matrix(1,0,0,1.08,512.75,218.30)">Time (s)</text>
<text font-size="28" font-weight="bold" transform="matrix(1,0,0,1.08,342.82,20.80)">b</text>
<text transform="translate(359.6,91.8) rotate(-90) scale(1,1.08)" text-anchor="middle" font-size="20.6">Normalized</text>
<text transform="translate(378.6,91.8) rotate(-90) scale(1,1.08)" text-anchor="middle" font-size="20.6">fluorescence</text>
</g>
<defs><clipPath id="cc"><rect x="79.0" y="263.3" width="567.3" height="349.99999999999994"/></clipPath><clipPath id="cd"><rect x="79.0" y="613.3" width="567.3" height="244.70000000000005"/></clipPath></defs>
<g clip-path="url(#cc)">
<path d="M350.0,509.2 C353.3,509.6 363.3,510.9 370.0,511.5 C376.7,512.1 381.7,512.3 390.0,512.8 C398.3,513.2 411.7,513.8 420.0,514.2 C428.3,514.6 428.8,514.6 440.0,515.2 C451.2,515.8 471.5,516.2 487.2,518.0 C502.9,519.8 520.8,523.0 534.2,525.7 C547.6,528.4 556.5,530.5 567.7,534.1 C578.9,537.7 592.3,543.8 601.3,547.5 C610.3,551.2 614.0,552.7 621.5,556.5 C629.0,560.3 642.2,568.1 646.3,570.4" fill="none" stroke="#1e90ff" stroke-opacity="0.18" stroke-width="6"/>
<path d="M415.0,421.5 C419.1,418.7 432.9,409.2 439.6,404.5 C446.3,399.8 449.3,397.6 455.0,393.5 C460.7,389.4 466.5,385.0 473.9,380.0 C481.3,375.0 491.9,368.2 499.6,363.4 C507.3,358.6 512.9,355.1 520.0,351.0 C527.1,346.9 534.5,342.9 542.4,339.0 C550.3,335.1 559.9,330.9 567.4,327.5 C574.9,324.1 579.2,321.4 587.4,318.5 C595.6,315.6 607.0,312.6 616.8,310.4 C626.6,308.2 641.4,306.0 646.3,305.1" fill="none" stroke="#d070e0" stroke-opacity="0.5" stroke-width="7.5"/>
<path d="M528.0,315.0 C529.0,315.6 532.0,318.3 534.2,318.8 C536.4,319.3 538.0,318.6 541.0,318.0 C544.0,317.4 547.6,316.6 552.0,315.5 C556.4,314.4 561.5,313.3 567.4,311.5 C573.3,309.7 579.2,306.3 587.4,304.5 C595.6,302.7 607.0,301.6 616.8,300.5 C626.6,299.4 641.4,298.4 646.3,298.0" fill="none" stroke="#c8c8c8" stroke-opacity="0.7" stroke-width="7" stroke-linecap="round"/>
<path d="M79.0,281.2 C115.8,281.3 249.8,281.4 300.0,281.6 C350.2,281.8 360.8,281.8 380.0,282.3 C399.2,282.8 403.3,283.2 415.0,284.5 C426.7,285.8 440.8,288.1 450.0,289.9 C459.2,291.6 464.2,293.1 470.0,295.0 C475.8,296.9 480.0,299.1 485.0,301.5 C490.0,303.9 495.8,306.9 500.0,309.5 C504.2,312.1 507.3,314.2 510.0,317.0 C512.7,319.8 514.2,322.5 516.0,326.0 C517.8,329.5 519.2,333.7 520.5,338.0 C521.8,342.3 522.9,347.0 524.0,352.0 C525.1,357.0 526.3,362.5 527.2,368.0 C528.1,373.5 528.8,379.2 529.6,385.0 C530.4,390.8 531.1,395.8 531.8,403.0 C532.5,410.2 533.2,418.8 534.0,428.0 C534.8,437.2 535.5,449.0 536.5,458.0 C537.5,467.0 538.6,475.0 540.0,482.0 C541.4,489.0 543.0,494.7 545.0,500.0 C547.0,505.3 548.8,508.9 552.0,514.0 C555.2,519.1 558.4,525.2 564.4,530.5 C570.4,535.8 580.1,541.8 587.9,545.8 C595.7,549.8 601.7,552.2 611.4,554.2 C621.1,556.2 640.5,557.2 646.3,557.8" fill="none" stroke="#808080" stroke-width="1.5" stroke-dasharray="14.5,5.3"/>
<path d="M79.0,561.6 L646.3,561.6" fill="none" stroke="#ff0000" stroke-width="1.5" stroke-dasharray="14.5,5.3"/>
<path d="M79.0,469.2 C87.5,469.3 110.5,469.4 130.0,469.8 C149.5,470.2 179.1,470.8 195.8,471.8 C212.5,472.8 221.0,474.4 230.0,476.0 C239.0,477.6 242.9,479.5 250.0,481.5 C257.1,483.5 266.1,485.9 272.3,488.2 C278.6,490.5 282.1,491.7 287.5,495.2 C292.9,498.7 299.8,504.9 305.0,509.2 C310.2,513.5 314.1,517.0 319.0,520.9 C323.9,524.8 329.7,529.5 334.2,532.6 C338.7,535.7 339.9,536.9 345.9,539.6 C351.9,542.3 362.8,546.5 370.2,549.0 C377.6,551.5 381.7,552.9 390.0,554.3 C398.3,555.7 408.3,556.6 420.0,557.6 C431.7,558.6 446.7,559.4 460.0,560.0 C473.3,560.6 468.9,560.8 500.0,561.0 C531.0,561.2 621.9,561.4 646.3,561.5" fill="none" stroke="#7f0fff" stroke-width="1.5" stroke-dasharray="14.5,5.3" stroke-dashoffset="4"/>
<path d="M79.0,473.6 C87.5,473.7 110.5,473.8 130.0,474.2 C149.5,474.6 179.1,475.4 195.8,476.3 C212.5,477.2 220.1,477.9 230.0,479.5 C239.9,481.1 248.3,483.7 255.0,486.0 C261.7,488.3 265.6,491.1 270.0,493.4 C274.4,495.7 277.8,497.1 281.7,499.9 C285.6,502.7 289.5,506.5 293.4,510.4 C297.3,514.3 301.1,518.7 305.0,523.2 C308.9,527.7 312.8,532.7 316.7,537.2 C320.6,541.7 324.5,545.5 328.4,550.1 C332.3,554.7 335.4,559.0 340.0,565.0 C344.6,571.0 350.7,578.8 356.1,585.8 C361.5,592.8 368.5,601.6 372.5,606.8 C376.5,612.0 378.8,615.3 380.0,617.0" fill="none" stroke="#1e90ff" stroke-width="1.5" stroke-dasharray="14.5,5.3"/>
<path d="M79.0,281.2 C99.2,281.2 163.2,281.3 200.0,281.4 C236.8,281.5 270.0,281.5 300.0,281.6 C330.0,281.7 360.8,281.7 380.0,282.0 C399.2,282.3 403.3,282.7 415.0,283.6 C426.7,284.5 438.3,285.5 450.0,287.5 C461.7,289.5 475.2,292.8 485.0,295.5 C494.8,298.2 502.7,301.7 508.5,304.0 C514.3,306.3 516.8,307.7 520.0,309.5 C523.2,311.3 525.6,313.4 528.0,315.0 C530.4,316.6 532.0,318.3 534.2,318.8 C536.4,319.3 538.0,318.6 541.0,318.0 C544.0,317.4 547.6,316.6 552.0,315.5 C556.4,314.4 561.5,313.3 567.4,311.5 C573.3,309.7 579.2,306.3 587.4,304.5 C595.6,302.7 607.0,301.6 616.8,300.5 C626.6,299.4 641.4,298.4 646.3,298.0" fill="none" stroke="#808080" stroke-width="1.5"/>
<path d="M79.0,473.6 C98.5,473.9 170.6,474.7 195.8,475.6 C221.0,476.6 217.6,477.4 230.0,479.3 C242.4,481.2 261.4,485.4 270.0,487.0 C278.6,488.6 276.8,487.4 281.7,488.8 C286.6,490.2 293.4,493.1 299.2,495.2 C305.0,497.3 310.9,499.8 316.7,501.6 C322.5,503.5 328.6,505.0 334.2,506.3 C339.8,507.6 344.0,508.3 350.0,509.2 C356.0,510.1 363.3,510.9 370.0,511.5 C376.7,512.1 381.7,512.3 390.0,512.8 C398.3,513.2 411.7,513.8 420.0,514.2 C428.3,514.6 428.8,514.6 440.0,515.2 C451.2,515.8 471.5,516.2 487.2,518.0 C502.9,519.8 520.8,523.0 534.2,525.7 C547.6,528.4 556.5,530.5 567.7,534.1 C578.9,537.7 592.3,543.8 601.3,547.5 C610.3,551.2 614.0,552.7 621.5,556.5 C629.0,560.3 642.2,568.1 646.3,570.4" fill="none" stroke="#1e90ff" stroke-width="1.6"/>
<path d="M79.0,561.8 C90.8,561.8 129.8,561.8 150.0,561.5 C170.2,561.2 186.7,560.8 200.0,560.3 C213.3,559.8 221.7,559.1 230.0,558.3 C238.3,557.5 243.3,556.6 250.0,555.5 C256.7,554.4 263.8,553.0 270.0,551.5 C276.2,550.0 282.1,548.7 287.5,546.5 C292.9,544.3 298.2,541.3 302.7,538.4 C307.2,535.5 311.1,532.1 314.4,529.0 C317.7,525.9 319.5,523.0 322.6,519.7 C325.7,516.4 329.2,513.4 333.1,509.2 C337.0,505.0 341.4,499.6 345.9,494.5 C350.4,489.4 355.1,484.1 360.0,478.5 C364.9,472.9 370.0,466.6 375.0,461.0 C380.0,455.4 383.3,451.2 390.0,445.0 C396.7,438.8 406.7,430.5 415.0,424.0 C423.3,417.5 432.9,410.9 439.6,406.0 C446.3,401.1 449.3,398.7 455.0,394.5 C460.7,390.3 466.5,385.7 473.9,380.6 C481.3,375.5 491.9,368.7 499.6,363.8 C507.3,358.9 512.9,355.4 520.0,351.3 C527.1,347.2 534.5,343.2 542.4,339.3 C550.3,335.4 559.9,331.2 567.4,327.8 C574.9,324.4 579.2,321.7 587.4,318.8 C595.6,315.9 607.0,312.9 616.8,310.7 C626.6,308.5 641.4,306.3 646.3,305.4" fill="none" stroke="#ff0000" stroke-width="1.6"/>
<path d="M79.0,469.2 C98.5,469.4 170.6,469.6 195.8,470.2 C221.0,470.8 219.3,471.4 230.0,472.5 C240.7,473.6 250.8,475.2 260.0,476.5 C269.2,477.8 277.5,479.4 285.0,480.5 C292.5,481.6 299.4,482.8 305.0,483.3 C310.6,483.8 313.8,484.1 318.8,483.5 C323.8,482.9 329.3,481.4 335.1,479.5 C340.9,477.6 348.0,475.4 353.8,472.0 C359.6,468.6 364.2,464.2 370.2,459.0 C376.2,453.8 382.5,446.8 390.0,440.5 C397.5,434.2 406.7,427.5 415.0,421.5 C423.3,415.5 432.9,409.2 439.6,404.5 C446.3,399.8 449.3,397.6 455.0,393.5 C460.7,389.4 466.5,385.0 473.9,380.0 C481.3,375.0 491.9,368.2 499.6,363.4 C507.3,358.6 512.9,355.1 520.0,351.0 C527.1,346.9 534.5,342.9 542.4,339.0 C550.3,335.1 559.9,330.9 567.4,327.5 C574.9,324.1 579.2,321.4 587.4,318.5 C595.6,315.6 607.0,312.6 616.8,310.4 C626.6,308.2 641.4,306.0 646.3,305.1" fill="none" stroke="#7f0fff" stroke-width="1.6"/>
<path d="M362.0,446.0V507.6" stroke="#7f0fff" stroke-width="2.2"/>
<circle cx="362.0" cy="465.5" r="6.4" fill="#fff" stroke="#7f0fff" stroke-width="2.2"/>
<path d="M357.5,446.0h9M357.5,507.6h9" stroke="#7f0fff" stroke-width="2.0"/>
<path d="M403.2,440.0V447.0" stroke="#7f0fff" stroke-width="2.2"/>
<circle cx="403.2" cy="443.4" r="6.4" fill="#fff" stroke="#7f0fff" stroke-width="2.2"/>
<path d="M398.7,440.0h9M398.7,447.0h9" stroke="#7f0fff" stroke-width="2.0"/>
<path d="M439.6,413.5V419.5" stroke="#7f0fff" stroke-width="2.2"/>
<circle cx="439.6" cy="416.4" r="6.4" fill="#fff" stroke="#7f0fff" stroke-width="2.2"/>
<path d="M435.1,413.5h9M435.1,419.5h9" stroke="#7f0fff" stroke-width="2.0"/>
<path d="M454.7,395.0V401.0" stroke="#7f0fff" stroke-width="2.2"/>
<circle cx="454.7" cy="398.0" r="6.4" fill="#fff" stroke="#7f0fff" stroke-width="2.2"/>
<path d="M450.2,395.0h9M450.2,401.0h9" stroke="#7f0fff" stroke-width="2.0"/>
<path d="M473.9,381.0V386.0" stroke="#7f0fff" stroke-width="2.2"/>
<circle cx="473.9" cy="383.3" r="6.4" fill="#fff" stroke="#7f0fff" stroke-width="2.2"/>
<path d="M469.4,381.0h9M469.4,386.0h9" stroke="#7f0fff" stroke-width="2.0"/>
<path d="M487.9,371.6V392.6" stroke="#7f0fff" stroke-width="2.2"/>
<circle cx="487.9" cy="381.7" r="6.4" fill="#fff" stroke="#7f0fff" stroke-width="2.2"/>
<path d="M483.4,371.6h9M483.4,392.6h9" stroke="#7f0fff" stroke-width="2.0"/>
<path d="M499.6,365.8V385.6" stroke="#7f0fff" stroke-width="2.2"/>
<circle cx="499.6" cy="375.1" r="6.4" fill="#fff" stroke="#7f0fff" stroke-width="2.2"/>
<path d="M495.1,365.8h9M495.1,385.6h9" stroke="#7f0fff" stroke-width="2.0"/>
<path d="M528.0,342.7V377.8" stroke="#7f0fff" stroke-width="2.2"/>
<circle cx="528.0" cy="357.0" r="6.4" fill="#fff" stroke="#7f0fff" stroke-width="2.2"/>
<path d="M523.5,342.7h9M523.5,377.8h9" stroke="#7f0fff" stroke-width="2.0"/>
<path d="M542.4,323.4V361.7" stroke="#7f0fff" stroke-width="2.2"/>
<circle cx="542.4" cy="338.5" r="6.4" fill="#fff" stroke="#7f0fff" stroke-width="2.2"/>
<path d="M537.9,323.4h9M537.9,361.7h9" stroke="#7f0fff" stroke-width="2.0"/>
<path d="M567.4,320.9V345.0" stroke="#7f0fff" stroke-width="2.2"/>
<circle cx="567.4" cy="331.7" r="6.4" fill="#fff" stroke="#7f0fff" stroke-width="2.2"/>
<path d="M562.9,320.9h9M562.9,345.0h9" stroke="#7f0fff" stroke-width="2.0"/>
<path d="M567.4,305.5V311.5" stroke="#808080" stroke-width="2.2"/>
<circle cx="567.4" cy="308.5" r="7.0" fill="#fff" stroke="#808080" stroke-width="2.5"/>
<path d="M562.9,305.5h9M562.9,311.5h9" stroke="#808080" stroke-width="2.0"/>
<path d="M587.4,293.0V298.0" stroke="#808080" stroke-width="2.2"/>
<circle cx="587.4" cy="296.8" r="7.0" fill="#fff" stroke="#808080" stroke-width="2.5"/>
<path d="M582.9,293.0h9M582.9,298.0h9" stroke="#808080" stroke-width="2.0"/>
<path d="M616.8,299.0V305.0" stroke="#808080" stroke-width="2.2"/>
<circle cx="616.8" cy="301.9" r="7.0" fill="#fff" stroke="#808080" stroke-width="2.5"/>
<path d="M612.3,299.0h9M612.3,305.0h9" stroke="#808080" stroke-width="2.0"/>
<path d="M273.4,464.0V473.6" stroke="#7f0fff" stroke-width="2.2"/>
<rect x="266.1" y="461.2" width="14.5" height="14.5" fill="#fff" stroke="#7f0fff" stroke-width="2.0"/>
<path d="M268.9,464.0h9M268.9,473.6h9" stroke="#7f0fff" stroke-width="2.0"/>
<path d="M307.1,472.5V478.5" stroke="#7f0fff" stroke-width="2.2"/>
<rect x="299.9" y="470.6" width="14.5" height="14.5" fill="#fff" stroke="#7f0fff" stroke-width="2.0"/>
<path d="M302.6,472.5h9M302.6,478.5h9" stroke="#7f0fff" stroke-width="2.0"/>
<path d="M326.9,464.0V471.5" stroke="#7f0fff" stroke-width="2.2"/>
<rect x="319.6" y="460.6" width="14.5" height="14.5" fill="#fff" stroke="#7f0fff" stroke-width="2.0"/>
<path d="M322.4,464.0h9M322.4,471.5h9" stroke="#7f0fff" stroke-width="2.0"/>
<path d="M351.9,466.0V473.0" stroke="#7f0fff" stroke-width="2.2"/>
<rect x="344.6" y="462.2" width="14.5" height="14.5" fill="#fff" stroke="#7f0fff" stroke-width="2.0"/>
<path d="M347.4,466.0h9M347.4,473.0h9" stroke="#7f0fff" stroke-width="2.0"/>
<path d="M386.1,445.0V452.0" stroke="#7f0fff" stroke-width="2.2"/>
<rect x="378.9" y="441.4" width="14.5" height="14.5" fill="#fff" stroke="#7f0fff" stroke-width="2.0"/>
<path d="M381.6,445.0h9M381.6,452.0h9" stroke="#7f0fff" stroke-width="2.0"/>
<path d="M395.3,445.0V452.0" stroke="#7f0fff" stroke-width="2.2"/>
<rect x="388.1" y="441.4" width="14.5" height="14.5" fill="#fff" stroke="#7f0fff" stroke-width="2.0"/>
<path d="M390.8,445.0h9M390.8,452.0h9" stroke="#7f0fff" stroke-width="2.0"/>
<path d="M403.5,426.0V433.0" stroke="#7f0fff" stroke-width="2.2"/>
<rect x="396.2" y="422.2" width="14.5" height="14.5" fill="#fff" stroke="#7f0fff" stroke-width="2.0"/>
<path d="M399.0,426.0h9M399.0,433.0h9" stroke="#7f0fff" stroke-width="2.0"/>
<path d="M420.4,428.5V434.0" stroke="#7f0fff" stroke-width="2.2"/>
<rect x="413.1" y="425.1" width="14.5" height="14.5" fill="#fff" stroke="#7f0fff" stroke-width="2.0"/>
<path d="M415.9,428.5h9M415.9,434.0h9" stroke="#7f0fff" stroke-width="2.0"/>
<path d="M273.4,473.6V487.0" stroke="#1e90ff" stroke-width="2.2"/>
<path d="M273.4,473.4L281.0,486.6L265.8,486.6Z" fill="#fff" stroke="#1e90ff" stroke-width="2.2" stroke-linejoin="miter"/>
<path d="M268.9,473.6h9M268.9,487.0h9" stroke="#1e90ff" stroke-width="2.0"/>
<path d="M307.4,484.5V497.5" stroke="#1e90ff" stroke-width="2.2"/>
<path d="M307.4,484.4L315.0,497.6L299.8,497.6Z" fill="#fff" stroke="#1e90ff" stroke-width="2.2" stroke-linejoin="miter"/>
<path d="M302.9,484.5h9M302.9,497.5h9" stroke="#1e90ff" stroke-width="2.0"/>
<path d="M326.9,484.5V494.5" stroke="#1e90ff" stroke-width="2.2"/>
<path d="M326.9,482.9L334.5,496.1L319.3,496.1Z" fill="#fff" stroke="#1e90ff" stroke-width="2.2" stroke-linejoin="miter"/>
<path d="M322.4,484.5h9M322.4,494.5h9" stroke="#1e90ff" stroke-width="2.0"/>
<path d="M351.9,498.0V505.0" stroke="#1e90ff" stroke-width="2.2"/>
<path d="M351.9,495.1L359.5,508.3L344.3,508.3Z" fill="#fff" stroke="#1e90ff" stroke-width="2.2" stroke-linejoin="miter"/>
<path d="M347.4,498.0h9M347.4,505.0h9" stroke="#1e90ff" stroke-width="2.0"/>
<path d="M386.1,494.0V500.5" stroke="#1e90ff" stroke-width="2.2"/>
<path d="M386.1,491.6L393.7,504.8L378.5,504.8Z" fill="#fff" stroke="#1e90ff" stroke-width="2.2" stroke-linejoin="miter"/>
<path d="M381.6,494.0h9M381.6,500.5h9" stroke="#1e90ff" stroke-width="2.0"/>
<path d="M395.3,494.0V500.5" stroke="#1e90ff" stroke-width="2.2"/>
<path d="M395.3,491.6L402.9,504.8L387.7,504.8Z" fill="#fff" stroke="#1e90ff" stroke-width="2.2" stroke-linejoin="miter"/>
<path d="M390.8,494.0h9M390.8,500.5h9" stroke="#1e90ff" stroke-width="2.0"/>
<path d="M403.5,491.0V498.5" stroke="#1e90ff" stroke-width="2.2"/>
<path d="M403.5,489.3L411.1,502.5L395.9,502.5Z" fill="#fff" stroke="#1e90ff" stroke-width="2.2" stroke-linejoin="miter"/>
<path d="M399.0,491.0h9M399.0,498.5h9" stroke="#1e90ff" stroke-width="2.0"/>
<path d="M420.4,513.1V526.9" stroke="#1e90ff" stroke-width="2.2"/>
<path d="M420.4,512.4L428.0,525.6L412.8,525.6Z" fill="#fff" stroke="#1e90ff" stroke-width="2.2" stroke-linejoin="miter"/>
<path d="M415.9,513.1h9M415.9,526.9h9" stroke="#1e90ff" stroke-width="2.0"/>
<path d="M273.2,519.2V537.9" stroke="#ff0000" stroke-width="2.2"/>
<path d="M273.2,534.0L280.8,520.8L265.6,520.8Z" fill="#fff" stroke="#ff0000" stroke-width="2.2" stroke-linejoin="miter"/>
<path d="M268.7,519.2h9M268.7,537.9h9" stroke="#ff0000" stroke-width="2.0"/>
<path d="M307.1,526.2V547.3" stroke="#ff0000" stroke-width="2.2"/>
<path d="M307.1,542.2L314.7,529.0L299.5,529.0Z" fill="#fff" stroke="#ff0000" stroke-width="2.2" stroke-linejoin="miter"/>
<path d="M302.6,526.2h9M302.6,547.3h9" stroke="#ff0000" stroke-width="2.0"/>
<path d="M326.9,501.0V513.0" stroke="#ff0000" stroke-width="2.2"/>
<path d="M326.9,514.2L334.5,501.0L319.3,501.0Z" fill="#fff" stroke="#ff0000" stroke-width="2.2" stroke-linejoin="miter"/>
<path d="M322.4,501.0h9M322.4,513.0h9" stroke="#ff0000" stroke-width="2.0"/>
<path d="M351.9,490.0V502.0" stroke="#ff0000" stroke-width="2.2"/>
<path d="M351.9,503.2L359.5,490.0L344.3,490.0Z" fill="#fff" stroke="#ff0000" stroke-width="2.2" stroke-linejoin="miter"/>
<path d="M347.4,490.0h9M347.4,502.0h9" stroke="#ff0000" stroke-width="2.0"/>
<path d="M386.1,458.0V468.0" stroke="#ff0000" stroke-width="2.2"/>
<path d="M386.1,469.7L393.7,456.5L378.5,456.5Z" fill="#fff" stroke="#ff0000" stroke-width="2.2" stroke-linejoin="miter"/>
<path d="M381.6,458.0h9M381.6,468.0h9" stroke="#ff0000" stroke-width="2.0"/>
<path d="M395.3,458.0V468.0" stroke="#ff0000" stroke-width="2.2"/>
<path d="M395.3,469.7L402.9,456.5L387.7,456.5Z" fill="#fff" stroke="#ff0000" stroke-width="2.2" stroke-linejoin="miter"/>
<path d="M390.8,458.0h9M390.8,468.0h9" stroke="#ff0000" stroke-width="2.0"/>
<path d="M403.5,432.0V443.0" stroke="#ff0000" stroke-width="2.2"/>
<path d="M403.5,444.1L411.1,430.9L395.9,430.9Z" fill="#fff" stroke="#ff0000" stroke-width="2.2" stroke-linejoin="miter"/>
<path d="M399.0,432.0h9M399.0,443.0h9" stroke="#ff0000" stroke-width="2.0"/>
<path d="M420.5,431.0V443.0" stroke="#ff0000" stroke-width="2.2"/>
<path d="M420.5,443.6L428.1,430.4L412.9,430.4Z" fill="#fff" stroke="#ff0000" stroke-width="2.2" stroke-linejoin="miter"/>
<path d="M416.0,431.0h9M416.0,443.0h9" stroke="#ff0000" stroke-width="2.0"/>
</g>
<g clip-path="url(#cd)">
<path d="M78.9,848.4 L81.0,848.4 L83.1,848.4 L85.3,848.4 L87.4,848.4 L89.5,848.4 L91.6,848.4 L93.7,848.4 L95.8,848.4 L97.9,848.3 L100.1,848.3 L102.2,848.3 L104.3,848.3 L106.4,848.3 L108.5,848.3 L110.6,848.3 L112.7,848.3 L114.8,848.3 L116.9,848.3 L119.0,848.3 L121.1,848.3 L123.2,848.3 L125.3,848.2 L127.4,848.2 L129.5,848.2 L131.6,848.2 L133.7,848.2 L135.8,848.2 L137.9,848.2 L140.0,848.2 L142.1,848.2 L144.2,848.2 L146.3,848.2 L148.3,848.2 L150.4,848.2 L152.5,848.2 L154.6,848.1 L156.7,848.1 L158.8,848.1 L160.9,848.1 L163.0,848.1 L165.1,848.1 L167.1,848.1 L169.2,848.1 L171.3,848.1 L173.4,848.1 L175.5,848.1 L177.6,848.1 L179.7,848.1 L181.7,848.1 L183.8,848.1 L185.9,848.1 L188.0,848.0 L190.1,848.0 L192.2,848.0 L194.3,848.0 L196.3,848.0 L198.4,848.0 L200.5,848.0 L202.6,848.0 L204.7,848.0 L206.8,848.0 L208.8,848.0 L210.9,848.0 L213.0,848.0 L215.1,848.0 L217.2,848.0 L219.3,848.0 L221.3,848.0 L223.4,847.9 L225.5,847.9 L227.6,847.9 L229.7,847.9 L231.8,847.9 L233.8,847.9 L235.9,847.9 L238.0,847.9 L240.1,847.9 L242.2,847.9 L244.3,847.9 L246.3,847.9 L248.4,847.9 L250.5,847.9 L252.6,847.9 L254.7,847.9 L256.8,847.8 L258.9,847.8 L261.0,847.8 L263.0,847.8 L265.1,847.8 L267.2,847.8 L269.3,847.8 L271.4,847.8 L273.5,847.8 L275.6,847.8 L277.7,847.8 L279.8,847.8 L281.9,847.8 L284.0,847.8 L286.1,847.8 L288.2,847.8 L290.3,847.7 L292.4,847.7 L294.5,847.7 L296.6,847.7 L298.7,847.7 L300.8,847.7 L302.9,847.7 L305.0,847.7 L307.1,847.7 L309.2,847.7 L311.3,847.7 L313.4,847.7 L315.5,847.7 L317.6,847.7 L319.7,847.7 L321.8,847.6 L323.9,847.6 L326.0,847.6 L328.2,847.6 L330.3,847.6 L332.4,847.6 L334.5,847.6 L336.6,847.6 L338.7,847.6 L340.8,847.5 L343.0,847.5 L345.1,847.5 L347.2,847.5 L349.3,847.4 L351.4,847.4 L353.5,847.4 L355.7,847.3 L357.8,847.3 L359.9,847.2 L362.0,847.2 L364.1,847.1 L366.2,847.0 L368.3,847.0 L370.5,846.9 L372.6,846.8 L374.7,846.7 L376.8,846.6 L378.9,846.5 L381.0,846.4 L383.1,846.3 L385.2,846.2 L387.3,846.0 L389.4,845.9 L391.5,845.7 L393.6,845.6 L395.7,845.4 L397.8,845.2 L399.9,845.0 L402.0,844.8 L404.1,844.6 L406.2,844.4 L408.3,844.2 L410.4,844.0 L412.5,843.7 L414.5,843.4 L416.6,843.2 L418.7,842.9 L420.8,842.6 L422.8,842.3 L424.9,842.0 L427.0,841.6 L429.0,841.3 L431.1,840.9 L433.2,840.6 L435.2,840.2 L437.3,839.8 L439.3,839.4 L441.4,838.9 L443.4,838.5 L445.4,838.0 L447.5,837.6 L449.5,837.1 L451.5,836.6 L453.6,836.1 L455.6,835.5 L457.6,835.0 L459.6,834.4 L461.6,833.9 L463.6,833.3 L465.6,832.7 L467.5,832.1 L469.5,831.4 L471.5,830.8 L473.4,830.1 L475.4,829.4 L477.4,828.7 L479.3,828.0 L481.2,827.3 L483.2,826.5 L485.1,825.7 L487.0,824.9 L488.9,824.1 L490.8,823.3 L492.7,822.5 L494.6,821.6 L496.4,820.8 L498.3,819.9 L500.1,819.0 L502.0,818.0 L503.8,817.1 L505.6,816.1 L507.4,815.1 L509.2,814.1 L511.0,813.1 L512.8,812.1 L514.6,811.0 L516.4,809.9 L518.1,808.9 L519.9,807.7 L521.6,806.6 L523.3,805.5 L525.0,804.3 L526.7,803.1 L528.4,801.9 L530.1,800.7 L531.8,799.5 L533.4,798.2 L535.1,797.0 L536.7,795.7 L538.4,794.4 L540.0,793.1 L541.6,791.8 L543.2,790.5 L544.8,789.1 L546.4,787.7 L547.9,786.4 L549.5,785.0 L551.1,783.6 L552.6,782.1 L554.1,780.7 L555.7,779.3 L557.2,777.8 L558.7,776.3 L560.2,774.9 L561.7,773.4 L563.2,771.9 L564.7,770.4 L566.2,768.9 L567.6,767.3 L569.1,765.8 L570.6,764.3 L572.0,762.7 L573.5,761.2 L574.9,759.6 L576.3,758.0 L577.8,756.5 L579.2,754.9 L580.6,753.3 L582.0,751.7 L583.5,750.1 L584.9,748.5 L586.3,746.9 L587.7,745.3 L589.1,743.7 L590.5,742.1 L591.9,740.5 L593.3,738.9 L594.7,737.3 L596.1,735.7 L597.5,734.1 L598.9,732.5 L600.3,730.9 L601.6,729.3 L603.0,727.7 L604.4,726.1 L605.8,724.5 L607.2,722.9 L608.6,721.3 L610.0,719.7 L611.4,718.1 L612.8,716.6 L614.2,715.0 L615.6,713.4 L617.0,711.9 L618.4,710.3 L619.8,708.8 L621.2,707.2 L622.6,705.7 L624.0,704.2 L625.4,702.7 L626.9,701.2 L628.3,699.7 L629.7,698.2 L631.2,696.7 L632.6,695.2 L634.0,693.8 L635.5,692.3 L637.0,690.9 L638.4,689.5 L639.9,688.1 L641.4,686.7 L642.8,685.3 L644.3,684.0 L645.8,682.6" fill="none" stroke="#ff0000" stroke-width="1.5" stroke-dasharray="11.7,8.6,2.6,8.6"/>
<path d="M79.0,848.3 L80.9,848.3 L82.8,848.3 L84.7,848.3 L86.6,848.3 L88.5,848.3 L90.4,848.3 L92.3,848.3 L94.2,848.3 L96.1,848.4 L98.0,848.4 L99.9,848.4 L101.8,848.4 L103.7,848.4 L105.6,848.4 L107.5,848.4 L109.4,848.4 L111.3,848.4 L113.2,848.4 L115.1,848.4 L116.9,848.4 L118.8,848.4 L120.7,848.4 L122.6,848.4 L124.5,848.4 L126.4,848.4 L128.3,848.4 L130.2,848.4 L132.1,848.4 L134.0,848.4 L135.9,848.4 L137.8,848.4 L139.7,848.4 L141.6,848.4 L143.5,848.4 L145.4,848.4 L147.3,848.4 L149.2,848.4 L151.1,848.4 L153.0,848.4 L154.9,848.4 L156.8,848.4 L158.7,848.4 L160.6,848.4 L162.5,848.4 L164.4,848.4 L166.3,848.4 L168.2,848.3 L170.1,848.3 L172.0,848.3 L173.9,848.3 L175.8,848.3 L177.7,848.3 L179.6,848.3 L181.5,848.3 L183.4,848.3 L185.3,848.3 L187.1,848.3 L189.0,848.3 L190.9,848.3 L192.8,848.3 L194.7,848.3 L196.6,848.3 L198.5,848.3 L200.4,848.3 L202.3,848.3 L204.2,848.3 L206.1,848.2 L208.0,848.2 L209.9,848.2 L211.8,848.2 L213.7,848.2 L215.6,848.2 L217.5,848.2 L219.4,848.2 L221.3,848.2 L223.2,848.2 L225.1,848.2 L227.0,848.2 L228.9,848.2 L230.8,848.2 L232.7,848.1 L234.6,848.1 L236.5,848.1 L238.4,848.1 L240.3,848.1 L242.2,848.1 L244.1,848.1 L246.0,848.1 L247.9,848.1 L249.8,848.1 L251.7,848.1 L253.6,848.1 L255.5,848.0 L257.4,848.0 L259.2,848.0 L261.1,848.0 L263.0,848.0 L264.9,848.0 L266.8,848.0 L268.7,848.0 L270.6,848.0 L272.5,848.0 L274.4,848.0 L276.3,848.0 L278.2,847.9 L280.1,847.9 L282.0,847.9 L283.9,847.9 L285.8,847.9 L287.7,847.9 L289.6,847.9 L291.5,847.9 L293.4,847.9 L295.3,847.9 L297.2,847.8 L299.1,847.8 L301.0,847.8 L302.9,847.8 L304.8,847.8 L306.7,847.8 L308.6,847.8 L310.5,847.8 L312.4,847.8 L314.3,847.8 L316.2,847.8 L318.1,847.7 L320.0,847.7 L321.9,847.7 L323.8,847.7 L325.7,847.7 L327.6,847.7 L329.4,847.7 L331.3,847.7 L333.2,847.7 L335.1,847.7 L337.0,847.7 L338.9,847.6 L340.8,847.6 L342.7,847.6 L344.6,847.6 L346.5,847.6 L348.4,847.6 L350.3,847.6 L352.2,847.6 L354.1,847.6 L356.0,847.6 L357.9,847.6 L359.8,847.5 L361.7,847.5 L363.6,847.5 L365.5,847.5 L367.4,847.5 L369.3,847.5 L371.2,847.5 L373.1,847.5 L375.0,847.5 L376.9,847.5 L378.8,847.5 L380.7,847.5 L382.6,847.5 L384.5,847.4 L386.4,847.4 L388.3,847.4 L390.2,847.4 L392.1,847.4 L394.0,847.4 L395.9,847.4 L397.8,847.4 L399.6,847.4 L401.5,847.4 L403.4,847.4 L405.3,847.4 L407.2,847.4 L409.1,847.4 L411.0,847.4 L412.9,847.3 L414.8,847.3 L416.7,847.3 L418.6,847.3 L420.5,847.3 L422.4,847.3 L424.3,847.3 L426.2,847.3 L428.1,847.3 L430.0,847.3 L431.9,847.3 L433.8,847.3 L435.7,847.3 L437.6,847.3 L439.5,847.3 L441.4,847.3 L443.3,847.3 L445.2,847.3 L447.1,847.3 L449.0,847.3 L450.9,847.3 L452.8,847.3 L454.7,847.3 L456.6,847.3 L458.5,847.3 L460.4,847.3 L462.3,847.2 L464.2,847.2 L466.1,847.2 L468.0,847.2 L469.8,847.2 L471.7,847.2 L473.6,847.2 L475.5,847.2 L477.4,847.2 L479.3,847.2 L481.2,847.2 L483.1,847.2 L485.0,847.2 L486.9,847.2 L488.8,847.2 L490.7,847.2 L492.6,847.2 L494.5,847.3 L496.4,847.3 L498.3,847.3 L500.2,847.3 L502.1,847.3 L504.0,847.3 L505.9,847.3 L507.8,847.3 L509.7,847.3 L511.6,847.3 L513.5,847.3 L515.4,847.3 L517.3,847.3 L519.2,847.3 L521.1,847.3 L523.0,847.3 L524.9,847.3 L526.8,847.3 L528.7,847.3 L530.6,847.3 L532.5,847.3 L534.4,847.3 L536.3,847.3 L538.2,847.4 L540.0,847.4 L541.9,847.4 L543.8,847.4 L545.7,847.4 L547.6,847.4 L549.5,847.4 L551.4,847.4 L553.3,847.4 L555.2,847.4 L557.1,847.4 L559.0,847.5 L560.9,847.5 L562.8,847.5 L564.7,847.5 L566.6,847.5 L568.5,847.5 L570.4,847.5 L572.3,847.5 L574.2,847.6 L576.1,847.6 L578.0,847.6 L579.9,847.6 L581.8,847.6 L583.7,847.6 L585.6,847.6 L587.5,847.7 L589.4,847.7 L591.3,847.7 L593.2,847.7 L595.1,847.7 L597.0,847.7 L598.9,847.8 L600.8,847.8 L602.7,847.8 L604.6,847.8 L606.5,847.8 L608.4,847.8 L610.3,847.9 L612.1,847.9 L614.0,847.9 L615.9,847.9 L617.8,847.9 L619.7,848.0 L621.6,848.0 L623.5,848.0 L625.4,848.0 L627.3,848.1 L629.2,848.1 L631.1,848.1 L633.0,848.1 L634.9,848.2 L636.8,848.2 L638.7,848.2 L640.6,848.2 L642.5,848.3 L644.4,848.3 L646.3,848.3" fill="none" stroke="#1e90ff" stroke-width="1.5" stroke-dasharray="11.7,8.6,2.6,8.6"/>
<path d="M79.0,625.1 L81.2,625.2 L83.5,625.2 L85.7,625.3 L88.0,625.4 L90.2,625.5 L92.4,625.6 L94.6,625.8 L96.9,625.9 L99.1,626.1 L101.3,626.3 L103.5,626.6 L105.7,626.8 L107.9,627.1 L110.1,627.4 L112.3,627.7 L114.5,628.0 L116.7,628.4 L118.8,628.7 L121.0,629.1 L123.2,629.5 L125.4,629.9 L127.5,630.3 L129.7,630.8 L131.9,631.2 L134.0,631.7 L136.2,632.2 L138.3,632.7 L140.5,633.2 L142.6,633.7 L144.8,634.3 L146.9,634.8 L149.0,635.4 L151.2,636.0 L153.3,636.6 L155.4,637.2 L157.6,637.8 L159.7,638.4 L161.8,639.0 L164.0,639.7 L166.1,640.3 L168.2,641.0 L170.3,641.7 L172.5,642.3 L174.6,643.0 L176.7,643.7 L178.8,644.4 L180.9,645.1 L183.0,645.9 L185.2,646.6 L187.3,647.3 L189.4,648.1 L191.5,648.8 L193.6,649.6 L195.7,650.4 L197.8,651.2 L199.9,652.0 L201.9,652.9 L204.0,653.7 L206.1,654.6 L208.1,655.5 L210.2,656.4 L212.2,657.3 L214.2,658.2 L216.2,659.2 L218.2,660.2 L220.2,661.2 L222.1,662.2 L224.1,663.3 L226.0,664.4 L227.9,665.5 L229.8,666.7 L231.7,667.9 L233.5,669.1 L235.3,670.3 L237.1,671.6 L238.9,672.9 L240.6,674.3 L242.3,675.7 L244.0,677.1 L245.6,678.6 L247.2,680.1 L248.8,681.6 L250.4,683.2 L251.9,684.8 L253.4,686.4 L254.9,688.0 L256.3,689.7 L257.7,691.4 L259.1,693.1 L260.5,694.9 L261.8,696.6 L263.1,698.4 L264.4,700.2 L265.7,702.0 L266.9,703.9 L268.1,705.7 L269.3,707.6 L270.5,709.5 L271.7,711.4 L272.8,713.3 L273.9,715.2 L275.0,717.1 L276.1,719.1 L277.2,721.0 L278.2,723.0 L279.2,724.9 L280.3,726.9 L281.3,728.9 L282.3,730.9 L283.3,732.9 L284.2,734.9 L285.2,736.9 L286.2,738.9 L287.1,740.9 L288.1,742.9 L289.0,744.9 L290.0,747.0 L290.9,749.0 L291.9,751.0 L292.8,753.0 L293.7,755.1 L294.7,757.1 L295.6,759.1 L296.6,761.1 L297.5,763.1 L298.5,765.1 L299.4,767.2 L300.4,769.2 L301.4,771.2 L302.4,773.2 L303.4,775.2 L304.4,777.2 L305.4,779.1 L306.4,781.1 L307.4,783.1 L308.5,785.1 L309.6,787.0 L310.6,789.0 L311.7,790.9 L312.9,792.8 L314.0,794.8 L315.1,796.7 L316.3,798.6 L317.5,800.5 L318.7,802.4 L320.0,804.2 L321.2,806.1 L322.5,807.9 L323.9,809.7 L325.2,811.5 L326.6,813.2 L328.0,814.9 L329.5,816.5 L331.0,818.1 L332.6,819.7 L334.2,821.2 L335.8,822.7 L337.5,824.1 L339.2,825.4 L341.0,826.7 L342.8,828.0 L344.6,829.2 L346.4,830.3 L348.3,831.4 L350.3,832.4 L352.2,833.3 L354.2,834.2 L356.2,835.0 L358.3,835.8 L360.4,836.5 L362.5,837.1 L364.6,837.7 L366.8,838.3 L368.9,838.8 L371.1,839.3 L373.3,839.7 L375.5,840.1 L377.7,840.5 L380.0,840.8 L382.2,841.2 L384.4,841.5 L386.6,841.8 L388.9,842.1 L391.1,842.3 L393.3,842.6 L395.5,842.9 L397.8,843.1 L400.0,843.3 L402.2,843.6 L404.4,843.8 L406.7,844.0 L408.9,844.2 L411.1,844.4 L413.3,844.6 L415.5,844.7 L417.7,844.9 L420.0,845.1 L422.2,845.2 L424.4,845.3 L426.6,845.5 L428.8,845.6 L431.0,845.7 L433.2,845.8 L435.5,846.0 L437.7,846.1 L439.9,846.2 L442.1,846.3 L444.3,846.3 L446.5,846.4 L448.7,846.5 L450.9,846.6 L453.2,846.7 L455.4,846.7 L457.6,846.8 L459.8,846.9 L462.0,846.9 L464.2,847.0 L466.4,847.1 L468.7,847.1 L470.9,847.2 L473.1,847.2 L475.3,847.3 L477.5,847.3 L479.7,847.4 L482.0,847.4 L484.2,847.5 L486.4,847.5 L488.6,847.6 L490.8,847.6 L493.1,847.6 L495.3,847.7 L497.5,847.7 L499.7,847.7 L501.9,847.8 L504.2,847.8 L506.4,847.8 L508.6,847.9 L510.8,847.9 L513.0,847.9 L515.3,847.9 L517.5,848.0 L519.7,848.0 L521.9,848.0 L524.1,848.0 L526.4,848.0 L528.6,848.1 L530.8,848.1 L533.0,848.1 L535.3,848.1 L537.5,848.1 L539.7,848.1 L541.9,848.1 L544.1,848.1 L546.4,848.2 L548.6,848.2 L550.8,848.2 L553.0,848.2 L555.3,848.2 L557.5,848.2 L559.7,848.2 L561.9,848.2 L564.1,848.2 L566.4,848.2 L568.6,848.2 L570.8,848.2 L573.0,848.2 L575.3,848.2 L577.5,848.2 L579.7,848.2 L581.9,848.2 L584.1,848.2 L586.4,848.2 L588.6,848.2 L590.8,848.2 L593.0,848.2 L595.2,848.2 L597.5,848.2 L599.7,848.2 L601.9,848.2 L604.1,848.2 L606.4,848.2 L608.6,848.2 L610.8,848.2 L613.0,848.2 L615.2,848.2 L617.5,848.2 L619.7,848.2 L621.9,848.3 L624.1,848.3 L626.3,848.3 L628.5,848.3 L630.8,848.3 L633.0,848.3 L635.2,848.3 L637.4,848.3 L639.6,848.3 L641.9,848.3 L644.1,848.3 L646.3,848.3" fill="none" stroke="#1e90ff" stroke-width="1.6"/>
<path d="M79.0,824.6 L81.2,824.6 L83.4,824.6 L85.6,824.6 L87.8,824.6 L90.0,824.6 L92.2,824.5 L94.4,824.5 L96.6,824.5 L98.8,824.5 L101.0,824.5 L103.2,824.5 L105.3,824.4 L107.5,824.4 L109.7,824.4 L111.8,824.4 L114.0,824.3 L116.2,824.3 L118.3,824.3 L120.5,824.3 L122.7,824.2 L124.8,824.2 L127.0,824.2 L129.1,824.1 L131.3,824.1 L133.4,824.0 L135.6,824.0 L137.7,823.9 L139.9,823.9 L142.0,823.8 L144.2,823.8 L146.3,823.7 L148.4,823.7 L150.6,823.6 L152.7,823.5 L154.9,823.5 L157.0,823.4 L159.2,823.3 L161.3,823.3 L163.5,823.2 L165.6,823.1 L167.8,823.0 L169.9,822.9 L172.1,822.8 L174.2,822.7 L176.4,822.6 L178.6,822.5 L180.7,822.4 L182.9,822.3 L185.0,822.2 L187.2,822.1 L189.4,822.0 L191.6,821.8 L193.7,821.7 L195.9,821.6 L198.1,821.4 L200.3,821.3 L202.5,821.1 L204.7,821.0 L206.9,820.8 L209.1,820.7 L211.3,820.5 L213.5,820.3 L215.7,820.2 L217.9,820.0 L220.1,819.8 L222.3,819.5 L224.5,819.3 L226.7,819.1 L228.9,818.8 L231.1,818.5 L233.3,818.2 L235.4,817.9 L237.6,817.6 L239.8,817.2 L241.9,816.8 L244.1,816.4 L246.2,816.0 L248.3,815.5 L250.5,815.0 L252.6,814.5 L254.6,814.0 L256.7,813.4 L258.8,812.7 L260.8,812.1 L262.8,811.4 L264.9,810.7 L266.8,809.9 L268.8,809.1 L270.8,808.3 L272.7,807.4 L274.6,806.5 L276.5,805.5 L278.4,804.5 L280.2,803.4 L282.0,802.3 L283.8,801.2 L285.6,800.0 L287.4,798.7 L289.1,797.4 L290.8,796.1 L292.5,794.7 L294.1,793.3 L295.7,791.9 L297.3,790.4 L298.9,788.9 L300.4,787.4 L301.9,785.8 L303.4,784.2 L304.9,782.6 L306.3,780.9 L307.7,779.2 L309.1,777.5 L310.5,775.8 L311.8,774.0 L313.1,772.2 L314.4,770.4 L315.6,768.6 L316.8,766.8 L318.0,764.9 L319.1,763.1 L320.2,761.2 L321.3,759.3 L322.4,757.4 L323.5,755.5 L324.5,753.6 L325.5,751.6 L326.5,749.7 L327.5,747.7 L328.4,745.8 L329.4,743.8 L330.3,741.8 L331.2,739.9 L332.2,737.9 L333.1,735.9 L334.0,734.0 L334.9,732.0 L335.8,730.0 L336.7,728.0 L337.7,726.1 L338.6,724.1 L339.5,722.2 L340.4,720.2 L341.4,718.3 L342.3,716.3 L343.3,714.4 L344.3,712.5 L345.3,710.6 L346.3,708.7 L347.4,706.8 L348.4,704.9 L349.5,703.1 L350.7,701.2 L351.8,699.4 L353.0,697.6 L354.2,695.8 L355.4,694.1 L356.7,692.3 L358.0,690.6 L359.3,688.9 L360.7,687.2 L362.1,685.6 L363.5,683.9 L365.0,682.3 L366.5,680.8 L368.0,679.3 L369.6,677.8 L371.2,676.3 L372.8,674.8 L374.5,673.4 L376.2,672.1 L377.9,670.7 L379.6,669.4 L381.3,668.0 L383.1,666.8 L384.8,665.5 L386.6,664.2 L388.4,663.0 L390.2,661.8 L392.1,660.6 L393.9,659.4 L395.7,658.3 L397.6,657.2 L399.5,656.1 L401.3,655.0 L403.2,653.9 L405.1,652.9 L407.0,651.8 L408.9,650.8 L410.9,649.9 L412.8,648.9 L414.7,648.0 L416.7,647.1 L418.7,646.2 L420.7,645.3 L422.7,644.5 L424.7,643.7 L426.7,642.9 L428.7,642.1 L430.7,641.4 L432.8,640.7 L434.9,640.0 L436.9,639.4 L439.0,638.8 L441.1,638.2 L443.2,637.6 L445.3,637.0 L447.4,636.5 L449.6,636.0 L451.7,635.5 L453.8,635.0 L455.9,634.5 L458.1,634.1 L460.2,633.6 L462.3,633.2 L464.5,632.8 L466.6,632.4 L468.7,632.0 L470.9,631.6 L473.0,631.2 L475.1,630.9 L477.3,630.5 L479.4,630.2 L481.6,629.9 L483.7,629.6 L485.9,629.3 L488.0,629.0 L490.2,628.7 L492.3,628.4 L494.5,628.2 L496.6,627.9 L498.8,627.7 L500.9,627.5 L503.1,627.3 L505.3,627.0 L507.4,626.9 L509.6,626.7 L511.7,626.5 L513.9,626.3 L516.1,626.2 L518.2,626.0 L520.4,625.9 L522.6,625.7 L524.7,625.6 L526.9,625.5 L529.1,625.3 L531.2,625.2 L533.4,625.1 L535.6,625.0 L537.7,624.9 L539.9,624.9 L542.1,624.8 L544.2,624.7 L546.4,624.6 L548.6,624.6 L550.8,624.5 L552.9,624.5 L555.1,624.4 L557.3,624.4 L559.5,624.3 L561.6,624.3 L563.8,624.3 L566.0,624.2 L568.2,624.2 L570.3,624.2 L572.5,624.1 L574.7,624.1 L576.9,624.1 L579.0,624.1 L581.2,624.1 L583.4,624.1 L585.6,624.1 L587.7,624.1 L589.9,624.1 L592.1,624.1 L594.3,624.0 L596.4,624.0 L598.6,624.0 L600.8,624.0 L603.0,624.0 L605.1,624.0 L607.3,624.0 L609.5,624.0 L611.7,624.0 L613.8,624.0 L616.0,624.0 L618.2,624.0 L620.3,624.0 L622.5,624.0 L624.7,623.9 L626.8,623.9 L629.0,623.9 L631.2,623.9 L633.3,623.8 L635.5,623.8 L637.7,623.8 L639.8,623.7 L642.0,623.7 L644.1,623.6 L646.3,623.6" fill="none" stroke="#ff0000" stroke-width="1.6"/>
<path d="M79.0,846.0 L81.4,845.9 L83.8,845.8 L86.3,845.7 L88.7,845.6 L91.1,845.5 L93.6,845.4 L96.0,845.2 L98.4,845.1 L100.8,845.0 L103.2,844.8 L105.6,844.6 L108.1,844.5 L110.5,844.3 L112.9,844.1 L115.3,843.9 L117.7,843.6 L120.1,843.4 L122.5,843.1 L124.9,842.9 L127.3,842.6 L129.7,842.3 L132.1,842.0 L134.5,841.7 L136.8,841.4 L139.2,841.0 L141.6,840.7 L144.0,840.3 L146.4,839.9 L148.7,839.5 L151.1,839.0 L153.5,838.6 L155.8,838.1 L158.2,837.6 L160.6,837.1 L162.9,836.5 L165.3,836.0 L167.6,835.4 L170.0,834.8 L172.3,834.2 L174.7,833.6 L177.0,832.9 L179.4,832.2 L181.7,831.5 L184.0,830.8 L186.4,830.0 L188.7,829.2 L191.0,828.4 L193.3,827.6 L195.6,826.7 L197.9,825.8 L200.1,824.8 L202.3,823.9 L204.6,822.9 L206.8,821.8 L208.9,820.7 L211.1,819.6 L213.2,818.4 L215.3,817.2 L217.4,816.0 L219.4,814.7 L221.4,813.4 L223.3,812.0 L225.3,810.6 L227.2,809.1 L229.0,807.6 L230.8,806.0 L232.6,804.4 L234.3,802.8 L236.0,801.1 L237.7,799.4 L239.3,797.6 L241.0,795.8 L242.5,794.0 L244.1,792.2 L245.6,790.3 L247.1,788.4 L248.6,786.5 L250.1,784.5 L251.5,782.6 L252.9,780.6 L254.3,778.6 L255.7,776.6 L257.0,774.6 L258.4,772.5 L259.7,770.5 L261.0,768.4 L262.3,766.4 L263.6,764.3 L264.9,762.2 L266.2,760.1 L267.5,758.1 L268.8,756.0 L270.0,753.9 L271.3,751.9 L272.6,749.8 L273.9,747.7 L275.2,745.7 L276.4,743.6 L277.7,741.6 L279.0,739.5 L280.2,737.4 L281.4,735.4 L282.6,733.3 L283.8,731.3 L285.0,729.2 L286.2,727.1 L287.4,725.1 L288.6,723.0 L289.7,720.9 L290.9,718.8 L292.0,716.8 L293.2,714.7 L294.3,712.6 L295.5,710.5 L296.6,708.4 L297.7,706.2 L298.9,704.1 L300.0,702.0 L301.1,699.8 L302.2,697.7 L303.4,695.5 L304.5,693.3 L305.6,691.1 L306.7,688.9 L307.9,686.7 L309.0,684.5 L310.2,682.3 L311.4,680.1 L312.5,677.9 L313.8,675.7 L315.0,673.5 L316.2,671.4 L317.5,669.3 L318.8,667.2 L320.1,665.1 L321.5,663.1 L322.9,661.1 L324.3,659.1 L325.8,657.2 L327.3,655.3 L328.8,653.5 L330.4,651.8 L332.1,650.1 L333.8,648.5 L335.5,646.9 L337.3,645.4 L339.2,644.0 L341.1,642.7 L343.1,641.4 L345.1,640.2 L347.2,639.1 L349.4,638.1 L351.6,637.2 L353.8,636.3 L356.1,635.5 L358.4,634.8 L360.7,634.1 L363.1,633.5 L365.4,633.0 L367.8,632.5 L370.2,632.1 L372.6,631.7 L375.0,631.4 L377.5,631.1 L379.9,630.9 L382.3,630.7 L384.7,630.5 L387.2,630.4 L389.6,630.3 L392.0,630.3 L394.5,630.3 L396.9,630.3 L399.4,630.3 L401.8,630.4 L404.2,630.5 L406.7,630.6 L409.1,630.7 L411.6,630.9 L414.0,631.0 L416.4,631.2 L418.8,631.4 L421.3,631.6 L423.7,631.9 L426.1,632.1 L428.5,632.4 L430.9,632.7 L433.3,633.1 L435.7,633.4 L438.1,633.8 L440.5,634.2 L442.9,634.6 L445.3,635.0 L447.7,635.5 L450.0,635.9 L452.4,636.5 L454.7,637.0 L457.1,637.5 L459.4,638.1 L461.8,638.7 L464.1,639.3 L466.4,640.0 L468.7,640.6 L471.0,641.3 L473.3,642.1 L475.6,642.8 L477.9,643.6 L480.1,644.4 L482.4,645.2 L484.7,646.1 L486.9,647.0 L489.1,647.9 L491.3,648.8 L493.6,649.8 L495.8,650.7 L497.9,651.8 L500.1,652.8 L502.3,653.9 L504.4,654.9 L506.6,656.1 L508.7,657.2 L510.8,658.4 L513.0,659.5 L515.1,660.7 L517.1,662.0 L519.2,663.2 L521.3,664.5 L523.3,665.8 L525.4,667.1 L527.4,668.5 L529.4,669.8 L531.4,671.2 L533.4,672.6 L535.3,674.0 L537.3,675.5 L539.2,676.9 L541.1,678.4 L543.0,679.9 L544.9,681.4 L546.8,683.0 L548.7,684.6 L550.5,686.1 L552.4,687.7 L554.2,689.3 L556.0,691.0 L557.8,692.6 L559.5,694.3 L561.3,696.0 L563.0,697.7 L564.7,699.4 L566.4,701.1 L568.1,702.9 L569.8,704.6 L571.4,706.4 L573.1,708.2 L574.7,710.0 L576.3,711.8 L577.8,713.6 L579.4,715.5 L581.0,717.3 L582.5,719.2 L584.0,721.1 L585.6,722.9 L587.1,724.8 L588.6,726.7 L590.1,728.6 L591.6,730.5 L593.1,732.4 L594.6,734.3 L596.1,736.2 L597.6,738.1 L599.1,740.0 L600.6,741.9 L602.1,743.8 L603.6,745.6 L605.1,747.5 L606.6,749.4 L608.1,751.2 L609.7,753.1 L611.2,754.9 L612.8,756.8 L614.4,758.6 L616.0,760.4 L617.6,762.2 L619.2,764.0 L620.8,765.7 L622.5,767.5 L624.2,769.2 L625.9,770.9 L627.6,772.6 L629.4,774.3 L631.1,775.9 L632.9,777.6 L634.8,779.2 L636.6,780.8 L638.5,782.3 L640.5,783.8 L642.4,785.3 L644.4,786.8 L646.4,788.2" fill="none" stroke="#7f0fff" stroke-width="1.6"/>
</g>
<path d="M81.4,263.3v5M81.4,613.3v-5M81.4,613.3v5M81.4,858.0v-5M115.4,263.3v2.8M115.4,613.3v-2.8M115.4,613.3v2.8M115.4,858.0v-2.8M135.3,263.3v2.8M135.3,613.3v-2.8M135.3,613.3v2.8M135.3,858.0v-2.8M149.4,263.3v2.8M149.4,613.3v-2.8M149.4,613.3v2.8M149.4,858.0v-2.8M160.4,263.3v2.8M160.4,613.3v-2.8M160.4,613.3v2.8M160.4,858.0v-2.8M169.3,263.3v2.8M169.3,613.3v-2.8M169.3,613.3v2.8M169.3,858.0v-2.8M176.9,263.3v2.8M176.9,613.3v-2.8M176.9,613.3v2.8M176.9,858.0v-2.8M183.4,263.3v2.8M183.4,613.3v-2.8M183.4,613.3v2.8M183.4,858.0v-2.8M189.2,263.3v2.8M189.2,613.3v-2.8M189.2,613.3v2.8M189.2,858.0v-2.8M194.4,263.3v5M194.4,613.3v-5M194.4,613.3v5M194.4,858.0v-5M228.4,263.3v2.8M228.4,613.3v-2.8M228.4,613.3v2.8M228.4,858.0v-2.8M248.3,263.3v2.8M248.3,613.3v-2.8M248.3,613.3v2.8M248.3,858.0v-2.8M262.4,263.3v2.8M262.4,613.3v-2.8M262.4,613.3v2.8M262.4,858.0v-2.8M273.4,263.3v2.8M273.4,613.3v-2.8M273.4,613.3v2.8M273.4,858.0v-2.8M282.3,263.3v2.8M282.3,613.3v-2.8M282.3,613.3v2.8M282.3,858.0v-2.8M289.9,263.3v2.8M289.9,613.3v-2.8M289.9,613.3v2.8M289.9,858.0v-2.8M296.4,263.3v2.8M296.4,613.3v-2.8M296.4,613.3v2.8M296.4,858.0v-2.8M302.2,263.3v2.8M302.2,613.3v-2.8M302.2,613.3v2.8M302.2,858.0v-2.8M307.4,263.3v5M307.4,613.3v-5M307.4,613.3v5M307.4,858.0v-5M341.4,263.3v2.8M341.4,613.3v-2.8M341.4,613.3v2.8M341.4,858.0v-2.8M361.3,263.3v2.8M361.3,613.3v-2.8M361.3,613.3v2.8M361.3,858.0v-2.8M375.4,263.3v2.8M375.4,613.3v-2.8M375.4,613.3v2.8M375.4,858.0v-2.8M386.4,263.3v2.8M386.4,613.3v-2.8M386.4,613.3v2.8M386.4,858.0v-2.8M395.3,263.3v2.8M395.3,613.3v-2.8M395.3,613.3v2.8M395.3,858.0v-2.8M402.9,263.3v2.8M402.9,613.3v-2.8M402.9,613.3v2.8M402.9,858.0v-2.8M409.4,263.3v2.8M409.4,613.3v-2.8M409.4,613.3v2.8M409.4,858.0v-2.8M415.2,263.3v2.8M415.2,613.3v-2.8M415.2,613.3v2.8M415.2,858.0v-2.8M420.4,263.3v5M420.4,613.3v-5M420.4,613.3v5M420.4,858.0v-5M454.4,263.3v2.8M454.4,613.3v-2.8M454.4,613.3v2.8M454.4,858.0v-2.8M474.3,263.3v2.8M474.3,613.3v-2.8M474.3,613.3v2.8M474.3,858.0v-2.8M488.4,263.3v2.8M488.4,613.3v-2.8M488.4,613.3v2.8M488.4,858.0v-2.8M499.4,263.3v2.8M499.4,613.3v-2.8M499.4,613.3v2.8M499.4,858.0v-2.8M508.3,263.3v2.8M508.3,613.3v-2.8M508.3,613.3v2.8M508.3,858.0v-2.8M515.9,263.3v2.8M515.9,613.3v-2.8M515.9,613.3v2.8M515.9,858.0v-2.8M522.4,263.3v2.8M522.4,613.3v-2.8M522.4,613.3v2.8M522.4,858.0v-2.8M528.2,263.3v2.8M528.2,613.3v-2.8M528.2,613.3v2.8M528.2,858.0v-2.8M533.4,263.3v5M533.4,613.3v-5M533.4,613.3v5M533.4,858.0v-5M567.4,263.3v2.8M567.4,613.3v-2.8M567.4,613.3v2.8M567.4,858.0v-2.8M587.3,263.3v2.8M587.3,613.3v-2.8M587.3,613.3v2.8M587.3,858.0v-2.8M601.4,263.3v2.8M601.4,613.3v-2.8M601.4,613.3v2.8M601.4,858.0v-2.8M612.4,263.3v2.8M612.4,613.3v-2.8M612.4,613.3v2.8M612.4,858.0v-2.8M621.3,263.3v2.8M621.3,613.3v-2.8M621.3,613.3v2.8M621.3,858.0v-2.8M628.9,263.3v2.8M628.9,613.3v-2.8M628.9,613.3v2.8M628.9,858.0v-2.8M635.4,263.3v2.8M635.4,613.3v-2.8M635.4,613.3v2.8M635.4,858.0v-2.8M641.2,263.3v2.8M641.2,613.3v-2.8M641.2,613.3v2.8M641.2,858.0v-2.8M646.4,263.3v5M646.4,613.3v-5M646.4,613.3v5M646.4,858.0v-5M79.0,606.4h3M646.3,606.4h-3M79.0,599.9h3M646.3,599.9h-3M79.0,594.3h3M646.3,594.3h-3M79.0,589.4h3M646.3,589.4h-3M79.0,585.0h5.5M646.3,585.0h-5.5M79.0,556.0h3M646.3,556.0h-3M79.0,539.0h3M646.3,539.0h-3M79.0,527.0h3M646.3,527.0h-3M79.0,517.6h3M646.3,517.6h-3M79.0,510.0h3M646.3,510.0h-3M79.0,503.5h3M646.3,503.5h-3M79.0,497.9h3M646.3,497.9h-3M79.0,493.0h3M646.3,493.0h-3M79.0,488.6h5.5M646.3,488.6h-5.5M79.0,459.6h3M646.3,459.6h-3M79.0,442.6h3M646.3,442.6h-3M79.0,430.6h3M646.3,430.6h-3M79.0,421.2h3M646.3,421.2h-3M79.0,413.6h3M646.3,413.6h-3M79.0,407.1h3M646.3,407.1h-3M79.0,401.5h3M646.3,401.5h-3M79.0,396.6h3M646.3,396.6h-3M79.0,392.2h5.5M646.3,392.2h-5.5M79.0,363.2h3M646.3,363.2h-3M79.0,346.2h3M646.3,346.2h-3M79.0,334.2h3M646.3,334.2h-3M79.0,324.8h3M646.3,324.8h-3M79.0,317.2h3M646.3,317.2h-3M79.0,310.7h3M646.3,310.7h-3M79.0,305.1h3M646.3,305.1h-3M79.0,300.2h3M646.3,300.2h-3M79.0,295.8h5.5M646.3,295.8h-5.5M79.0,266.8h3M646.3,266.8h-3M79.0,847.5h5.5M646.3,847.5h-5.5M79.0,836.3h3M646.3,836.3h-3M79.0,825.1h3M646.3,825.1h-3M79.0,813.9h3M646.3,813.9h-3M79.0,802.7h5.5M646.3,802.7h-5.5M79.0,791.5h3M646.3,791.5h-3M79.0,780.3h3M646.3,780.3h-3M79.0,769.1h3M646.3,769.1h-3M79.0,757.9h5.5M646.3,757.9h-5.5M79.0,746.7h3M646.3,746.7h-3M79.0,735.5h3M646.3,735.5h-3M79.0,724.3h3M646.3,724.3h-3M79.0,713.1h5.5M646.3,713.1h-5.5M79.0,701.9h3M646.3,701.9h-3M79.0,690.7h3M646.3,690.7h-3M79.0,679.5h3M646.3,679.5h-3M79.0,668.3h5.5M646.3,668.3h-5.5M79.0,657.1h3M646.3,657.1h-3M79.0,645.9h3M646.3,645.9h-3M79.0,634.7h3M646.3,634.7h-3M79.0,623.5h5.5M646.3,623.5h-5.5" stroke="#000" stroke-width="1.1" fill="none"/>
<path d="M79.0,263.3H646.3V858.0H79.0M79.0,613.3H646.3" fill="none" stroke="#222" stroke-width="1.4"/>
<path d="M79.0,263.3V858.0" fill="none" stroke="#7a7a7a" stroke-width="1.5"/>
<rect x="87.6" y="271.5" width="327.4" height="142.4" fill="#fff" fill-opacity="0.75" stroke="#6a6a6a" stroke-width="1"/>
<path d="M100.8,279.9L106.0,288.9L95.5,288.9Z" fill="#fff" stroke="#1e90ff" stroke-width="1.6" stroke-linejoin="miter"/>
<path d="M100.8,315.1L106.0,306.1L95.5,306.1Z" fill="#fff" stroke="#ff0000" stroke-width="1.6" stroke-linejoin="miter"/>
<rect x="96.3" y="335.2" width="8.6" height="8.6" fill="#fff" stroke="#7f0fff" stroke-width="1.6"/>
<circle cx="100.6" cy="366.3" r="4.3" fill="#fff" stroke="#7f0fff" stroke-width="1.8"/>
<circle cx="100.6" cy="394.2" r="4.3" fill="#fff" stroke="#808080" stroke-width="1.8"/>
<g font-family='"Liberation Sans", sans-serif' fill="#000">
<text font-size="20" font-style="italic" transform="matrix(1,0,0,1.08,115.50,292.90)">k</text><text font-size="13" transform="matrix(1,0,0,1.08,126.30,285.90)">obs</text><text font-size="13" transform="matrix(1,0,0,1.08,126.30,299.90)">on</text>
<text font-size="20" font-style="italic" transform="matrix(1,0,0,1.08,115.50,319.50)">k</text><text font-size="13" transform="matrix(1,0,0,1.08,126.30,312.50)">obs</text><text font-size="13" transform="matrix(1,0,0,1.08,126.30,326.50)">off</text>
<text font-size="20" font-style="italic" transform="matrix(1,0,0,1.08,115.50,347.30)">k</text><text font-size="13" transform="matrix(1,0,0,1.08,126.30,340.30)">obs</text><text font-size="13" transform="matrix(1,0,0,1.08,126.30,354.30)">on</text>
<text font-size="18" transform="matrix(1,0,0,1.08,147.50,347.30)">+</text>
<text font-size="20" font-style="italic" transform="matrix(1,0,0,1.08,159.50,347.30)">k</text><text font-size="13" transform="matrix(1,0,0,1.08,170.30,340.30)">obs</text><text font-size="13" transform="matrix(1,0,0,1.08,170.30,354.30)">off</text>
<text font-size="20" font-style="italic" transform="matrix(1,0,0,1.08,115.50,373.60)">k</text><text font-size="13" textLength="92" lengthAdjust="spacingAndGlyphs" transform="matrix(1,0,0,1.08,126.00,381.20)">ex, stopped-flow</text>
<text font-size="20" font-style="italic" transform="matrix(1,0,0,1.08,115.50,402.00)">k</text><text font-size="13" textLength="81" lengthAdjust="spacingAndGlyphs" transform="matrix(1,0,0,1.08,126.00,409.00)">ex, recurrence</text>
<text font-size="15.5" transform="matrix(1,0,0,1.08,156.70,289.00)">(</text><path d="M162.8,284.1H180.2" stroke="#1e90ff" stroke-width="1.7"/><text font-size="15.5" transform="matrix(1,0,0,1.08,183.50,289.00)">fit 3-state,</text><path d="M255.2,284.1H275.1" stroke="#1e90ff" stroke-width="1.7" stroke-dasharray="8.3,5"/><text font-size="15.5" transform="matrix(1,0,0,1.08,279.90,289.00)">2-state)</text>
<text font-size="15.5" transform="matrix(1,0,0,1.08,156.70,315.60)">(</text><path d="M162.8,310.7H180.2" stroke="#ff0000" stroke-width="1.7"/><text font-size="15.5" transform="matrix(1,0,0,1.08,183.50,315.60)">fit 3-state,</text><path d="M255.2,310.7H275.1" stroke="#ff0000" stroke-width="1.7" stroke-dasharray="8.3,5"/><text font-size="15.5" transform="matrix(1,0,0,1.08,279.90,315.60)">2-state)</text>
<text font-size="15.5" transform="matrix(1,0,0,1.08,232.10,358.40)">(</text><path d="M237.8,353.5H255.7" stroke="#7f0fff" stroke-width="1.7"/><text font-size="15.5" transform="matrix(1,0,0,1.08,259.40,358.40)">fit 3-state,</text><path d="M330.9,353.5H350.2" stroke="#7f0fff" stroke-width="1.7" stroke-dasharray="8.3,5"/><text font-size="15.5" transform="matrix(1,0,0,1.08,354.00,358.40)">2-state)</text>
<text font-size="15.5" transform="matrix(1,0,0,1.08,220.20,398.20)">(</text><path d="M224.7,393.3H242.7" stroke="#808080" stroke-width="1.7"/><text font-size="15.5" transform="matrix(1,0,0,1.08,246.60,398.20)">fit 3-state,</text><path d="M319.0,393.3H338.5" stroke="#808080" stroke-width="1.7" stroke-dasharray="8.3,5"/><text font-size="15.5" transform="matrix(1,0,0,1.08,343.50,398.20)">2-state)</text>
<path d="M219.2,335.3C223.6,335.3 223.6,337.5 223.6,341V348.2C223.6,351.6 225,353 228.3,353.2C225,353.4 223.6,354.8 223.6,358.2V365.5C223.6,369 223.6,371.2 219.2,371.2" fill="none" stroke="#000" stroke-width="2.1"/>
</g>
<rect x="87.2" y="671.6" width="98" height="134.7" fill="#fff" stroke="#6a6a6a" stroke-width="1"/>
<g font-family='"Liberation Sans", sans-serif' fill="#000">
<path d="M93.8,685.7H107.4" stroke="#ff0000" stroke-width="1.8"/>
<text font-size="20" font-style="italic" transform="matrix(1,0,0,1.08,111.50,690.20)">c</text>
<text font-size="12.8" transform="matrix(1,0,0,1.08,121.60,697.40)">P</text>
<text font-size="20" transform="matrix(1,0,0,1.08,128.60,690.20)">/</text>
<text font-size="20" font-style="italic" transform="matrix(1,0,0,1.08,136.20,690.20)">c</text>
<text font-size="12.8" transform="matrix(1,0,0,1.08,147.90,683.00)">tot</text>
<text font-size="12.8" transform="matrix(1,0,0,1.08,147.90,697.40)">P</text>
<path d="M93.8,712.0H107.4" stroke="#1e90ff" stroke-width="1.8"/>
<text font-size="20" font-style="italic" transform="matrix(1,0,0,1.08,111.50,716.50)">c</text>
<text font-size="12.8" transform="matrix(1,0,0,1.08,121.60,723.70)">H</text>
<text font-size="20" transform="matrix(1,0,0,1.08,128.80,716.50)">/</text>
<text font-size="20" font-style="italic" transform="matrix(1,0,0,1.08,136.40,716.50)">c</text>
<text font-size="12.8" transform="matrix(1,0,0,1.08,148.10,709.30)">tot</text>
<text font-size="12.8" transform="matrix(1,0,0,1.08,148.10,723.70)">H</text>
<path d="M93.8,738.3H107.4" stroke="#7f0fff" stroke-width="1.8"/>
<text font-size="20" font-style="italic" transform="matrix(1,0,0,1.08,111.50,742.80)">c</text>
<text font-size="12.8" transform="matrix(1,0,0,1.08,121.60,750.00)">PH</text>
<text font-size="20" transform="matrix(1,0,0,1.08,137.30,742.80)">/</text>
<text font-size="20" font-style="italic" transform="matrix(1,0,0,1.08,144.90,742.80)">c</text>
<text font-size="12.8" transform="matrix(1,0,0,1.08,156.60,735.60)">tot</text>
<text font-size="12.8" transform="matrix(1,0,0,1.08,156.60,750.00)">H</text>
<path d="M93.8,764.6H107.4" stroke="#ff0000" stroke-width="1.8" stroke-dasharray="7.5,2.2,1.5,2.2"/>
<text font-size="20" font-style="italic" transform="matrix(1,0,0,1.08,111.50,769.10)">c</text>
<text font-size="12.8" transform="matrix(1,0,0,1.08,121.60,776.30)">PPH</text>
<text font-size="20" transform="matrix(1,0,0,1.08,145.80,769.10)">/</text>
<text font-size="20" font-style="italic" transform="matrix(1,0,0,1.08,153.40,769.10)">c</text>
<text font-size="12.8" transform="matrix(1,0,0,1.08,165.10,761.90)">tot</text>
<text font-size="12.8" transform="matrix(1,0,0,1.08,165.10,776.30)">H</text>
<path d="M93.8,790.9H107.4" stroke="#1e90ff" stroke-width="1.8" stroke-dasharray="7.5,2.2,1.5,2.2"/>
<text font-size="20" font-style="italic" transform="matrix(1,0,0,1.08,111.50,795.40)">c</text>
<text font-size="12.8" transform="matrix(1,0,0,1.08,121.60,802.60)">PHH</text>
<text font-size="20" transform="matrix(1,0,0,1.08,146.60,795.40)">/</text>
<text font-size="20" font-style="italic" transform="matrix(1,0,0,1.08,154.20,795.40)">c</text>
<text font-size="12.8" transform="matrix(1,0,0,1.08,165.90,788.20)">tot</text>
<text font-size="12.8" transform="matrix(1,0,0,1.08,165.90,802.60)">H</text>
</g>
<g font-family='"Liberation Sans", sans-serif' font-size="20" fill="#000">
<text font-size="21" transform="matrix(1,0,0,1.08,23.92,304.40)">1000</text>
<text font-size="21" transform="matrix(1,0,0,1.08,35.95,401.20)">100</text>
<text font-size="21" transform="matrix(1,0,0,1.08,47.60,497.10)">10</text>
<text font-size="21" transform="matrix(1,0,0,1.08,57.28,593.00)">1</text>
<text font-size="21" transform="matrix(1,0,0,1.08,40.03,629.00)">1.0</text>
<text font-size="21" transform="matrix(1,0,0,1.08,40.15,673.90)">0.8</text>
<text font-size="21" transform="matrix(1,0,0,1.08,40.15,718.80)">0.6</text>
<text font-size="21" transform="matrix(1,0,0,1.08,39.78,763.70)">0.4</text>
<text font-size="21" transform="matrix(1,0,0,1.08,40.28,808.60)">0.2</text>
<text font-size="21" transform="matrix(1,0,0,1.08,40.03,853.50)">0.0</text>
<text font-size="21" transform="matrix(1,0,0,1.08,66.01,883.00)">0.1</text>
<text font-size="21" transform="matrix(1,0,0,1.08,187.88,883.00)">1</text>
<text font-size="21" transform="matrix(1,0,0,1.08,295.59,883.00)">10</text>
<text font-size="21" transform="matrix(1,0,0,1.08,402.16,883.00)">100</text>
<text font-size="21" transform="matrix(1,0,0,1.08,509.95,883.00)">1000</text>
<text font-size="21" transform="matrix(1,0,0,1.08,629.77,883.00)">10</text>
<text font-size="12" transform="matrix(1,0,0,1.08,652.75,872.50)">4</text>
<text font-size="21" transform="matrix(1,0,0,1.08,280.54,916.60)">ProTα conc. (nM)</text>
<text font-size="28" font-weight="bold" transform="matrix(1,0,0,1.08,1.08,270.00)">c</text>
<text font-size="28" font-weight="bold" transform="matrix(1,0,0,1.08,1.08,621.30)">d</text>
<text transform="translate(22.8,735.6) rotate(-90) scale(1,1.08)" text-anchor="middle" font-size="20.4">Population fraction</text>
<text transform="translate(15.8,463.8) rotate(-90) scale(1,1.08)"><tspan font-style="italic">k</tspan> (s<tspan font-size="12" dy="-7">-1</tspan><tspan dy="7">)</tspan></text>
</g>
</svg></body></html>
